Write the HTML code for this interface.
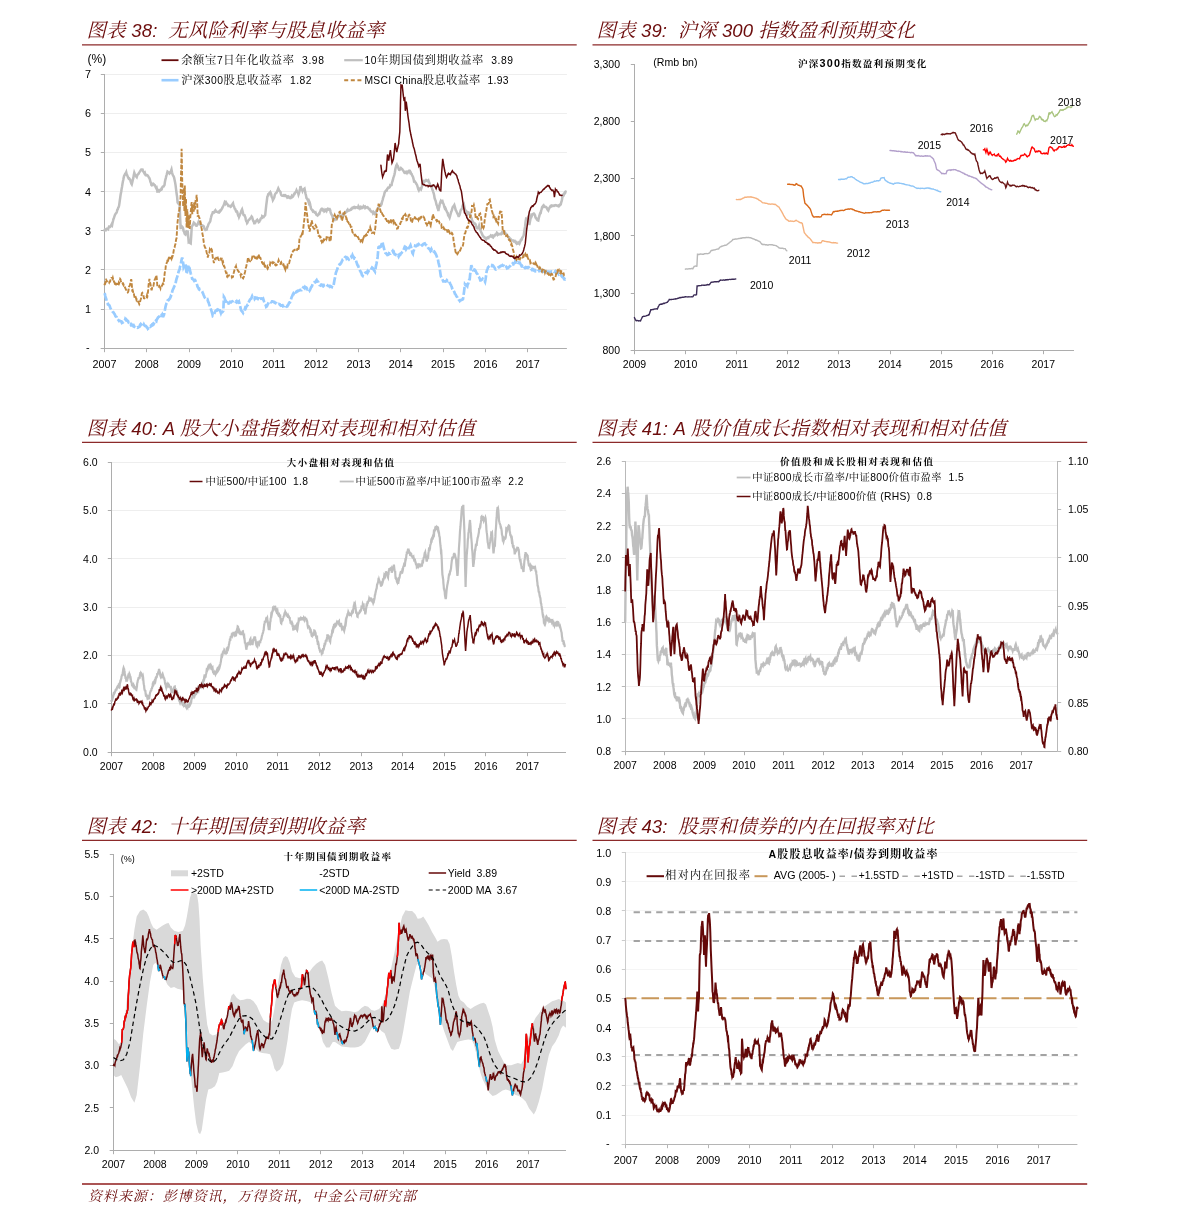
<!DOCTYPE html>
<html lang="zh"><head><meta charset="utf-8"><title>图表 38-43</title>
<style>html,body{margin:0;padding:0;background:#fff}svg{display:block}</style></head>
<body>
<svg width="1191" height="1225" viewBox="0 0 1191 1225">
<rect width="1191" height="1225" fill="#fff"/>
<text x="86.4" y="37.0" fill="#6c0c0c" text-anchor="start" font-style="italic" textLength="297.8" lengthAdjust="spacing" xml:space="preserve" style="white-space:pre"><tspan font-family='"Liberation Sans", "Noto Serif CJK SC", serif' font-size="19.5">图表 </tspan><tspan font-family='"Liberation Sans", sans-serif' font-size="18.5">38:  </tspan><tspan font-family='"Liberation Sans", "Noto Serif CJK SC", serif' font-size="19.5">无风险利率与股息收益率</tspan></text>
<line x1="82.0" y1="44.8" x2="576.7" y2="44.8" stroke="#8c2a2a" stroke-width="1.3"/>
<text x="596.5" y="37.0" fill="#6c0c0c" text-anchor="start" font-style="italic" textLength="318.2" lengthAdjust="spacing" xml:space="preserve" style="white-space:pre"><tspan font-family='"Liberation Sans", "Noto Serif CJK SC", serif' font-size="19.5">图表 </tspan><tspan font-family='"Liberation Sans", sans-serif' font-size="18.5">39:  </tspan><tspan font-family='"Liberation Sans", "Noto Serif CJK SC", serif' font-size="19.5">沪深 </tspan><tspan font-family='"Liberation Sans", sans-serif' font-size="18.5">300 </tspan><tspan font-family='"Liberation Sans", "Noto Serif CJK SC", serif' font-size="19.5">指数盈利预期变化</tspan></text>
<line x1="592.5" y1="44.8" x2="1087.2" y2="44.8" stroke="#8c2a2a" stroke-width="1.3"/>
<text x="86.4" y="435.0" fill="#6c0c0c" text-anchor="start" font-style="italic" textLength="388.5" lengthAdjust="spacing" xml:space="preserve" style="white-space:pre"><tspan font-family='"Liberation Sans", "Noto Serif CJK SC", serif' font-size="19.5">图表 </tspan><tspan font-family='"Liberation Sans", sans-serif' font-size="18.5">40: A </tspan><tspan font-family='"Liberation Sans", "Noto Serif CJK SC", serif' font-size="19.5">股大小盘指数相对表现和相对估值</tspan></text>
<line x1="82.0" y1="442.3" x2="576.7" y2="442.3" stroke="#8c2a2a" stroke-width="1.3"/>
<text x="596.5" y="435.0" fill="#6c0c0c" text-anchor="start" font-style="italic" textLength="410.0" lengthAdjust="spacing" xml:space="preserve" style="white-space:pre"><tspan font-family='"Liberation Sans", "Noto Serif CJK SC", serif' font-size="19.5">图表 </tspan><tspan font-family='"Liberation Sans", sans-serif' font-size="18.5">41: A </tspan><tspan font-family='"Liberation Sans", "Noto Serif CJK SC", serif' font-size="19.5">股价值成长指数相对表现和相对估值</tspan></text>
<line x1="592.5" y1="442.3" x2="1087.2" y2="442.3" stroke="#8c2a2a" stroke-width="1.3"/>
<text x="86.4" y="832.8" fill="#6c0c0c" text-anchor="start" font-style="italic" textLength="278.3" lengthAdjust="spacing" xml:space="preserve" style="white-space:pre"><tspan font-family='"Liberation Sans", "Noto Serif CJK SC", serif' font-size="19.5">图表 </tspan><tspan font-family='"Liberation Sans", sans-serif' font-size="18.5">42:  </tspan><tspan font-family='"Liberation Sans", "Noto Serif CJK SC", serif' font-size="19.5">十年期国债到期收益率</tspan></text>
<line x1="82.0" y1="840.4" x2="576.7" y2="840.4" stroke="#8c2a2a" stroke-width="1.3"/>
<text x="596.5" y="832.8" fill="#6c0c0c" text-anchor="start" font-style="italic" textLength="337.2" lengthAdjust="spacing" xml:space="preserve" style="white-space:pre"><tspan font-family='"Liberation Sans", "Noto Serif CJK SC", serif' font-size="19.5">图表 </tspan><tspan font-family='"Liberation Sans", sans-serif' font-size="18.5">43:  </tspan><tspan font-family='"Liberation Sans", "Noto Serif CJK SC", serif' font-size="19.5">股票和债券的内在回报率对比</tspan></text>
<line x1="592.5" y1="840.4" x2="1087.2" y2="840.4" stroke="#8c2a2a" stroke-width="1.3"/>
<line x1="82.0" y1="1184.0" x2="1087.2" y2="1184.0" stroke="#ab5555" stroke-width="2"/>
<text x="88.0" y="1201.0" fill="#6c0c0c" text-anchor="start" font-style="italic" textLength="328.0" lengthAdjust="spacing" xml:space="preserve" style="white-space:pre"><tspan font-family='"Liberation Sans", "Noto Serif CJK SC", serif' font-size="14">资料来源：彭博资讯，万得资讯，中金公司研究部</tspan></text>
<line x1="104.5" y1="309.5" x2="566.9" y2="309.5" stroke="#eeeeee" stroke-width="1"/>
<line x1="104.5" y1="269.5" x2="566.9" y2="269.5" stroke="#eeeeee" stroke-width="1"/>
<line x1="104.5" y1="230.5" x2="566.9" y2="230.5" stroke="#eeeeee" stroke-width="1"/>
<line x1="104.5" y1="191.5" x2="566.9" y2="191.5" stroke="#eeeeee" stroke-width="1"/>
<line x1="104.5" y1="152.5" x2="566.9" y2="152.5" stroke="#eeeeee" stroke-width="1"/>
<line x1="104.5" y1="113.5" x2="566.9" y2="113.5" stroke="#eeeeee" stroke-width="1"/>
<line x1="104.5" y1="74.5" x2="566.9" y2="74.5" stroke="#eeeeee" stroke-width="1"/>
<line x1="104.5" y1="74.0" x2="104.5" y2="348.5" stroke="#adadad" stroke-width="1"/>
<line x1="100.8" y1="348.5" x2="566.9" y2="348.5" stroke="#adadad" stroke-width="1"/>
<line x1="100.8" y1="348.5" x2="104.5" y2="348.5" stroke="#adadad" stroke-width="1"/>
<line x1="100.8" y1="309.5" x2="104.5" y2="309.5" stroke="#adadad" stroke-width="1"/>
<line x1="100.8" y1="269.5" x2="104.5" y2="269.5" stroke="#adadad" stroke-width="1"/>
<line x1="100.8" y1="230.5" x2="104.5" y2="230.5" stroke="#adadad" stroke-width="1"/>
<line x1="100.8" y1="191.5" x2="104.5" y2="191.5" stroke="#adadad" stroke-width="1"/>
<line x1="100.8" y1="152.5" x2="104.5" y2="152.5" stroke="#adadad" stroke-width="1"/>
<line x1="100.8" y1="113.5" x2="104.5" y2="113.5" stroke="#adadad" stroke-width="1"/>
<line x1="100.8" y1="74.5" x2="104.5" y2="74.5" stroke="#adadad" stroke-width="1"/>
<line x1="104.5" y1="348.5" x2="104.5" y2="352.2" stroke="#adadad" stroke-width="1"/>
<line x1="146.5" y1="348.5" x2="146.5" y2="352.2" stroke="#adadad" stroke-width="1"/>
<line x1="189.5" y1="348.5" x2="189.5" y2="352.2" stroke="#adadad" stroke-width="1"/>
<line x1="231.5" y1="348.5" x2="231.5" y2="352.2" stroke="#adadad" stroke-width="1"/>
<line x1="273.5" y1="348.5" x2="273.5" y2="352.2" stroke="#adadad" stroke-width="1"/>
<line x1="316.5" y1="348.5" x2="316.5" y2="352.2" stroke="#adadad" stroke-width="1"/>
<line x1="358.5" y1="348.5" x2="358.5" y2="352.2" stroke="#adadad" stroke-width="1"/>
<line x1="400.5" y1="348.5" x2="400.5" y2="352.2" stroke="#adadad" stroke-width="1"/>
<line x1="443.5" y1="348.5" x2="443.5" y2="352.2" stroke="#adadad" stroke-width="1"/>
<line x1="485.5" y1="348.5" x2="485.5" y2="352.2" stroke="#adadad" stroke-width="1"/>
<line x1="527.5" y1="348.5" x2="527.5" y2="352.2" stroke="#adadad" stroke-width="1"/>
<text x="91.0" y="313.0" font-size="10.8" font-family='"Liberation Sans", "Noto Sans CJK SC", sans-serif' fill="#000" text-anchor="end" xml:space="preserve" style="white-space:pre">1</text>
<text x="91.0" y="273.8" font-size="10.8" font-family='"Liberation Sans", "Noto Sans CJK SC", sans-serif' fill="#000" text-anchor="end" xml:space="preserve" style="white-space:pre">2</text>
<text x="91.0" y="234.7" font-size="10.8" font-family='"Liberation Sans", "Noto Sans CJK SC", sans-serif' fill="#000" text-anchor="end" xml:space="preserve" style="white-space:pre">3</text>
<text x="91.0" y="195.6" font-size="10.8" font-family='"Liberation Sans", "Noto Sans CJK SC", sans-serif' fill="#000" text-anchor="end" xml:space="preserve" style="white-space:pre">4</text>
<text x="91.0" y="156.4" font-size="10.8" font-family='"Liberation Sans", "Noto Sans CJK SC", sans-serif' fill="#000" text-anchor="end" xml:space="preserve" style="white-space:pre">5</text>
<text x="91.0" y="117.3" font-size="10.8" font-family='"Liberation Sans", "Noto Sans CJK SC", sans-serif' fill="#000" text-anchor="end" xml:space="preserve" style="white-space:pre">6</text>
<text x="91.0" y="78.2" font-size="10.8" font-family='"Liberation Sans", "Noto Sans CJK SC", sans-serif' fill="#000" text-anchor="end" xml:space="preserve" style="white-space:pre">7</text>
<text x="89.5" y="350.9" font-size="10.8" font-family='"Liberation Sans", "Noto Sans CJK SC", sans-serif' fill="#000" text-anchor="end" xml:space="preserve" style="white-space:pre">-</text>
<text x="104.5" y="367.7" font-size="10.8" font-family='"Liberation Sans", "Noto Sans CJK SC", sans-serif' fill="#000" text-anchor="middle" xml:space="preserve" style="white-space:pre">2007</text>
<text x="146.8" y="367.7" font-size="10.8" font-family='"Liberation Sans", "Noto Sans CJK SC", sans-serif' fill="#000" text-anchor="middle" xml:space="preserve" style="white-space:pre">2008</text>
<text x="189.1" y="367.7" font-size="10.8" font-family='"Liberation Sans", "Noto Sans CJK SC", sans-serif' fill="#000" text-anchor="middle" xml:space="preserve" style="white-space:pre">2009</text>
<text x="231.5" y="367.7" font-size="10.8" font-family='"Liberation Sans", "Noto Sans CJK SC", sans-serif' fill="#000" text-anchor="middle" xml:space="preserve" style="white-space:pre">2010</text>
<text x="273.8" y="367.7" font-size="10.8" font-family='"Liberation Sans", "Noto Sans CJK SC", sans-serif' fill="#000" text-anchor="middle" xml:space="preserve" style="white-space:pre">2011</text>
<text x="316.1" y="367.7" font-size="10.8" font-family='"Liberation Sans", "Noto Sans CJK SC", sans-serif' fill="#000" text-anchor="middle" xml:space="preserve" style="white-space:pre">2012</text>
<text x="358.4" y="367.7" font-size="10.8" font-family='"Liberation Sans", "Noto Sans CJK SC", sans-serif' fill="#000" text-anchor="middle" xml:space="preserve" style="white-space:pre">2013</text>
<text x="400.7" y="367.7" font-size="10.8" font-family='"Liberation Sans", "Noto Sans CJK SC", sans-serif' fill="#000" text-anchor="middle" xml:space="preserve" style="white-space:pre">2014</text>
<text x="443.1" y="367.7" font-size="10.8" font-family='"Liberation Sans", "Noto Sans CJK SC", sans-serif' fill="#000" text-anchor="middle" xml:space="preserve" style="white-space:pre">2015</text>
<text x="485.4" y="367.7" font-size="10.8" font-family='"Liberation Sans", "Noto Sans CJK SC", sans-serif' fill="#000" text-anchor="middle" xml:space="preserve" style="white-space:pre">2016</text>
<text x="527.7" y="367.7" font-size="10.8" font-family='"Liberation Sans", "Noto Sans CJK SC", sans-serif' fill="#000" text-anchor="middle" xml:space="preserve" style="white-space:pre">2017</text>
<text x="87.6" y="63.3" font-size="12" font-family='"Liberation Sans", "Noto Sans CJK SC", sans-serif' fill="#000" text-anchor="start" xml:space="preserve" style="white-space:pre">(%)</text>
<path d="M104.4 230.4l0.5-0.9l0.4 0.3l0.5 0.4l0.4-0.7l0.5-0.8l0.5 0l0.4 0.3l0.5 0.3l0.4-1.4l0.5-1.1l0.4 0.2l0.5-0.3l0.4 0.1l0.4-0.4l0.5-1.1l0.4-0.9l0.5 0.7l0.4-2.1l0.5-2l0.4-1.8l0.4-1l0.4-1.1l0.5-1.4l0.4-1.2l0.5-0.7l0.4-0.6l0.5-0.5l0.4-1.1l0.5-2.1l0.4-0.2l0.4-1.6l0.5-0.7l0.4-1.4l0.5-3.6l0.6-4.2l0.5-3.6l0.5-2.4l0.4-2.8l0.4-2l0.5-3.2l0.4-2.2l0.4-1.8l0.4-2.2l0.5-2l0.5-0.7l0.5-1.3l0.5-0.2l0.5-1.1l0.5 2.3l0.5 0.6l0.5 1.4l0.5 1l0.5 0.9l0.5-0.1l0.5 1l0.5 0.2l0.4 1.8l0.4 1.2l0.4 1l0.4 0.7l0.5-2l0.5-2.3l0.5-1.8l0.5-3.1l0.5-2.3l0.4 1l0.5 1l0.5 0.9l0.5 0.9l0.5 0.6l0.4-1.4l0.4-1l0.5-0.5l0.4-0.2l0.5-0.9l0.4-0.9l0.5-0.6l0.5-0.7l0.4-0.9l0.5-0.5l0.5 0l0.4-0.1l0.5 0.1l0.4 1.7l0.5 0.3l0.4 0.9l0.4 0.7l0.5-0.5l0.4 1.7l0.4 0.6l0.5-0.1l0.4 0.4l0.4 0.1l0.5-0.2l0.5 0.5l0.5 0.8l0.5 1l0.5 0.6l0.5 1.4l0.5 2.3l0.5 1l0.5 2.1l0.4 0.3l0.4-0.5l0.5-1l0.4-0.1l0.4 0.5l0.5 0.4l0.4 0.7l0.4 0l0.5 0.9l0.4 1.2l0.4 0.7l0.5-0.4l0.4 1.8l0.4 2.1l0.5-0.1l0.4-1.1l0.4-0.4l0.5 0l0.4 1.1l0.4-0.4l0.5-0.5l0.4-0.1l0.4-1.1l0.5 0.1l0.4-1.5l0.5-0.9l0.4-0.2l0.5 0l0.4-0.6l0.5-0.8l0.4-3l0.4-2l0.5-1.9l0.4-1.8l0.4-1.3l0.5-2l0.4-1.4l0.5 0.4l0.5 0.3l0.5 0.5l0.5 0.8l0.5-0.5l0.5-1.2l0.5-0.9l0.5-1.4l0.5 2.6l0.5 2.1l0.5 1l0.6 1l0.5 1.4l0.5 2.4l0.5 2.3l0.5 3.1l0.5 4.2l0.5 3.8l0.5 3.3l0.5 5.8l0.5 0.6l0.5-0.4l0.5 0.9l0.5-0.1l0.5 13.2l0.5 11.1l0.5 0l0.5-0.2l0.5-1l0.5 0.5l0.5 1.2l0.5 2.6l0.5 0.8l0.5 1.9l0.5 0.5l0.4 0.3l0.4-1.6l0.5-1.3l0.4 0.3l0.4-0.2l0.5-1.2l0.5 5.8l0.5 5.9l0.5-0.3l0.5 0.1l0.5 1l0.5 0.3l0.5-7.2l0.5-8.7l0.4-1l0.5-1.2l0.4-0.4l0.4-1.2l0.4-1.1l0.5 0.4l0.4 0.3l0.5 1l0.5 1.1l0.5 0.4l0.5 0l0.5-0.7l0.5-0.9l0.5-1.3l0.5-1.3l0.5 0.6l0.5 1.3l0.6 1.2l0.5 0.7l0.5 0.6l0.5-0.3l0.5-0.2l0.5 0.2l0.5 0.4l0.5 0.3l0.5 2l0.5 1l0.5 0.6l0.5-0.3l0.5 0.1l0.5-0.2l0.4-2.4l0.5-0.4l0.4-1.3l0.4-1.2l0.5-1l0.4-0.4l0.4-0.6l0.5-1l0.4-2.5l0.4-1.4l0.5-2.2l0.4-0.7l0.4-0.6l0.4-1.6l0.5 0l0.4-0.1l0.4 0.2l0.5-1l0.4-0.6l0.4-0.5l0.5 0.9l0.4 0.6l0.4-0.1l0.5 0.2l0.4 0.2l0.4 0.3l0.5 0.1l0.4 0.1l0.4-1.2l0.5-0.5l0.4 0.5l0.4-0.5l0.5-0.7l0.4-0.9l0.4-0.5l0.4-0.8l0.5-1.2l0.4-0.7l0.4-0.8l0.5-1.2l0.4-1.2l0.4-1.1l0.5 0.3l0.4 1.3l0.4-0.7l0.5 0.9l0.4 0.5l0.4 0.4l0.5 0.8l0.4 0.9l0.4 0l0.5 0l0.4-0.2l0.4 0.2l0.5 0.7l0.4-0.2l0.5-1.1l0.5-0.9l0.5-0.6l0.5-0.7l0.4 2l0.5 1.1l0.4 0.7l0.4 1.6l0.5 0.2l0.4 1.2l0.4 1.1l0.5-0.2l0.4 0.3l0.4 0.9l0.4 1.7l0.5 1.6l0.4 0l0.4 1.5l0.5-1.2l0.4-1.1l0.4-1l0.5-0.9l0.4-1.6l0.4-0.8l0.5-1l0.5 1.8l0.5 2.2l0.5 1.6l0.5 0.2l0.4 0l0.4 1.2l0.5 0.9l0.4 2.5l0.4 1.2l0.5 0.5l0.4 1.6l0.4-0.5l0.5-1.6l0.4-0.6l0.4-0.4l0.5-0.4l0.4-0.4l0.4-0.7l0.5-0.4l0.5-0.7l0.5-0.9l0.5 0.6l0.5 1.7l0.5 1.8l0.6 0.8l0.5 1.9l0.4 0l0.4-1.3l0.5 0.2l0.4-0.9l0.4-0.3l0.4-0.7l0.5-0.5l0.5 1l0.5 0l0.5 1.3l0.5-0.3l0.4-1.2l0.5-0.2l0.4-1.3l0.4-0.7l0.5-0.1l0.4-0.2l0.4-1.9l0.4 0.3l0.5 0.8l0.4 0l0.4-0.7l0.5-0.7l0.4-0.3l0.4-0.6l0.5-4.6l0.5-4.7l0.6-4.7l0.5-4.1l0.4-0.8l0.4-1.4l0.4 0.2l0.5-1.2l0.4-0.6l0.4-0.4l0.5-0.6l0.4 0.8l0.5 1.4l0.4 2.5l0.4 0.5l0.5 1.1l0.4 1.7l0.5-0.9l0.5-0.9l0.4-1l0.5-2.3l0.5-1.2l0.4-0.5l0.5-0.5l0.4-0.2l0.4-1l0.5-1.2l0.4-1l0.4-1l0.5 1l0.4 1.2l0.4 0.5l0.5 0.4l0.4 0.6l0.4 1.7l0.5 1.4l0.4 0.3l0.4 0.2l0.5 0.1l0.4-0.2l0.4 0.2l0.5-0.6l0.4 0.1l0.4-0.1l0.4 0.7l0.5-0.2l0.4 0.2l0.4 0.4l0.5 0.8l0.4-0.6l0.4-0.2l0.5 0.9l0.4-0.3l0.4 0.7l0.5 0l0.4 0.4l0.4-0.5l0.5 0.2l0.4-0.7l0.4-0.9l0.5 0.8l0.4-0.5l0.4 0l0.5-1l0.4-1.1l0.4-0.7l0.4 0.1l0.5-1l0.4-0.6l0.4-0.5l0.5-1.3l0.5 1.1l0.5 0.8l0.5 0.5l0.5 1.8l0.5-1.4l0.5-1.9l0.5-2.3l0.5-2.7l0.5 1.8l0.5 1.2l0.5 0.3l0.5 1.4l0.5-1.3l0.5-0.3l0.5-0.4l0.5-0.4l0.5 2.6l0.5 2.5l0.5 1.9l0.5 2.6l0.5 0.5l0.4 0.7l0.4 0.9l0.5 0.9l0.4 1.3l0.4-1.2l0.5 1.1l0.5 1.8l0.5 3l0.5 1.8l0.5 0.4l0.4 0.8l0.5 0.1l0.4 1.1l0.4-0.3l0.4 0.5l0.5 0.5l0.4 0.5l0.4 0.2l0.5-0.3l0.4 1.1l0.4 1.1l0.5 0.3l0.4-0.1l0.4 0.7l0.5-0.3l0.4-0.9l0.5-0.7l0.4 0.1l0.5-1.6l0.4-0.9l0.5-1.4l0.4-0.5l0.5-0.6l0.4 0l0.5 0.2l0.4 1.4l0.5-0.1l0.4 0l0.4 1.2l0.5-0.4l0.4-1.1l0.5 0.6l0.4-0.5l0.5 0.9l0.4-1l0.5-0.2l0.4-0.7l0.5 0.4l0.4-0.4l0.5 0.2l0.4-0.1l0.5 1.1l0.4 1.9l0.4 1.5l0.5 0.9l0.4 0.6l0.4 0.7l0.4 1.6l0.5 2l0.5 0l0.5 0.1l0.5 0.4l0.5-0.8l0.4-0.6l0.5-0.1l0.4 0.5l0.5-0.6l0.4-0.8l0.4-1.2l0.5 0.1l0.4 0l0.5-0.7l0.4-0.3l0.5 0.2l0.4 0.6l0.4 0.1l0.5-0.2l0.4-0.5l0.5-0.3l0.4-0.5l0.5 0.6l0.4-1.5l0.5-0.7l0.4 0.3l0.4-0.8l0.5 0.1l0.4-0.6l0.5-0.4l0.4-0.7l0.5-0.9l0.4-0.5l0.5 1.2l0.4-0.3l0.4-0.3l0.5 0.1l0.4-0.3l0.4 0l0.5-0.7l0.4-0.5l0.4 0.3l0.5-0.6l0.4-0.9l0.4 0l0.4-0.3l0.5 0.4l0.4-0.5l0.4-0.4l0.5 0.1l0.4 0.9l0.4-0.3l0.5-0.1l0.4-0.2l0.4 0l0.4 0.3l0.5 0.3l0.4-1.3l0.4 0.8l0.5-0.2l0.4-0.2l0.4 1.2l0.5-0.6l0.4 0.8l0.4-0.1l0.5-1l0.4 0.2l0.4 0.3l0.4-0.3l0.5-1.2l0.4 0.4l0.4 0.2l0.5-0.3l0.4 1.4l0.4-0.3l0.5-0.2l0.4-0.1l0.4-0.2l0.4-0.1l0.5 0.4l0.4 0.8l0.5 0.3l0.4 0.6l0.5-0.1l0.4 1.2l0.4 0.2l0.5 0.9l0.4 0.1l0.5 0.1l0.4 0.5l0.5-0.3l0.4 1.7l0.4-0.3l0.5-0.1l0.4-0.3l0.5 1.1l0.5-0.3l0.4-1.1l0.5-1.7l0.5-0.8l0.4-0.2l0.5-0.9l0.5-1.1l0.5-0.9l0.4-0.5l0.5-0.2l0.5-0.7l0.5-0.9l0.4 0.4l0.5-1l0.5-2.4l0.5-1.5l0.4-1.7l0.5-1.7l0.5-1.1l0.4-2l0.5-1.8l0.5-0.6l0.4-0.5l0.4 0.2l0.5-0.3l0.4-1.5l0.5-0.6l0.4-0.7l0.4 0.2l0.5-0.4l0.4 0l0.5-0.7l0.4-1.6l0.5 0.2l0.4-0.2l0.5-0.2l0.4-2.5l0.5-1.3l0.5-1.9l0.4-1.8l0.5-1.2l0.5-1.8l0.5-2.4l0.4-2.7l0.5-2.2l0.5-1.7l0.5-0.9l0.4 1.1l0.5 0.1l0.5 1.3l0.5 1.9l0.4 0.7l0.5 0.1l0.5-0.5l0.4-0.4l0.5-1l0.5 0.5l0.5 0.6l0.4 0.3l0.5 0.9l0.5 0.5l0.5 1l0.4 0.9l0.4 0.2l0.5 0l0.4-0.2l0.5-0.7l0.4 0.4l0.4 0.6l0.5-1l0.5 0.4l0.5-0.8l0.4-0.3l0.5-0.7l0.5 0.1l0.5 2l0.4-0.2l0.5 1.3l0.5 0.3l0.4 1.3l0.5 0.8l0.5 1.1l0.5 1.8l0.4 2.1l0.5-0.2l0.5 0.6l0.5 1.1l0.4 0.2l0.5 1.1l0.5 0.6l0.5 1.6l0.4 1.3l0.5 1.7l0.5 1l0.4-1.1l0.5 0.2l0.5-0.9l0.5 0.3l0.4 0.5l0.5-1.5l0.5-2l0.5-0.9l0.4-1.7l0.5-2.2l0.5-0.1l0.4 0.8l0.4-0.4l0.5 0l0.4-0.3l0.5-0.9l0.4 0.1l0.5 0.5l0.4 0.5l0.5 0.3l0.5-0.7l0.5 1.4l0.4 0.7l0.5 1.3l0.5 1.3l0.4 0.2l0.5 0.5l0.5 1.2l0.5 2.4l0.4 0.4l0.5 1.7l0.5 1.5l0.5 2.2l0.4 2.6l0.5 1.4l0.5 1.2l0.5 2.1l0.4 1.9l0.5 0.8l0.5 2.3l0.5 1.3l0.4 1.9l0.4-2.8l0.5-1.2l0.4-2.9l0.4-1.3l0.5-1.3l0.4 0.9l0.5-0.6l0.5-1l0.4 0l0.5 1.9l0.5 1l0.5 1.4l0.4 1.8l0.5 1.4l0.5-0.5l0.5 1.1l0.4 1.4l0.5 1l0.5 1.2l0.5 0.4l0.4 2.3l0.5 0.8l0.5 0.6l0.5 1.1l0.4-1.3l0.5-1.9l0.5-2l0.4-0.9l0.5-1.4l0.5-2.1l0.5-1.2l0.4-0.3l0.5-0.8l0.5-0.8l0.5 1.7l0.4 1.4l0.5 2l0.5 0.7l0.5 1.2l0.4 0.9l0.5 1l0.5 0.9l0.4 1.2l0.5 0l0.5-1l0.5-1.6l0.4-2.2l0.5-1.4l0.5-0.3l0.5-0.8l0.4-1.4l0.5-2l0.5-0.6l0.5-0.6l0.4 1.8l0.5 2.8l0.5 1.4l0.5 1.2l0.4 0.6l0.5-0.4l0.4 0.4l0.5 0.1l0.4 1.9l0.4-0.6l0.5-0.4l0.4 0.7l0.5 0l0.4 0.6l0.5 2.3l0.5 1.1l0.5 0.7l0.4 1.8l0.5 1.1l0.5 0.5l0.5 1.1l0.4 0.9l0.5 0.1l0.5-0.3l0.5 0.4l0.4 1.3l0.5 1.7l0.5 1.1l0.5 0.2l0.4 0.1l0.5-0.8l0.5-0.1l0.4-1.4l0.5 1.9l0.5 1.5l0.5 1.2l0.4 1.2l0.5 0.9l0.5 1.1l0.5 1.5l0.4 0.3l0.5 0.9l0.5 0.2l0.5 0.7l0.4 0l0.5 0.8l0.5 0.4l0.4 0.7l0.5-0.7l0.4-1l0.5-0.2l0.4 0.3l0.5 0.3l0.4-1.1l0.5-0.2l0.4-0.3l0.4 0l0.5-0.8l0.4 0.5l0.5-0.3l0.4 1l0.5 0.4l0.4 0.2l0.4-1.4l0.5 0.3l0.4 0l0.5-1.2l0.4 0.2l0.5-0.5l0.4-0.6l0.5-0.8l0.4-0.8l0.4 0.3l0.5 2l0.4-0.3l0.5-0.1l0.4-0.4l0.5-0.2l0.4 0l0.5-0.1l0.4 0.3l0.4-0.6l0.5 0.1l0.4-1.2l0.5 0.2l0.4-0.6l0.5-0.2l0.4-0.6l0.5 0.1l0.4 1.5l0.5 0.3l0.5 0.7l0.5 0.3l0.4 0.9l0.5 0.4l0.4 0.9l0.4 0.8l0.5 0.1l0.4 0l0.5 1.2l0.4 1.2l0.5 0.3l0.4-0.6l0.5 0.6l0.4 0.2l0.4 0.2l0.5 0.2l0.4-0.2l0.5 0.3l0.4 0.8l0.5 0l0.4-0.3l0.4 0.7l0.5 0.7l0.4-0.4l0.5 0.6l0.4 1.1l0.5-0.2l0.5-0.1l0.4-0.9l0.5 0.5l0.5 0.6l0.5-1.2l0.4-1.2l0.5-1.3l0.5 0.1l0.5-0.7l0.4-1.7l0.5-0.4l0.5-1l0.5-1.1l0.4-2.4l0.5-3.3l0.5-3.1l0.4-4.2l0.5-2.9l0.4 0.4l0.4-0.2l0.5-1.1l0.4-0.7l0.4 2.1l0.4 1.8l0.4 1.8l0.4 1.6l0.5-2.6l0.5-2.6l0.5-3l0.4-1.3l0.5 0.7l0.5-1.2l0.4-0.9l0.5-0.1l0.5-0.4l0.5 0.1l0.4 0.8l0.5 0.7l0.5 2.3l0.5 0.4l0.4 0.7l0.5 1l0.5 0.5l0.5 0.2l0.4 0.2l0.5-2.6l0.5-1.7l0.4-1.7l0.5-1.4l0.5 0l0.5-2.7l0.4-1l0.5-2.2l0.5-0.5l0.5-0.9l0.4-0.4l0.5 1.2l0.5-0.3l0.5 0.6l0.4-0.1l0.5 0.1l0.5 0.5l0.5 0.7l0.4 1.1l0.5 0.7l0.5 0.6l0.4-1.2l0.5-0.9l0.5-0.9l0.5-0.7l0.4-0.8l0.5-0.3l0.4 0.6l0.4-0.2l0.5-0.4l0.4-0.1l0.5 0.2l0.4-0.2l0.5 0.2l0.4-0.4l0.4-0.1l0.5-0.2l0.4 0.3l0.5-0.1l0.4 0.2l0.5 0.3l0.4-0.1l0.5-0.2l0.4-0.2l0.4 0.7l0.5-0.6l0.4-0.6l0.5 0.1l0.4-0.6l0.5-2.1l0.5-1.5l0.4-2.5l0.5-2.2l0.5-1.1l0.5 0.2l0.4-1.5l0.5-0.7l0.5 0.1l0.5-1.5" fill="none" stroke="#bfbfbf" stroke-width="2.5" stroke-linejoin="miter" stroke-linecap="round"/>
<path d="M104.4 293.2l0.5 0.9l0.4 1.9l0.4 1.5l0.5 1.4l0.4 2.1l0.5 1.4l0.4 0.6l0.4 1.5l0.4 0.1l0.5 0.2l0.4 0.3l0.4 0.8l0.5 1.3l0.4 1l0.4 0.9l0.5 1.1l0.4 0.6l0.4 0.3l0.5 0.8l0.4 0.3l0.4 0.1l0.5 1l0.4 0.5l0.4 0.5l0.5 1.6l0.4 0.6l0.4 0.2l0.5 0.4l0.4 1.5l0.4 0l0.4 0.7l0.5 0.6l0.4 0.5l0.4 0.6l0.5-0.2l0.4 0l0.5 0.2l0.4 0.1l0.5 0.7l0.4 0.8l0.5-0.5l0.4 0.4l0.5-0.3l0.4-0.6l0.4-0.3l0.5-0.2l0.4-0.6l0.4-1.4l0.5 0.7l0.4-0.5l0.4 0.4l0.5 1l0.4 0.2l0.5 0.1l0.4 1.1l0.5 0.8l0.4 0.2l0.5 1l0.4 0.7l0.5-0.5l0.4 1.1l0.4 0l0.5-0.6l0.4 0.5l0.4 0.2l0.4 0.5l0.5-0.6l0.4 0.8l0.5 0.5l0.4 0.3l0.5 0.2l0.4 0.5l0.5 0.2l0.4-0.1l0.5-0.4l0.4 0.3l0.5-0.1l0.4-0.4l0.5-0.4l0.4-0.1l0.5-1.6l0.4 0.2l0.5-1.1l0.4 0.4l0.4 0.7l0.5 0.8l0.4-0.5l0.4 0.1l0.5-0.1l0.4-1l0.4 0.8l0.5 0.3l0.4 0.3l0.5-0.1l0.4 0.4l0.5 0.5l0.4 0.8l0.5 0.2l0.4 1l0.5-0.4l0.4-0.7l0.5-0.5l0.4-0.7l0.5 0.4l0.4-0.3l0.4-1.2l0.5-0.2l0.4 0.1l0.5-1.2l0.4-0.2l0.5-0.4l0.4 0.6l0.4-0.7l0.5-0.9l0.4-0.7l0.4 0.4l0.4-1.1l0.5 0.3l0.4-1.7l0.4-0.6l0.5-0.7l0.4-0.8l0.4-0.5l0.5-0.3l0.5-1.1l0.5-1.2l0.6 0.1l0.4 0.8l0.4-0.3l0.4 0.4l0.5-0.9l0.4 1.2l0.4-0.3l0.5 0.4l0.5-1.1l0.5-3.1l0.5-2.2l0.5-2.6l0.5-2.1l0.5-1.5l0.5-0.9l0.5-1.9l0.5-0.4l0.5 0.1l0.5-0.5l0.5-1l0.5-0.2l0.4-1.3l0.4-0.6l0.4-1.9l0.5-0.5l0.4-2l0.4-1.8l0.5-0.9l0.4-1.1l0.4-0.8l0.5-1.3l0.4-0.7l0.4-0.6l0.5-1.7l0.5-2.7l0.5-1.9l0.5-1.5l0.5-1.7l0.5-1.8l0.5-2l0.5-1.3l0.5-1l0.4-2.5l0.5-1.4l0.4-2.1l0.4-2.1l0.5-2.4l0.4-1.4l0.5 3.2l0.5 2.5l0.4 4l0.5-1l0.5-0.3l0.5-0.8l0.5-1.2l0.5 5.2l0.5 4.8l0.6-2.5l0.5-2.1l0.5-1.8l0.5-2.3l0.5 1.9l0.5 1.8l0.5 2.3l0.5 2.1l0.5 1.8l0.5 1.5l0.5 2.2l0.5 0.3l0.4 0.3l0.5 0.5l0.4 0.6l0.4-0.6l0.5 0l0.4 0.6l0.4 0.9l0.4 1.5l0.5 0.3l0.4 1.3l0.4 1.7l0.5 1l0.4 0.6l0.4 1l0.5-0.1l0.4 1.2l0.4 0.1l0.5 0.2l0.4 0l0.4 0.4l0.5 0.1l0.4 0.7l0.4 1.2l0.5 0.9l0.4 1.2l0.4 0.9l0.5 1.4l0.4 0.6l0.4 0.4l0.4 0.4l0.5 0l0.4 1l0.4 0l0.5-0.2l0.4 1.3l0.4 1.4l0.5 0.7l0.4 1.6l0.5 1.4l0.4 1.2l0.4 0.4l0.5 2l0.5 1.4l0.5 1.7l0.5 1.8l0.4 1.7l0.5-0.4l0.4-1.1l0.4-0.4l0.5-0.8l0.4-1.2l0.4-0.7l0.5-0.5l0.4 0l0.4-0.6l0.5 0.3l0.4-0.4l0.4-0.1l0.5-1.3l0.4-0.7l0.5 1.7l0.5 0.8l0.5 1.2l0.5 1.4l0.5-1.3l0.5-0.1l0.5 0.4l0.4-0.4l0.5-0.7l0.6-14.1l0.5 0.8l0.4 1.2l0.4 1.3l0.5 0.6l0.4 1.1l0.4 0.9l0.5 1.2l0.4 0l0.4-0.9l0.5 0.4l0.4 0.1l0.5-0.9l0.4-0.1l0.5-0.7l0.4 0.1l0.5 0.3l0.4-0.5l0.5-0.2l0.4-0.2l0.5-0.1l0.4-0.1l0.5-0.3l0.4 0.5l0.5-0.1l0.4-0.3l0.5 0.7l0.4-0.2l0.5 0.6l0.4-0.6l0.5 0.9l0.4-0.3l0.4-0.3l0.5 0.5l0.4-0.5l0.5 1.9l0.6 2.4l0.5 2l0.5 2.3l0.5 0.6l0.5 0.6l0.5 0.5l0.5 0.8l0.4-0.9l0.4-0.4l0.5-0.5l0.4-1.9l0.4-1.3l0.5 0.4l0.4-1l0.4-0.7l0.5-0.9l0.4-0.7l0.4 0l0.5-1.6l0.4-1l0.4-0.9l0.5-1.1l0.4-0.7l0.4-0.4l0.4-0.4l0.5-0.3l0.4-1.4l0.4-0.9l0.5 1.3l0.4 0l0.4 0.6l0.5-0.2l0.4-0.2l0.4 1.2l0.5-0.7l0.4-0.3l0.5 0.6l0.4 0l0.5-0.6l0.4 0.4l0.5 0.5l0.4-0.6l0.4 0.1l0.5 0.6l0.4 0.9l0.5-1.3l0.4 0l0.5 0.3l0.4-0.2l0.5-0.1l0.4 0.1l0.5 0.6l0.4-0.4l0.5 1.6l0.4 1.3l0.4 1.2l0.5 1.4l0.4 0.4l0.4 0.8l0.4 1.4l0.5-0.3l0.4-0.6l0.4-1.1l0.5-0.9l0.4-1.1l0.4-0.5l0.5-0.7l0.4 0l0.5-0.1l0.4 0.5l0.5 0.2l0.4-0.3l0.5-0.7l0.4 0l0.5 0.2l0.4 0.2l0.4 0.2l0.5 0.5l0.4-0.2l0.4 0.5l0.5 0.5l0.4-0.1l0.4 0l0.5 0.8l0.4-0.5l0.4 0.5l0.4 0l0.5 0l0.4 0.1l0.4 0.1l0.5 0.2l0.4 0.9l0.5 0.4l0.4-0.3l0.5 0.1l0.4 0.2l0.5-0.3l0.4 0.8l0.5-0.3l0.4 0.2l0.5-0.5l0.4-0.3l0.5-0.1l0.4 0.1l0.5 0.9l0.4-0.1l0.5 0.6l0.4-0.2l0.4-1.2l0.5-0.4l0.4-0.9l0.4-1.3l0.5-0.3l0.4 0l0.4-0.9l0.5-1.7l0.4-1.3l0.4-1.4l0.5-0.8l0.4-1.3l0.4-0.9l0.5-0.9l0.4 0.4l0.4-0.9l0.5-1l0.4 0.9l0.5-0.1l0.4-0.5l0.5 0l0.4-0.7l0.5-0.3l0.4 0.2l0.5-0.4l0.4-0.1l0.5-0.1l0.4-0.2l0.5-0.4l0.4 0l0.5 0.2l0.4 0l0.5-1l0.4 0.1l0.5-1.2l0.4-0.6l0.5 0.4l0.4 0.1l0.4 0.4l0.5-1.3l0.4 0.4l0.5 0l0.4 0.2l0.5 0.7l0.4 0.9l0.5-0.4l0.4-0.3l0.5 0.4l0.4 0.6l0.5 1l0.4-0.7l0.5-1.1l0.4-1l0.5-0.9l0.4-0.2l0.5-1.6l0.4-0.9l0.5-0.8l0.4 0l0.4-0.5l0.5-0.7l0.4 0l0.4 0.3l0.5-0.4l0.4-1.4l0.4-0.5l0.5 1.2l0.4-0.2l0.4 0.4l0.5 0.9l0.4 1.2l0.4 0.5l0.4 0.9l0.5 0.1l0.4 0.4l0.5-0.4l0.4-0.6l0.5 0.1l0.4 0.7l0.5 0.8l0.4 0.2l0.5-0.6l0.4-0.7l0.4 0.2l0.5-0.2l0.4-0.6l0.4 0.2l0.5-0.1l0.4 0.2l0.4 0.5l0.5 0.3l0.4 0.1l0.4 0.4l0.4-0.1l0.5-0.1l0.4 0l0.4 0.8l0.5-0.4l0.4 0.2l0.4 0.4l0.4 0.2l0.5-1.5l0.4 0l0.4 0.4l0.5-0.4l0.4-2.7l0.5-2.8l0.5-2.4l0.4-2l0.5-3l0.5-1l0.5-1.5l0.4-1.1l0.5-1.7l0.5-1.1l0.4-0.4l0.5-0.8l0.4-0.7l0.5 0l0.4-0.4l0.4-1.1l0.5-0.3l0.4-1.2l0.5-0.6l0.4-1.3l0.5-0.3l0.4 0.1l0.5-0.7l0.4-0.2l0.4-0.9l0.5-0.4l0.4 0.3l0.5-0.1l0.4 1.4l0.5-0.4l0.4-0.2l0.5 0.6l0.4 0.6l0.4 0.4l0.5-0.6l0.4-0.3l0.5-0.1l0.4-0.4l0.5-1.3l0.4 0.4l0.4-0.7l0.5-1.4l0.5 1.1l0.4 0.4l0.5 0.6l0.5 1.3l0.5-0.1l0.4 0.8l0.5 0.8l0.5 1.5l0.5 1.5l0.4 1.3l0.5 1.1l0.5 0.2l0.4 1.7l0.5 1.8l0.5 0.8l0.4 0.6l0.5 0.6l0.4 1.2l0.5 0.3l0.4 2l0.4 0.6l0.5 0.5l0.4-1l0.5-0.1l0.5-0.2l0.5-0.9l0.4-0.5l0.5-0.5l0.5 0.2l0.4-0.1l0.4 0.1l0.5-1.1l0.4 1l0.5-0.8l0.4-0.8l0.5-0.4l0.4-0.1l0.4-0.1l0.5 0.4l0.4-0.6l0.5-1.3l0.4-0.8l0.4-0.7l0.5 0.4l0.5 0.7l0.5 0.5l0.4 1.2l0.5 0.6l0.5 0.8l0.5-2.7l0.4-2.9l0.5-2l0.5-2.5l0.4-1.5l0.4-3.7l0.4-4.9l0.4-4.3l0.5-0.3l0.5-0.1l0.5 0.3l0.4-0.4l0.5-0.1l0.4-1.4l0.4-1.3l0.4-0.6l0.5-1.4l0.4 2.8l0.5 1.6l0.5 2l0.4 2l0.5 1.1l0.5 1.5l0.5 0.2l0.4 0.6l0.5 0.6l0.5 0.7l0.4-0.1l0.4-0.2l0.5-0.2l0.4-1.1l0.5 0.4l0.4-0.1l0.5 0l0.4-0.6l0.5-0.5l0.5-0.5l0.5-0.7l0.4-0.5l0.5 1.1l0.5-0.3l0.5 1.5l0.4 1l0.5 0.1l0.4 0.6l0.5 0.2l0.4-0.1l0.5 0.9l0.4-0.1l0.5-0.1l0.4-0.4l0.5 1.2l0.4-0.8l0.4-0.6l0.5-0.9l0.4 0.2l0.5-1.1l0.4-0.1l0.5-0.5l0.4-0.7l0.4-0.5l0.5-0.4l0.4-0.9l0.5-1.5l0.4-1l0.5 0.6l0.4-1.2l0.5 0.5l0.4 1.6l0.5-0.8l0.5 0.8l0.4 0.6l0.5 0l0.5-1.7l0.5-0.6l0.4 0l0.5-1.2l0.5-1l0.5 1.6l0.4 1.7l0.5 1.7l0.5 2.6l0.5 0.8l0.4-2.3l0.5-0.8l0.5-1.6l0.5-1.5l0.4-1.9l0.5 0.1l0.4-0.1l0.5 0.3l0.4-0.3l0.4-0.7l0.5 0.4l0.4-0.1l0.5-0.9l0.4 0.5l0.5 0.9l0.5 0.2l0.5 0.1l0.4 0.5l0.5-0.7l0.4-0.7l0.5 0l0.4-0.6l0.5-0.6l0.4-0.2l0.5-0.3l0.4-0.1l0.5 0.9l0.4 0.5l0.5 0.5l0.5 0.2l0.5 0.9l0.4 0.3l0.4 0.9l0.5 0.7l0.4 0.5l0.5 0.2l0.4 0.4l0.5 1l0.4 0.8l0.5-0.6l0.4-1.2l0.4 0.8l0.5-0.4l0.4 0.6l0.5 0.5l0.4 0.8l0.5-0.2l0.4 0.7l0.5 0.6l0.4 1.1l0.4 0.4l0.5 1.3l0.4 1.1l0.5 1.4l0.4 0.4l0.4 2.2l0.4 2l0.5 2l0.4 1.6l0.4 3.1l0.5 3.3l0.5 3.5l0.5 1.3l0.4 0.5l0.5 1l0.5 1.2l0.5 1.2l0.4 0l0.5 0.1l0.5-0.1l0.5 0.2l0.4 0.1l0.5-0.5l0.5-0.1l0.4-0.7l0.5 0.5l0.5 0.3l0.5-0.5l0.4 0.9l0.5 0.7l0.5 0.6l0.5 1.3l0.4 0.4l0.5 1.2l0.5 1.1l0.5 1.9l0.4 0.1l0.5 1.4l0.4 0.3l0.5 0.9l0.4 0.7l0.5 1.6l0.4 0.4l0.5 0.7l0.4 1.1l0.5 0.7l0.4 0.4l0.4 1.4l0.5 0.1l0.4 0.2l0.5 1.2l0.4 0.3l0.5 0.8l0.4-0.5l0.5-0.4l0.5 0l0.4-0.3l0.5-0.2l0.5-0.1l0.4-0.4l0.5-3.4l0.5-3.6l0.5-4.2l0.4-3.5l0.5 0.7l0.5-0.4l0.5 0.5l0.4 0.4l0.5 0.6l0.5-2.4l0.5-0.3l0.4-2.5l0.5-1.3l0.5-0.3l0.4-4.6l0.4-2.6l0.4-3.9l0.4-3l0.5 1.5l0.5 1l0.5 0.8l0.4 1.4l0.5-0.3l0.5-0.1l0.4 0.8l0.5-0.2l0.5 0.8l0.5 1l0.4 1l0.5 0.6l0.5 0.6l0.5 1.7l0.4 0.3l0.5 0.7l0.5 0.9l0.5 1.1l0.4 1.5l0.5 0l0.5-0.4l0.4-0.4l0.5-0.3l0.5-0.6l0.5 0.5l0.4-0.1l0.5 1.2l0.5 0.6l0.5 1l0.4-2l0.4-3l0.4-2.9l0.4-3l0.5-1.3l0.4-1.1l0.4-1.2l0.5-0.6l0.4-0.4l0.5-0.2l0.4-0.5l0.4-0.2l0.5-0.3l0.4 0.4l0.5 0.3l0.4-0.6l0.5 0.5l0.4-0.3l0.4 0.4l0.5 0.9l0.5 0.5l0.5 0.8l0.4 1l0.5 0.4l0.5 0.1l0.5-0.2l0.4-0.4l0.5-1.1l0.5-0.4l0.4-0.3l0.5-0.2l0.4 0.1l0.5-0.7l0.4-0.2l0.4 0l0.5-0.5l0.4 0l0.5-0.1l0.4-0.5l0.5 0.4l0.4 0.3l0.5 0l0.4 1.1l0.4-0.3l0.5-0.6l0.4 0.3l0.5 0.2l0.4 0.5l0.5 1.2l0.4-0.3l0.4 0.2l0.5-0.5l0.4-0.2l0.5-0.6l0.4-0.3l0.5-0.5l0.4-0.3l0.5-0.6l0.4-0.8l0.4-0.4l0.5 0.2l0.4-0.8l0.5 0.3l0.4 0.4l0.5-1l0.4 0l0.5-0.1l0.4-1.6l0.4 0.4l0.5 0.5l0.4-0.3l0.5 0.9l0.4-0.8l0.5 0.8l0.4 0.1l0.4-0.4l0.5 0.4l0.4-0.2l0.5 1l0.4 0.7l0.5 0.9l0.4 0.8l0.5-0.3l0.4 0.6l0.4 0l0.5-0.9l0.4 1.1l0.5 0.7l0.4 0.1l0.5 0.7l0.4-0.2l0.4-0.8l0.5 0.1l0.4 0.2l0.5 0.4l0.4 0l0.4-0.7l0.4 0l0.5 0.6l0.4 0.8l0.4-0.2l0.5-0.3l0.4 0.2l0.4 0.7l0.5 0.7l0.4-0.5l0.4 0.5l0.4 0.6l0.5 0.2l0.4-0.6l0.4 0.5l0.5-0.1l0.4 0l0.4 1.1l0.5-0.2l0.4 0.1l0.4 0.4l0.5 0.4l0.4-0.3l0.4-0.6l0.4 0l0.5-0.3l0.4 0.1l0.4 0.1l0.5-0.5l0.4 0l0.4-0.2l0.5 0.5l0.4 0.6l0.4 0.3l0.4 0l0.5-0.5l0.4 0.2l0.4-0.5l0.5 0.6l0.4-0.5l0.4 0.1l0.5 1l0.4 0.1l0.4-0.5l0.5 0.1l0.4-0.3l0.4 0l0.4 0.1l0.5 0l0.4 0.4l0.4 0.7l0.5-0.5l0.4-0.4l0.4-0.2l0.5-0.1l0.4 0.2l0.4-0.2l0.4-0.3l0.5-0.1l0.4 0.5l0.4 0.3l0.5 0.1l0.4-0.3l0.4-0.4l0.5 0.9l0.4 0.8l0.4-0.5l0.5-0.2l0.4 0.7l0.4 0.3l0.4 0.1l0.5 0.9l0.4-0.4l0.4-0.3l0.5 0.3l0.4 0.6l0.5 0.5l0.4 0.9l0.5 0.6l0.4-0.2l0.4 0.7l0.5 0.3l0.5 1l0.4 0.7l0.5-0.2l0.5 0.6l0.5-0.2" fill="none" stroke="#99ccff" stroke-width="2.7" stroke-linejoin="miter" stroke-linecap="butt" stroke-dasharray="8 2.2"/>
<path d="M104.4 285.2l0.4-1.4l0.4 0l0.4-2.4l0.4-2.6l0.4 1.2l0.4 1.1l0.4 0.6l0.4 0.6l0.3 0l0.4-0.1l0.4-0.1l0.4 0.6l0.3-0.9l0.4 0.1l0.4-0.6l0.4-2.1l0.4-0.1l0.3-1l0.4-0.1l0.4-0.1l0.4 0.7l0.3-0.9l0.4 1.7l0.4-0.2l0.4 2.7l0.4 0.2l0.3 1l0.4 2.5l0.4-1.8l0.4 0.5l0.3-0.6l0.4 0.2l0.4-0.1l0.4 1.2l0.4-0.1l0.3 0.6l0.4-0.6l0.4-2.6l0.4 0.5l0.4-1.4l0.5-2.3l0.3 0.4l0.4 1.6l0.4 1.1l0.4-0.5l0.3 0.5l0.4 0.6l0.4 1.1l0.4-0.2l0.4 1.4l0.3-0.4l0.4 0.3l0.4 1.5l0.4 1.3l0.3 0.4l0.4 1.1l0.4 0.6l0.4 0.8l0.4 0.9l0.4 0.1l0.4 0.6l0.4-0.5l0.4-2l0.4-3.1l0.3-0.2l0.4-1l0.4-0.8l0.4-2.9l0.4-1.2l0.3-1.3l0.4 2.1l0.3 4.6l0.3 4.1l0.4-0.3l0.4 1.6l0.4 2.3l0.4-0.5l0.3 1.9l0.4 1.9l0.4 1.3l0.4-0.9l0.4-0.2l0.4 1.2l0.4 1.6l0.4-0.7l0.4 0.3l0.4 0.1l0.4 2.1l0.4 0.1l0.4 1.2l0.4 1l0.4-0.8l0.4-1.6l0.3-1.5l0.4-0.9l0.4-1.6l0.4-2.9l0.3-1.6l0.4-0.4l0.4 0.9l0.4 0.6l0.4 1.3l0.4 2.7l0.4 0.1l0.4-0.3l0.4-0.3l0.4-0.8l0.3 0.5l0.4-0.1l0.4-0.5l0.4-1.7l0.4 0.9l0.4-2.7l0.4-3.5l0.4-5.3l0.4-2.3l0.4-3.5l0.4 2.3l0.4 1.9l0.4 1.6l0.4 3.1l0.4 1.9l0.4 0l0.4-2l0.4-0.9l0.4 0.4l0.4-1l0.4-2.3l0.4-2l0.3-1.5l0.4-1l0.4-0.6l0.4-1.4l0.3-0.9l0.4-1.1l0.4 3.3l0.3 4.4l0.3 3.7l0.4-0.4l0.4 0l0.4 0.3l0.3-0.3l0.4-0.4l0.4 1l0.4 0.3l0.4 1.2l0.3-1.1l0.4-0.4l0.4-0.4l0.4-1l0.3-0.3l0.4-1.2l0.4-0.7l0.4 0.3l0.4-3l0.4-3.5l0.4-3.9l0.4-2.5l0.4-1.8l0.4-4l0.4-0.5l0.4-1.6l0.4-1l0.4-1.2l0.4-1.8l0.4 0.9l0.4-1.5l0.4-0.7l0.4 0.1l0.4 0.1l0.4 0.6l0.4-0.2l0.4-0.3l0.4 0.9l0.4-1.9l0.4 0.3l0.4-1.3l0.3-0.4l0.4-2.8l0.4-2.7l0.4-1.8l0.4-0.6l0.4-2.3l0.4-0.9l0.4-2.8l0.4-2.4l0.4-0.9l0.3-6l0.3-5.2l0.4-5.5l0.4-2.8l0.4-4.1l0.4-3.2l0.4-0.6l0.4-3.6l0.3-3.3l0.4-3.5l0.3-3.5l0.3-16l0.4-16.2l0.3-16l0.3 14.3l0.3 17.8l0.4 9.9l0.3 7l0.3 8.9l0.3-8.5l0.3-10.4l0.3 11.1l0.3 12.7l0.4-26.1l0.3 15.1l0.3 15.5l0.3-8.7l0.3-8.5l0.3 15.3l0.3 13.4l0.4-9.4l0.3-8.7l0.4 7.8l0.3 3.9l0.3 6.9l0.3-7.6l0.3-5.9l0.4 7.7l0.4 6.7l0.3-4.8l0.3-6.7l0.4-5l0.4-3.9l0.3-4.5l0.3-1.9l0.3 5.7l0.3 6.3l0.3-5.4l0.3-4l0.4 3.3l0.4 3.7l0.3-4.1l0.3-5.7l0.3 3.6l0.3 3.9l0.4-5.4l0.4-4.9l0.4-0.1l0.3-1.8l0.3-2.3l0.4 6.6l0.3 6.8l0.3 7.4l0.4-0.2l0.4 0.2l0.4 1.2l0.4 0.8l0.4 1.2l0.5 1.6l0.4 2.3l0.4 1.6l0.4 3l0.4 2l0.4 3l0.4 2.2l0.4 1.7l0.4 3.3l0.4 3.1l0.4 2.2l0.4 1.6l0.4 0.7l0.4 0.9l0.4 0.4l0.4 1.8l0.4 1.9l0.4 1.4l0.4 0.9l0.4 3l0.4-2.5l0.4-0.1l0.4-1.2l0.4-1.1l0.4-3.1l0.4 0.7l0.4-1l0.4 0.4l0.4-0.5l0.4 0.6l0.4 2.6l0.4 3.7l0.4 3.2l0.5 1.7l0.4 2.2l0.3-1.5l0.4-1.3l0.4-1.5l0.4 0l0.3 0.3l0.4-1.2l0.4-0.2l0.4-1.5l0.4 0.1l0.3 0.7l0.4 1.7l0.4 0.1l0.4 1.2l0.3 0.1l0.4-0.3l0.4-0.7l0.4 0.2l0.4-0.5l0.4 1l0.4 0l0.4-1.8l0.4 2.8l0.4 2l0.4-0.8l0.4 1.7l0.4 2.6l0.4 0.1l0.4 1.1l0.4 1.9l0.3 1.3l0.4 1.2l0.4 1.2l0.4-0.1l0.4 2.9l0.3-0.3l0.4 0.8l0.4-0.9l0.4 0.1l0.3 0l0.4-0.3l0.4 0.2l0.4 0.1l0.4 0.6l0.3 0l0.4-0.2l0.4 0.3l0.4 1l0.3-0.5l0.4 0.2l0.4-0.2l0.4-2.9l0.4-1.3l0.3-1.2l0.4-1.5l0.4-0.8l0.4-1.8l0.3 0l0.4-1.1l0.4 2.1l0.4 0.9l0.4-0.5l0.3 0.9l0.4 1.1l0.4 0.3l0.4 0.8l0.3 0.2l0.4 0.4l0.4 1.2l0.5 0.3l0.4 1.5l0.4-1.4l0.4 0.3l0.4 0.7l0.4 2l0.4 1l0.4 0.4l0.4-1l0.4-0.6l0.4-1.6l0.4-2.1l0.4-1.4l0.4-2.3l0.3-1.6l0.4-1.1l0.4-1.9l0.4-1.3l0.4-1.8l0.3-2.3l0.4-2.1l0.4 1.7l0.4 0.7l0.4 1.1l0.4 0.1l0.4 0.3l0.4-0.6l0.4-1.1l0.4 0.3l0.3-0.5l0.4-1l0.4-2l0.4-1l0.3-0.4l0.4 1.4l0.4 0.1l0.4 0.3l0.4 0.8l0.3 0.4l0.4 0.2l0.4-0.4l0.4 1.8l0.3-0.4l0.4-0.6l0.4-0.1l0.4-1l0.4-0.9l0.3-0.4l0.4 1.2l0.4-0.8l0.4 1.4l0.4 0l0.4-0.1l0.4 1l0.4 0.8l0.4 0.6l0.4 2.4l0.3 0.4l0.4-0.1l0.4 1.2l0.4 0l0.4 1.4l0.3-1.1l0.4 1.6l0.4-0.5l0.4 0.2l0.3 1l0.4-0.1l0.4-0.3l0.4 1l0.4 0.8l0.3-1.4l0.4 0.9l0.4-1.2l0.4-0.7l0.3-0.4l0.4-0.3l0.4 0.3l0.4-2.6l0.4 0.5l0.3 0.9l0.4-0.1l0.4-0.4l0.4-1l0.3 0.5l0.4-0.4l0.4 0.2l0.4-0.4l0.4 0.5l0.3 0.6l0.4-0.5l0.4 1.8l0.4 0.3l0.3-0.6l0.4 0.7l0.4-0.2l0.4-0.8l0.4-1.2l0.3-0.3l0.4-1.3l0.4-1.3l0.4 1.2l0.3 0.7l0.4 1.2l0.4 0.3l0.4 0.2l0.4-1.4l0.3-0.3l0.4 1.1l0.4-0.4l0.4 0l0.3 0.8l0.4 1.1l0.4-0.3l0.4 1.2l0.4 1.3l0.3-0.8l0.4 2.2l0.4 1.3l0.4-1.5l0.3 0.9l0.4-0.9l0.4-0.7l0.4 0.2l0.4-3.4l0.3-0.1l0.4 0.4l0.4 0l0.4-1.5l0.3-1.4l0.4-1.6l0.4-0.9l0.4-1.3l0.4-2l0.3-0.4l0.4-1.3l0.4-0.9l0.4-1l0.4-1l0.5-0.7l0.3 0l0.4-0.3l0.4-0.4l0.4 0.1l0.3-0.1l0.4 0l0.4 1.1l0.4-0.4l0.4-0.3l0.4-1.4l0.4-0.2l0.4 0l0.4 1.8l0.3-3l0.4-4.5l0.3-4.4l0.4 0l0.4-0.2l0.3-2l0.4-0.3l0.4-0.4l0.4-1.1l0.3 1.1l0.4-0.1l0.4-4l0.4-3.2l0.4-3.6l0.4-3.4l0.4-3.3l0.4-4.3l0.3-5.6l0.3-5.8l0.4 3.2l0.4 4.1l0.5 3.1l0.4 2.7l0.4 4.3l0.4 3.6l0.4 1.3l0.4 2.2l0.4 1.8l0.4 3l0.4-2l0.4-3.4l0.4-0.5l0.4-2.4l0.4-3l0.4 1.4l0.4 1.9l0.4 2.6l0.4 1.1l0.4 1l0.4 0.4l0.4 0l0.4-1.8l0.4-1l0.4-0.7l0.4 0.8l0.4 0.6l0.4 2.3l0.3 0.3l0.4 0.1l0.4 2.5l0.4 2.3l0.3 1.6l0.4-0.1l0.4 0.7l0.4 0.2l0.4 0.9l0.3-0.3l0.4 1.2l0.4 2.7l0.4 0l0.3 1.4l0.4-0.5l0.4-2l0.4 1l0.4-1l0.3 0.5l0.4-0.4l0.4-0.5l0.4-0.4l0.3-1.2l0.4-0.4l0.4-0.2l0.4 1.4l0.4-1.1l0.3-0.2l0.4-0.1l0.4 1.2l0.4-0.2l0.3 0.4l0.4-0.4l0.4 2.7l0.4-1.4l0.4 0.8l0.3 0.2l0.4-5.4l0.4-6.1l0.4-5.8l0.4-0.3l0.4-0.9l0.4-1.8l0.4-1.7l0.4-1.2l0.4-1.6l0.4-1l0.4 1l0.4 0.6l0.4-1l0.4 0.9l0.4 0l0.4 1.4l0.4-1.3l0.4-0.8l0.4-1.2l0.4-0.5l0.4-0.4l0.4-1.7l0.4-0.2l0.4 1.7l0.4 3l0.3 0.3l0.4 1.2l0.4 3.2l0.4-1l0.4-1.6l0.4-1.7l0.4-2.7l0.4 0.3l0.4-1l0.4-0.6l0.4 1.3l0.4 1.3l0.4 1.3l0.4 0.8l0.4 3.3l0.4-0.8l0.4 1.5l0.4 0.5l0.3 0l0.4 0.6l0.4 0.8l0.4-0.5l0.4 0.3l0.4 1.5l0.4 1.6l0.4 1l0.4-0.1l0.4 0.1l0.4 3l0.4 2.1l0.4 0.3l0.4 0.4l0.4-0.2l0.4 0.8l0.4 1.2l0.4 0.6l0.4-0.4l0.3 0.6l0.4 0l0.4 0.5l0.4-0.2l0.4-0.7l0.4 0.7l0.4 1.6l0.4 0.3l0.4 1.4l0.4 0.2l0.4 1l0.4-0.4l0.4 1.1l0.4-0.8l0.4-0.2l0.4 0.7l0.4 0.5l0.4-1.7l0.3 1l0.4-1.5l0.4-1.3l0.4-0.9l0.4 0.6l0.4-1.5l0.4 0.1l0.4-0.4l0.4-0.9l0.4-0.4l0.4 0.8l0.4-0.3l0.4-2.1l0.4-0.5l0.4-1l0.4-0.7l0.4-0.8l0.4 0.1l0.4-1.3l0.3-1.2l0.4 1.4l0.4 1.3l0.4 1.8l0.4 0.9l0.4-0.3l0.4 0.1l0.4 0.2l0.4-0.1l0.4 0.1l0.4 0.4l0.4-2.7l0.4-0.4l0.4-3l0.3-4.5l0.4-2.2l0.4-4.2l0.4-3.5l0.4-2.5l0.4-1.9l0.4-1.9l0.4-1.9l0.4 0l0.4 0.3l0.4 2.1l0.4 2.5l0.4 1.1l0.4 1.4l0.4 1.5l0.4 0.8l0.4-0.6l0.4 0.9l0.4 0.4l0.4 0.7l0.4 0.5l0.4 1l0.3 0.3l0.4 0.7l0.4 0.4l0.4 0.3l0.4 0.1l0.4 0.9l0.4 0.9l0.4 1.3l0.4 0.9l0.4-1.1l0.4-0.5l0.4 1.1l0.4-0.3l0.4 0.3l0.4-0.8l0.4 1.1l0.4-1.6l0.4 0.6l0.4-1.3l0.3-0.1l0.4 0.2l0.4-1.5l0.4 0.8l0.4 2.5l0.4-1l0.4 1l0.4-0.6l0.4 1.7l0.4 0.9l0.4 0.1l0.4 0.4l0.4 2.4l0.4 1.3l0.4-0.4l0.4 0.1l0.4-1.6l0.4-1.2l0.3-0.1l0.4-0.7l0.4-0.4l0.4-0.1l0.4-1.7l0.4-0.4l0.4-0.7l0.4-2.3l0.4 0.3l0.4-0.1l0.4-2.2l0.4-0.7l0.4 0.5l0.3 0l0.4-1.1l0.4-0.8l0.4-0.7l0.4 0.7l0.4 2l0.4 3.3l0.4-0.1l0.4-0.9l0.4-1.6l0.4 0.5l0.4-2.5l0.4 0.1l0.4-0.8l0.4 0.4l0.4 1.1l0.4 1.4l0.4 2.6l0.4 0.9l0.4 1.6l0.4-0.8l0.4-1.6l0.4-1.3l0.4-1.3l0.3 0.1l0.4-0.6l0.4 0.5l0.4-0.6l0.4 0.2l0.4 1.1l0.4 0.2l0.4-0.5l0.4-0.8l0.4 0.9l0.4 0.7l0.4 0.1l0.4 0.8l0.4-1.9l0.4-1.3l0.4 0.6l0.4 0.9l0.4-0.9l0.3 0.3l0.4 0.1l0.4-0.5l0.4-0.7l0.4 0l0.4 0.1l0.4 0.6l0.4-0.5l0.4 0.5l0.4 0.7l0.4 1.4l0.4 2l0.4 0.6l0.4 1.2l0.4 0.5l0.4 0l0.4 1.3l0.4-0.6l0.4-0.3l0.3 0.7l0.4-2l0.4-0.7l0.4 0.4l0.4 1.1l0.4 1.6l0.4 0.7l0.4-2.3l0.4-2.7l0.4-0.8l0.4-1.7l0.4-2.1l0.4-2.1l0.4 1.9l0.4 0.7l0.4 1.1l0.4 0.8l0.4 0.2l0.3 0.7l0.4 0.1l0.4 0.5l0.4-0.1l0.4 1l0.4-0.5l0.4 0.7l0.4 0.6l0.4 0.8l0.4-2l0.4 1.7l0.4 1l0.4 0.1l0.4 0.5l0.4 0.6l0.4-0.2l0.4 3.5l0.4-0.1l0.3 0.6l0.4-0.5l0.4 0.5l0.4-0.7l0.4 1l0.4 0l0.4 0.7l0.4 0.7l0.4 1.2l0.4-0.3l0.4-0.9l0.4-0.1l0.4 0.9l0.4 1.6l0.4-2.2l0.4-0.2l0.4 0.4l0.4 0.8l0.4 1.1l0.3 1.3l0.4 0.2l0.4 0.9l0.4-0.8l0.4-0.4l0.4-0.7l0.4 0.5l0.4 1.5l0.4 0.5l0.4 4.7l0.4 2.3l0.4 2.1l0.4 3l0.4 0.8l0.4 3.6l0.4 0.5l0.4-0.9l0.4 1l0.3 0.4l0.4 1.1l0.4-0.5l0.4-1.1l0.4-0.5l0.4-0.7l0.4-1.3l0.4 0.5l0.4 0.1l0.4-1.4l0.4-0.7l0.4-1l0.4-0.3l0.4-0.5l0.4 0.1l0.4-1.7l0.3-1.3l0.4-3.6l0.4-2.9l0.4-3l0.4-0.7l0.4-0.3l0.4-1.9l0.4-1l0.4-1.4l0.4-1.4l0.4-0.5l0.4 0.4l0.4-1l0.4-2l0.4-2.5l0.4-1.9l0.4-0.4l0.4-3.6l0.4 0.4l0.4-2l0.4-1.7l0.4-2.1l0.3-4.6l0.4 0.1l0.4-0.1l0.4-0.1l0.4 0.3l0.3-1l0.5 2.1l0.4 3.4l0.4 3l0.4 3.2l0.4-0.2l0.4 0.4l0.4-1.2l0.4 1.3l0.4 1.6l0.4 0.3l0.4-1.4l0.3-0.7l0.4-1.7l0.4-1.3l0.4 0.2l0.4-0.5l0.4 1.4l0.5 3.2l0.4 4l0.4 4.2l0.4-0.9l0.3 0.1l0.4 1.1l0.4 1.1l0.4-0.9l0.4-3.2l0.3-3.2l0.4-2l0.4-3l0.4-3.1l0.4-1.2l0.4-2.6l0.4-3l0.4-1.6l0.4 0.1l0.4-0.3l0.4-0.4l0.4-1.1l0.4-2.7l0.4-0.3l0.4 2.4l0.4 2.1l0.4 2.6l0.4 1.4l0.4 2.7l0.4 1l0.4 1.5l0.4 1.6l0.3 1.7l0.4-0.5l0.4 1.6l0.4 0.1l0.4-1.2l0.4 2.6l0.4 0.7l0.4 1.1l0.4-1l0.4 0.9l0.4-0.3l0.4 2.4l0.4 0.8l0.4-2.9l0.3-4.2l0.4-1.3l0.4-1.4l0.4-1.9l0.4 0.2l0.4-0.4l0.4 0.4l0.4 0l0.4 5.6l0.4 7.3l0.4 6.6l0.4 0l0.4-0.2l0.4-0.2l0.4 2.6l0.4 1.2l0.4 0.1l0.4-0.4l0.4 1.1l0.4-0.2l0.4 0l0.4-0.3l0.4 1.2l0.3 0.6l0.4 1.8l0.4 0.7l0.4-0.3l0.4 0.3l0.4 0.5l0.4 1.1l0.4 1.1l0.4 1.9l0.4-0.5l0.4 1.4l0.4 1.2l0.4 2.4l0.4 1.5l0.4 1l0.4 2.6l0.4 2.5l0.4 0.7l0.3 1.2l0.4 1.7l0.4-0.9l0.4 0.5l0.4-1.9l0.4 1.2l0.4-0.6l0.4 0.6l0.4-0.3l0.4 0.2l0.4 0.6l0.4 0.1l0.4 0.1l0.4-1.3l0.4-0.4l0.4-0.1l0.4-0.5l0.4-0.6l0.4 0.3l0.3 0.4l0.4-0.3l0.4-1.5l0.4 0.7l0.4-1.2l0.4 0.8l0.4-0.9l0.4-0.8l0.4 1.5l0.4 0.3l0.4-0.5l0.4 1.1l0.4-0.7l0.4 1.8l0.4 0.8l0.4 0.9l0.4 0.3l0.4 1.7l0.3-0.1l0.4-0.4l0.4 2.2l0.4-0.5l0.4 0.5l0.4-0.3l0.4-0.1l0.4 0.3l0.4 0l0.4 0.5l0.4 0.4l0.4 0l0.4-0.1l0.4 0.4l0.4-1l0.4 1.4l0.4-0.9l0.4 0.9l0.4 0.8l0.3 0.2l0.4 0.8l0.4 2l0.4 0l0.4-0.3l0.4 0.7l0.4-0.3l0.4-0.9l0.4 0.6l0.4 1.5l0.4 0.2l0.4 0.9l0.4 0.7l0.4-1.6l0.4-0.3l0.4 0.4l0.4 0l0.4 1.5l0.3-0.2l0.4-0.3l0.4 1.8l0.4-1l0.4-0.4l0.4 1.7l0.4 0.1l0.4 0l0.4 0.5l0.4-0.5l0.4 0.2l0.4 0.1l0.4 1.4l0.4-0.1l0.4-0.9l0.4-0.3l0.4 1.3l0.4-0.6l0.3-0.3l0.4 0.6l0.4-0.2l0.4 1.2l0.4 2.2l0.4 1.2l0.4-0.6l0.4 0.8l0.4-0.5l0.4-0.3l0.4-0.9l0.4-1.5l0.4-1.8l0.4-1.2l0.4-1.4l0.4-0.8l0.4 0.9l0.4-1.1l0.4 0l0.3-0.4l0.4 2l0.4 0.5l0.4-0.1l0.4-0.8l0.4 1.1l0.4-0.8l0.4-0.7l0.4 0.3l0.4 1.9l0.4 0.1l0.4-0.1l0.4-0.1l0.4 1.3l0.4-0.6" fill="none" stroke="#c0873f" stroke-width="1.9" stroke-linejoin="miter" stroke-linecap="butt" stroke-dasharray="4.5 1.6"/>
<path d="M380.9 165.2l0.4 3.5l0.4 3.3l0.4 2.4l0.5 2.6l0.4-1.2l0.5-1l0.5-1.6l0.4-1.9l0.5-0.2l0.5 0.3l0.5-0.8l0.4 0.2l0.4-5.4l0.4-5.5l0.4-5.4l0.4 1.6l0.4 1.9l0.4 2.6l0.4-2.8l0.4-2.6l0.5-2.8l0.4-2.3l0.4 3.4l0.4 3.3l0.4 3l0.4 3l0.5-1.2l0.5-1.3l0.4-1l0.5-4.1l0.4-3.6l0.4-4.1l0.4-4.5l0.4 2.1l0.4 2.6l0.4 2.4l0.5 2.1l0.4-2.3l0.5-2l0.5-2.2l0.5-2l0.3-4.4l0.4-3.7l0.4-3.7l0.4-15.4l0.3-15l0.5-16.6l0.4 0.2l0.4 0.2l0.4 0l0.4 3.6l0.4 3.6l0.4 3.6l0.5 3.3l0.4-0.6l0.5-0.5l0.5 12.5l0.5-4.4l0.4-4.9l0.5 4l0.5 3.6l0.4 4.1l0.5 3.9l0.5 3.3l0.5 3.1l0.4 3.4l0.5 3.9l0.4 1.3l0.4 2.4l0.5 2.1l0.4 2l0.4 1.4l0.4 2.5l0.4 1.7l0.4 2l0.5 1.5l0.5 1.4l0.5 2.2l0.4 1.9l0.5 1.8l0.5 2l0.4 2.3l0.5 1.7l0.4 1l0.4 1.3l0.5 1.6l0.4 1.4l0.4-0.9l0.4-0.5l0.4-1.1l0.4 3.3l0.3 4.3l0.4 3l0.4 3.3l0.4 3.1l0.4 3.1l0.5 0.2l0.5 0.4l0.4 0.2l0.5-0.1l0.5 0.2l0.4 0.7l0.5 0.2l0.4-0.1l0.5 0.1l0.4-0.1l0.5-0.1l0.4 0.3l0.4 0.9l0.5-0.3l0.4-0.7l0.5 0.2l0.4-0.1l0.5 0.4l0.4 0.3l0.5-0.3l0.4-0.1l0.5-0.6l0.4 0.3l0.5-0.6l0.5-0.2l0.5 0.6l0.4 0.2l0.5 0.9l0.5 0.8l0.5 1.1l0.4-1.2l0.4-0.8l0.4-1.3l0.4-1.2l0.4 0.9l0.4 1.7l0.5 1l0.4 2l0.4 0.3l0.5 0.7l0.5 0.1l0.5-9.4l0.4-9.5l0.5-6.4l0.5-6.6l0.5 2.7l0.4 2.9l0.4 2.3l0.4 2.2l0.4 2.2l0.4 1.3l0.4 2.4l0.5 1.2l0.4 1.2l0.4-0.7l0.5-1.1l0.5-1.3l0.5-0.8l0.4 0.7l0.5-0.3l0.5 0.6l0.5 0.3l0.4-0.8l0.4-1.3l0.4-0.4l0.4-0.8l0.5-0.7l0.5 1l0.4 0.9l0.5-0.2l0.5 0.6l0.5 0.4l0.4 0.6l0.5 0.2l0.5 0.8l0.5 0.6l0.4 1.5l0.5 1.6l0.5 1.1l0.4 2.1l0.5 1.3l0.5 1.6l0.5 1.3l0.4 2.4l0.5 1.2l0.5 1.7l0.4 2.7l0.4 2.8l0.4 3.1l0.4 2.8l0.5 3.8l0.5 2.7l0.5 3.5l0.4 0.3l0.5 0.6l0.5 1.4l0.5 0.5l0.4 1.8l0.5 1l0.5 0.5l0.5 1.2l0.4 0.2l0.5 0.4l0.5-0.1l0.4 0.5l0.5 0.8l0.5 0.1l0.5 1.2l0.4 0.9l0.5 0.9l0.4 0.3l0.5 0.8l0.4 0.6l0.5 1.5l0.4 1.3l0.4 0.7l0.5 0.8l0.4 0.7l0.5 0.8l0.4 0.1l0.5 0.4l0.4 1l0.5 0.7l0.4 0.7l0.4 0.5l0.5 0.8l0.4 0.6l0.5 0.2l0.4 1.1l0.5 0.7l0.4 0.3l0.5 0.4l0.4 0.3l0.4-0.1l0.5 0.2l0.4 0.1l0.5 0.5l0.4 0.7l0.5 0.4l0.4-0.1l0.4 0.5l0.5 0.2l0.4 0.1l0.5 1l0.4-0.1l0.5 0.7l0.4-0.3l0.5 0.6l0.4 0.2l0.4 0.9l0.5 0.5l0.4 0.1l0.5 0.7l0.4 0.8l0.5 0.7l0.4 0.6l0.4-0.1l0.5 1l0.4-0.2l0.5 0.3l0.4-0.1l0.5 0.6l0.4 0.1l0.5 0.7l0.4 0l0.4 1.1l0.5 0.2l0.4 0.4l0.5 0.1l0.4-0.2l0.5 0l0.4-0.1l0.5-0.7l0.4-0.3l0.4 0.1l0.5 0.4l0.4-0.6l0.5 0.1l0.4-0.2l0.5 0.2l0.4 0.1l0.4-0.2l0.5 0l0.4 1l0.5 0.6l0.4 0.1l0.5 0.4l0.4 0.1l0.5 0.4l0.4-0.1l0.4 0.4l0.5 0.7l0.4 0.4l0.5 0.2l0.4-0.1l0.5 0.3l0.4-0.3l0.4 0.2l0.5 0.3l0.4-0.1l0.5 0.5l0.4-0.2l0.5 1.1l0.4 0.5l0.5 0.2l0.4-0.5l0.4-0.3l0.5-0.2l0.4-0.6l0.5 0.1l0.4-0.3l0.5 0.4l0.4 0.4l0.4-0.2l0.5-1.2l0.4-0.9l0.5 0.3l0.4-0.3l0.5-0.3l0.4-0.4l0.5-0.6l0.4-0.4l0.5-1l0.5-1l0.5-1.5l0.4-1.8l0.4-1.3l0.4-1.8l0.4-1.7l0.4-4.3l0.4-3.8l0.4-4.3l0.4-3.2l0.4-2.8l0.4-2.7l0.4-2.8l0.4-2.6l0.4-2.5l0.4-2.4l0.5-1.6l0.5-1.2l0.5-1.6l0.4-0.4l0.5-0.3l0.5-1l0.4-0.1l0.5 0.4l0.5-0.8l0.5-0.8l0.4-0.3l0.5-0.3l0.5-0.8l0.5-0.9l0.4-1.3l0.5-2.8l0.5-1.9l0.5-1.9l0.4-2.2l0.5 0.8l0.5 0.5l0.4-0.8l0.5-0.2l0.5-0.1l0.5-0.3l0.4-0.7l0.5-0.4l0.5-0.6l0.5-0.7l0.4-0.5l0.5 0l0.4-0.6l0.4-0.4l0.5-0.6l0.4-0.3l0.5-0.1l0.4-0.8l0.5-0.4l0.5-0.4l0.4 0.4l0.5-0.5l0.5 0.1l0.5 1.6l0.4 0.5l0.5 1.2l0.5 0.4l0.4 0.5l0.5 0.6l0.5 0l0.5-0.3l0.4 0.9l0.5 0.4l0.4 2.7l0.3 3.1l0.5-3.6l0.5-4.3l0.4 0.8l0.5-0.2l0.5 0.2l0.5 1.6l0.4 0l0.5 0.2l0.5 1.1l0.5 0.9l0.4 1.1l0.5 0l0.5 0.1l0.5 0.4l0.4 0l0.5-0.2" fill="none" stroke="#640909" stroke-width="1.5" stroke-linejoin="miter" stroke-linecap="round"/>
<line x1="161.5" y1="60.2" x2="178.5" y2="60.2" stroke="#640909" stroke-width="1.8"/>
<text x="181.2" y="63.8" fill="#000" text-anchor="start" textLength="142.7" lengthAdjust="spacing" xml:space="preserve" style="white-space:pre"><tspan font-family='"Liberation Sans", "Noto Serif CJK SC", serif' font-size="11.3">余额宝</tspan><tspan font-family='"Liberation Sans", sans-serif' font-size="10.3">7</tspan><tspan font-family='"Liberation Sans", "Noto Serif CJK SC", serif' font-size="11.3">日年化收益率  </tspan><tspan font-family='"Liberation Sans", sans-serif' font-size="10.3">3.98</tspan></text>
<line x1="344.2" y1="60.2" x2="362.8" y2="60.2" stroke="#bfbfbf" stroke-width="2.2"/>
<text x="364.5" y="63.8" fill="#000" text-anchor="start" textLength="148.5" lengthAdjust="spacing" xml:space="preserve" style="white-space:pre"><tspan font-family='"Liberation Sans", sans-serif' font-size="10.3">10</tspan><tspan font-family='"Liberation Sans", "Noto Serif CJK SC", serif' font-size="11.3">年期国债到期收益率  </tspan><tspan font-family='"Liberation Sans", sans-serif' font-size="10.3">3.89</tspan></text>
<line x1="161.5" y1="80.2" x2="178.5" y2="80.2" stroke="#99ccff" stroke-width="2.6"/>
<text x="181.2" y="83.9" fill="#000" text-anchor="start" textLength="130.4" lengthAdjust="spacing" xml:space="preserve" style="white-space:pre"><tspan font-family='"Liberation Sans", "Noto Serif CJK SC", serif' font-size="11.3">沪深</tspan><tspan font-family='"Liberation Sans", sans-serif' font-size="10.3">300</tspan><tspan font-family='"Liberation Sans", "Noto Serif CJK SC", serif' font-size="11.3">股息收益率  </tspan><tspan font-family='"Liberation Sans", sans-serif' font-size="10.3">1.82</tspan></text>
<line x1="344.2" y1="80.2" x2="362.8" y2="80.2" stroke="#c0873f" stroke-width="1.9" stroke-dasharray="4 2.6"/>
<text x="364.5" y="83.9" fill="#000" text-anchor="start" textLength="143.9" lengthAdjust="spacing" xml:space="preserve" style="white-space:pre"><tspan font-family='"Liberation Sans", sans-serif' font-size="10.3">MSCI China</tspan><tspan font-family='"Liberation Sans", "Noto Serif CJK SC", serif' font-size="11.3">股息收益率  </tspan><tspan font-family='"Liberation Sans", sans-serif' font-size="10.3">1.93</tspan></text>
<line x1="634.5" y1="64.0" x2="634.5" y2="350.5" stroke="#adadad" stroke-width="1"/>
<line x1="630.8" y1="350.5" x2="1074.0" y2="350.5" stroke="#adadad" stroke-width="1"/>
<line x1="630.8" y1="350.5" x2="634.5" y2="350.5" stroke="#adadad" stroke-width="1"/>
<line x1="630.8" y1="293.5" x2="634.5" y2="293.5" stroke="#adadad" stroke-width="1"/>
<line x1="630.8" y1="235.5" x2="634.5" y2="235.5" stroke="#adadad" stroke-width="1"/>
<line x1="630.8" y1="178.5" x2="634.5" y2="178.5" stroke="#adadad" stroke-width="1"/>
<line x1="630.8" y1="121.5" x2="634.5" y2="121.5" stroke="#adadad" stroke-width="1"/>
<line x1="630.8" y1="64.5" x2="634.5" y2="64.5" stroke="#adadad" stroke-width="1"/>
<line x1="634.5" y1="350.5" x2="634.5" y2="354.2" stroke="#adadad" stroke-width="1"/>
<line x1="685.5" y1="350.5" x2="685.5" y2="354.2" stroke="#adadad" stroke-width="1"/>
<line x1="736.5" y1="350.5" x2="736.5" y2="354.2" stroke="#adadad" stroke-width="1"/>
<line x1="787.5" y1="350.5" x2="787.5" y2="354.2" stroke="#adadad" stroke-width="1"/>
<line x1="838.5" y1="350.5" x2="838.5" y2="354.2" stroke="#adadad" stroke-width="1"/>
<line x1="890.5" y1="350.5" x2="890.5" y2="354.2" stroke="#adadad" stroke-width="1"/>
<line x1="941.5" y1="350.5" x2="941.5" y2="354.2" stroke="#adadad" stroke-width="1"/>
<line x1="992.5" y1="350.5" x2="992.5" y2="354.2" stroke="#adadad" stroke-width="1"/>
<line x1="1043.5" y1="350.5" x2="1043.5" y2="354.2" stroke="#adadad" stroke-width="1"/>
<text x="620.0" y="354.2" font-size="10.5" font-family='"Liberation Sans", "Noto Sans CJK SC", sans-serif' fill="#000" text-anchor="end" xml:space="preserve" style="white-space:pre">800</text>
<text x="620.0" y="296.9" font-size="10.5" font-family='"Liberation Sans", "Noto Sans CJK SC", sans-serif' fill="#000" text-anchor="end" xml:space="preserve" style="white-space:pre">1,300</text>
<text x="620.0" y="239.7" font-size="10.5" font-family='"Liberation Sans", "Noto Sans CJK SC", sans-serif' fill="#000" text-anchor="end" xml:space="preserve" style="white-space:pre">1,800</text>
<text x="620.0" y="182.4" font-size="10.5" font-family='"Liberation Sans", "Noto Sans CJK SC", sans-serif' fill="#000" text-anchor="end" xml:space="preserve" style="white-space:pre">2,300</text>
<text x="620.0" y="125.1" font-size="10.5" font-family='"Liberation Sans", "Noto Sans CJK SC", sans-serif' fill="#000" text-anchor="end" xml:space="preserve" style="white-space:pre">2,800</text>
<text x="620.0" y="67.8" font-size="10.5" font-family='"Liberation Sans", "Noto Sans CJK SC", sans-serif' fill="#000" text-anchor="end" xml:space="preserve" style="white-space:pre">3,300</text>
<text x="634.5" y="368.4" font-size="10.5" font-family='"Liberation Sans", "Noto Sans CJK SC", sans-serif' fill="#000" text-anchor="middle" xml:space="preserve" style="white-space:pre">2009</text>
<text x="685.6" y="368.4" font-size="10.5" font-family='"Liberation Sans", "Noto Sans CJK SC", sans-serif' fill="#000" text-anchor="middle" xml:space="preserve" style="white-space:pre">2010</text>
<text x="736.7" y="368.4" font-size="10.5" font-family='"Liberation Sans", "Noto Sans CJK SC", sans-serif' fill="#000" text-anchor="middle" xml:space="preserve" style="white-space:pre">2011</text>
<text x="787.8" y="368.4" font-size="10.5" font-family='"Liberation Sans", "Noto Sans CJK SC", sans-serif' fill="#000" text-anchor="middle" xml:space="preserve" style="white-space:pre">2012</text>
<text x="838.9" y="368.4" font-size="10.5" font-family='"Liberation Sans", "Noto Sans CJK SC", sans-serif' fill="#000" text-anchor="middle" xml:space="preserve" style="white-space:pre">2013</text>
<text x="890.0" y="368.4" font-size="10.5" font-family='"Liberation Sans", "Noto Sans CJK SC", sans-serif' fill="#000" text-anchor="middle" xml:space="preserve" style="white-space:pre">2014</text>
<text x="941.1" y="368.4" font-size="10.5" font-family='"Liberation Sans", "Noto Sans CJK SC", sans-serif' fill="#000" text-anchor="middle" xml:space="preserve" style="white-space:pre">2015</text>
<text x="992.2" y="368.4" font-size="10.5" font-family='"Liberation Sans", "Noto Sans CJK SC", sans-serif' fill="#000" text-anchor="middle" xml:space="preserve" style="white-space:pre">2016</text>
<text x="1043.3" y="368.4" font-size="10.5" font-family='"Liberation Sans", "Noto Sans CJK SC", sans-serif' fill="#000" text-anchor="middle" xml:space="preserve" style="white-space:pre">2017</text>
<text x="653.3" y="66.3" font-size="10.6" font-family='"Liberation Sans", "Noto Sans CJK SC", sans-serif' fill="#000" text-anchor="start" xml:space="preserve" style="white-space:pre">(Rmb bn)</text>
<text x="798.0" y="66.5" fill="#000" text-anchor="start" font-weight="bold" textLength="128.3" lengthAdjust="spacing" xml:space="preserve" style="white-space:pre"><tspan font-family='"Liberation Sans", "Noto Serif CJK SC", serif' font-size="9.6">沪深</tspan><tspan font-family='"Liberation Sans", sans-serif' font-size="10.8">300</tspan><tspan font-family='"Liberation Sans", "Noto Serif CJK SC", serif' font-size="9.6">指数盈利预期变化</tspan></text>
<path d="M634.4 317.6l0.6 1.1l0.5 1.1l0.5 0.9l0.5 0.1l0.5-0.4l0.5 0.2l0.5 0l0.5 0.3l0.5-0.1l0.5 0.1l0.5-0.1l0.5 0.1l0.5-1.2l0.5-0.9l0.5-1.1l0.5-1.1l0.5 0l0.5-0.3l0.5 0.1l0.5-0.1l0.6-0.2l0.5 0l0.5-0.2l0.5-0.3l0.5-0.1l0.5-0.1l0.5-0.1l0.5-0.6l0.5 0l0.6-1.7l0.5-1.4l0.6-1.9l0.5 0l0.4 0l0.5-0.1l0.5-0.1l0.5 0l0.5-0.2l0.5-0.3l0.5 0.1l0.5-0.1l0.5-0.1l0.5 0l0.5-0.1l0.5 0.2l0.5-0.9l0.5-1.2l0.5-0.9l0.5-1l0.5-0.3l0.5-0.5l0.5 0.1l0.5-0.3l0.5 0.2l0.5-0.2l0.5-0.2l0.5-0.3l0.6-0.2l0.5 0.1l0.5-0.3l0.5-0.2l0.5 0l0.5-0.2l0.5-0.3l0.5 0l0.5-0.7l0.5-0.7l0.5-0.7l0.5-0.9l0.5 0.2l0.5 0l0.5-0.1l0.5-0.1l0.5 0.1l0.5-0.1l0.5 0l0.5 0l0.5-0.3l0.5 0l0.5-0.1l0.5-0.2l0.5 0.2l0.5-0.1l0.6-0.3l0.5-0.1l0.5-0.2l0.5 0l0.5-0.3l0.5-0.1l0.5-0.3l0.5 0.1l0.5-0.2l0.5 0l0.5-0.1l0.5-0.2l0.5-0.1l0.5 0.1l0.5-0.1l0.5-0.2l0.5 0.1l0.5-0.2l0.5 0l0.5 0.1l0.5 0l0.5 0l0.5 0.1l0.5-0.1l0.5-0.2l0.5 0.2l0.5 0l0.5 0l0.5 0l0.5-0.1l0.5 0.1l0.5 0l0.5-0.2l0.6-1l0.6-0.8l0.5 0l0.4 0l0.5 0.1l0.5-0.2l0.5-0.1l0.6-8.7l0.5 0l0.5-0.1l0.5-0.2l0.5 0.1l0.5-0.2l0.5 0l0.5 0l0.5 0l0.5-0.3l0.4 0l0.5-0.2l0.5 0l0.6 0.1l0.5 0l0.5-0.1l0.5 0.1l0.5-0.1l0.5-0.1l0.5 0l0.5-0.3l0.5-0.1l0.5 0.2l0.5-0.1l0.5 0l0.5-0.3l0.5-0.8l0.4-0.5l0.5-0.7l0.5-0.1l0.5-0.1l0.5-0.1l0.5-0.1l0.6 0l0.5-0.1l0.5-0.2l0.5 0l0.5 0.1l0.5 0l0.5 0l0.5 0l0.5-0.2l0.6-0.1l0.5 0.3l0.5-0.4l0.5-0.8l0.6-0.6l0.5 0.2l0.5-0.1l0.5 0l0.5 0.1l0.5-0.1l0.5-0.1l0.4 0l0.5 0.1l0.5 0.1l0.5-0.5l0.5 0.2l0.5-0.2l0.5 0.2l0.5-0.3l0.5 0.2l0.5 0l0.5-0.2l0.5-0.2l0.5 0l0.6 0l0.5 0.2l0.5-0.2l0.5-0.1l0.5-0.1l0.5 0l0.5 0l0.5-0.1l0.5 0.1l0.5-0.1l0.5 0l0.5-0.2" fill="none" stroke="#3a2a55" stroke-width="1.4" stroke-linejoin="miter" stroke-linecap="round"/>
<path d="M685.4 269.2l0.5-0.3l0.5 0l0.5 0.1l0.5 0.1l0.5-0.1l0.5-0.1l0.5-0.1l0.5 0l0.5 0l0.5 0l0.5-0.1l0.5-0.1l0.5-0.2l0.5 0.3l0.5 0l0.6-1.2l0.6-1l0.5 0l0.4-0.3l0.5-0.2l0.5 0.2l0.4 0.1l0.5-0.1l0.6-11.9l0.5 0l0.5 0.2l0.5 0l0.5-0.2l0.5 0l0.5-0.3l0.5 0l0.5 0.1l0.5 0.1l0.5 0l0.5 0l0.6 0l0.5-0.3l0.5-0.2l0.5 0l0.5-0.1l0.5-0.1l0.5 0.1l0.5 0.1l0.5-0.1l0.5-0.1l0.5-0.2l0.5-0.2l0.5-0.2l0.5-0.8l0.5-0.6l0.5-0.9l0.5-0.3l0.5-0.1l0.5 0.2l0.5-0.3l0.5-0.1l0.5 0l0.5-0.1l0.5-0.1l0.5-0.2l0.5-0.2l0.5-0.1l0.6-0.2l0.5-0.1l0.5 0.1l0.5-0.2l0.5-0.9l0.5-0.6l0.6-0.6l0.5-0.1l0.5-0.4l0.5 0.2l0.5-0.4l0.5-0.2l0.5 0l0.4-0.3l0.5 0l0.5-0.3l0.5 0l0.5-0.1l0.5-0.1l0.5-0.3l0.5-0.4l0.5-0.4l0.5-0.4l0.5-0.4l0.5-0.3l0.5-0.4l0.6-0.7l0.5-0.2l0.5-0.4l0.5-0.4l0.5-0.6l0.5-0.7l0.5 0l0.5-0.1l0.5-0.2l0.5 0.1l0.5-0.3l0.5 0l0.5 0l0.5 0.1l0.5-0.2l0.5 0l0.5-0.3l0.5-0.2l0.5 0.2l0.5-0.2l0.5-0.2l0.5 0.2l0.5-0.3l0.5 0.1l0.5-0.3l0.5-0.1l0.6 0l0.5-0.1l0.5 0l0.5 0l0.5 0.1l0.5-0.3l0.5 0l0.5-0.1l0.5 0.2l0.5-0.1l0.5 0l0.5 0l0.5 0.1l0.5 0.2l0.5-0.1l0.5 0l0.5 0.4l0.5 0.3l0.5 0l0.5 0.4l0.5 0.1l0.5 0.2l0.5 0.1l0.5 0.3l0.5 0.4l0.5-0.2l0.5 0.5l0.6 0.2l0.5 0.1l0.5 0.3l0.5 0.3l0.5 0.1l0.5 0.3l0.5 0.4l0.5 0.4l0.5 0.8l0.5 0.7l0.5 0.5l0.5 0l0.5 0.3l0.5-0.2l0.5 0.1l0.5 0l0.5 0.1l0.5 0.3l0.5-0.2l0.5 0l0.5 0.3l0.5 0l0.5 0.2l0.5-0.3l0.5-0.1l0.5-0.2l0.6 0l0.5 0.2l0.5-0.1l0.5 0.1l0.5 0.1l0.5-0.1l0.5 0.3l0.5 0.1l0.5 0.1l0.5 0.1l0.5 0l0.5 0.2l0.5 0l0.5 0.3l0.5 0.4l0.5 0.3l0.5 0.4l0.5 0.4l0.5 0.6l0.5 0l0.5 0.2l0.5 0.1l0.5 0l0.5 0l0.5 0l0.5-0.1l0.5 0.2l0.6 0.3l0.5-0.1l0.5 0l0.5 0.1l0.5 1l0.5 0.6l0.6 0.5" fill="none" stroke="#b9b9b9" stroke-width="1.4" stroke-linejoin="miter" stroke-linecap="round"/>
<path d="M736.4 199.5l0.5 0.1l0.5 0l0.5 0l0.5-0.1l0.4 0.1l0.5-0.2l0.5 0.1l0.5-0.2l0.5 0.1l0.5-0.2l0.5-0.2l0.5-0.5l0.5-0.2l0.6-0.1l0.5-0.4l0.5-0.3l0.5-0.2l0.5 0l0.5-0.1l0.5 0.1l0.5-0.2l0.5-0.1l0.5 0l0.5-0.1l0.5 0.1l0.5 0l0.5-0.1l0.5 0.1l0.5-0.2l0.5 0.2l0.5 0.3l0.5 0l0.5 0.1l0.5 0.1l0.5 0.1l0.5 0.2l0.5 0.1l0.5 0.2l0.5 0.1l0.5 0.2l0.6 0.5l0.5 0.1l0.5 0.2l0.5 0.5l0.5 0.5l0.5 0.2l0.5 0.3l0.5 0.2l0.5 0.4l0.5 0.5l0.5 0.4l0.5 0.4l0.5 0.3l0.5 0l0.5 0l0.5 0.1l0.5 0.2l0.5 0.1l0.5-0.1l0.5 0.2l0.5 0l0.5 0.2l0.5 0.3l0.5 0.1l0.5 0.1l0.5-0.2l0.6 0.2l0.5 0.1l0.5-0.1l0.5-0.1l0.5 0.1l0.5-0.1l0.5 0.1l0.5 0.2l0.5 0l0.5 0.2l0.5-0.3l0.5 0.3l0.5 0.5l0.5 0.4l0.5 0.6l0.5 0.2l0.5 0.4l0.5 0.3l0.5 0.3l0.5 1l0.5 1l0.5 0.6l0.5 0.8l0.4 0.7l0.6 1.1l0.5 0.9l0.5 0.9l0.5 1.2l0.6 1.1l0.5 0.7l0.5 0.8l0.5 0.7l0.5 0.7l0.5 0.2l0.5 0.4l0.5 0.2l0.5 0.4l0.5 0.5l0.5 0.2l0.5-0.2l0.5-0.2l0.5 0.1l0.5 0.2l0.5-0.1l0.5 0l0.5 0.1l0.5 0.3l0.5-0.1l0.5 0l0.5-0.3l0.5-0.3l0.5-0.3l0.5-0.2l0.6 0.5l0.5 0.3l0.5 0l0.5 0.4l0.5 0.3l0.5 0.5l0.5 0.1l0.5 0.4l0.5 0l0.5 0l0.5 0.3l0.5 0.4l0.5 2.3l0.5 2.2l0.5 2.4l0.5 2.2l0.5 0.6l0.5 0.7l0.5 0.5l0.5 0.9l0.5 0.3l0.5 0.6l0.5 0.7l0.5 0.3l0.5 0.4l0.5 0.4l0.5 0.4l0.6 0.7l0.5 0.6l0.5 0.8l0.5 0.6l0.5 0.7l0.6 0.8l0.5-0.2l0.5 0.1l0.5 0.1l0.4 0l0.5 0.1l0.5 0.1l0.5 0.1l0.5-0.1l0.5 0.1l0.5 0.3l0.5-0.3l0.6-0.2l0.5 0l0.5 0.2l0.5-0.1l0.5 0l0.5-0.7l0.5-0.9l0.4-0.6l0.5 0l0.6 0.2l0.5 0.3l0.5 0.1l0.5 0.2l0.5 0l0.5 0.1l0.5 0.1l0.5 0.2l0.5 0l0.5-0.1l0.5 0.2l0.5 0.1l0.5 0l0.5 0.1l0.5 0.2l0.5 0.2l0.5 0.1l0.5 0.2l0.5 0.1l0.5-0.1l0.5-0.2l0.5 0.1l0.5-0.1l0.5 0.1l0.5 0l0.5 0.2l0.5 0.1l0.6 0.1l0.5 0" fill="none" stroke="#f6b27f" stroke-width="1.4" stroke-linejoin="miter" stroke-linecap="round"/>
<path d="M787.6 184.2l0.5 0l0.5 0.1l0.5-0.2l0.6 0.3l0.5 0.1l0.5-0.1l0.5 0l0.5 0.2l0.5-0.1l0.6 0.2l0.5 0.2l0.5-0.2l0.5 0.4l0.5 0.1l0.5-0.3l0.5-0.6l0.4-0.6l0.6 0.2l0.5 0.6l0.5 0.3l0.5 0.4l0.5 0l0.5 0.2l0.5 0.3l0.5 0.3l0.5-0.1l0.5 0.2l0.5 1l0.6 1.1l0.5 1.1l0.4 3.3l0.4 3.7l0.6 3.4l0.6 3.5l0.5 0.4l0.5 0.4l0.5 0.7l0.4 0.2l0.5 0.5l0.5 0.7l0.5 0.5l0.5 0.7l0.5 0.5l0.5 0.6l0.6 0.9l0.5 1.6l0.5 1.5l0.5 1.5l0.5 1.5l0.4 0.4l0.5 0.9l0.5 0.3l0.5 0l0.5 0l0.5-0.1l0.6-0.1l0.5 0.1l0.5-0.2l0.5 0.2l0.5-0.1l0.5 0l0.6 0.2l0.5-0.1l0.5 0.1l0.5-0.1l0.5-0.1l0.5-0.8l0.5-1l0.4-0.4l0.5 0l0.6-0.1l0.5 0l0.5-0.2l0.5 0.1l0.5 0.1l0.5 0l0.5 0.1l0.5-0.1l0.5-0.2l0.5 0.2l0.5 0l0.5 0.1l0.5-0.1l0.5 0.1l0.5 0l0.5 0.1l0.5 0.2l0.5-0.8l0.6-1l0.5-1.2l0.5-0.3l0.5 0.3l0.5-0.5l0.5 0l0.5-0.1l0.5 0.1l0.5-0.1l0.5-0.2l0.5 0.1l0.5-0.2l0.5 0.1l0.5-0.3l0.5-0.2l0.5-0.1l0.5-0.1l0.5 0.1l0.5-0.1l0.5-0.2l0.5 0.2l0.5 0.1l0.5 0.1l0.5-0.2l0.5-0.2l0.6-0.6l0.5-0.1l0.5-0.1l0.5 0l0.5-0.1l0.5-0.1l0.5-0.3l0.5 0.1l0.5 0.2l0.5-0.1l0.5-0.3l0.5 0.1l0.5 0l0.5 0.1l0.5 0.4l0.5-0.1l0.5 0.2l0.5 0.4l0.5 0.1l0.5 0.5l0.5 0.1l0.5 0.1l0.5 0.3l0.5 0l0.5 0.2l0.5 0.2l0.5 0l0.5 0.4l0.5 0l0.5 0l0.5 0.2l0.5 0.4l0.5 0l0.5 0.1l0.5 0.2l0.5 0.1l0.5 0.1l0.6 0.2l0.5 0.2l0.5-0.2l0.5-0.3l0.5-0.2l0.5 0.2l0.5 0.1l0.5 0l0.5-0.1l0.5-0.1l0.5 0l0.5 0.1l0.5 0l0.5-0.2l0.5 0l0.4-0.1l0.5 0.3l0.5-0.3l0.5-0.4l0.5-0.1l0.5 0l0.5-0.2l0.4 0.1l0.6 0l0.5-0.1l0.5 0.1l0.5 0.1l0.6-0.2l0.5 0l0.5-0.1l0.5-0.1l0.6 0.2l0.5 0l0.5-0.5l0.5-0.2l0.6-0.5l0.5-0.3l0.5-0.1l0.5 0.1l0.6 0l0.5-0.1l0.5-0.2l0.5 0.1l0.6 0.1l0.5-0.1l0.5 0.1l0.4 0.1l0.5 0l0.5 0l0.5 0l0.5 0l0.4 0" fill="none" stroke="#d9691a" stroke-width="1.4" stroke-linejoin="miter" stroke-linecap="round"/>
<path d="M838.6 179.5l0.5-0.1l0.5 0.1l0.5 0.2l0.5-0.3l0.5-0.3l0.5 0.1l0.5 0.1l0.5-0.1l0.5 0.1l0.5 0l0.5 0l0.5-0.2l0.5-0.2l0.5-0.1l0.5 0.1l0.5-0.1l0.5-0.7l0.5-0.6l0.5-0.3l0.5 0.1l0.5-0.1l0.5-0.1l0.6 0l0.5-0.3l0.5 0l0.5-0.1l0.5 0.2l0.5 0.4l0.5 0.3l0.5 0l0.5 0.6l0.5 0.3l0.5 0.5l0.5 0.4l0.5 0.3l0.5 0.4l0.5 0.2l0.5 0.2l0.5 0.4l0.5 0.3l0.5 0.3l0.5 0.3l0.5 0.4l0.5 0.2l0.5 0.1l0.5 0.1l0.5 0.3l0.5 0.3l0.5 0.3l0.6 0.2l0.5 0.1l0.5 0.1l0.5-0.1l0.5-0.3l0.5 0l0.5-0.1l0.5 0.2l0.5-0.1l0.5-0.2l0.5 0l0.5-0.3l0.5 0l0.5-0.1l0.5-0.5l0.4 0l0.5-0.1l0.5 0l0.5-0.2l0.5-0.2l0.5-0.2l0.5-0.5l0.4-0.1l0.6 0.2l0.5-0.2l0.5-0.1l0.5-0.2l0.6-0.1l0.5 0.1l0.5 0.1l0.5-0.3l0.6-0.1l0.5-0.1l0.5-1.3l0.5-1l0.6 0l0.5-0.3l0.5 0l0.5 0l0.6-0.1l0.5-0.1l0.5 1.3l0.5 1.2l0.6 0.5l0.5 0.3l0.5 0.3l0.5 0.4l0.6 0.5l0.5 0.1l0.5 0.3l0.5 0.3l0.6 0.2l0.5 0.3l0.5 0.1l0.5 0.1l0.6 0l0.5 0.3l0.5 0.2l0.5 0.2l0.6-0.5l0.5-0.4l0.5 0l0.5-0.1l0.6-0.1l0.5-0.1l0.5 0l0.5 0l0.5 0l0.6-0.1l0.5 0.4l0.5-0.1l0.5 0.2l0.6 0l0.5 0.1l0.4 0.1l0.5 0.2l0.5-0.1l0.5 0l0.5 0.3l0.5 0.2l0.4 0l0.5 0.4l0.5 0l0.5 0.1l0.5 0.2l0.5 0l0.5 0l0.5 0.2l0.5 0l0.6 0l0.5 0.4l0.5 0.1l0.5 0.3l0.6 0.1l0.5 0.1l0.5-0.1l0.5 0.1l0.6 0.2l0.5 0.3l0.5 0.4l0.5 0.3l0.6 0.3l0.5 0.2l0.5 0.3l0.5 0.3l0.6-0.1l0.5 0l0.5 0l0.5 0.1l0.6 0.1l0.5-0.2l0.5 0.2l0.5-0.1l0.6-0.1l0.4 0l0.5 0.1l0.5 0l0.5 0.1l0.5 0l0.5 0l0.5-0.2l0.4 0l0.5 0l0.5-0.3l0.5 0l0.5 0l0.5-0.1l0.5 0.3l0.5-0.1l0.5 0.4l0.6-0.2l0.5 0.4l0.5 0l0.5 0.3l0.6-0.1l0.5 0.2l0.5-0.1l0.5 0.3l0.6 0.3l0.5 0l0.5 0.3l0.5 0.3l0.6 0.3l0.5-0.3l0.5 0.5l0.5 0.3l0.6 0.2l0.5 0.1l0.5 0.3l0.5 0.1l0.6 0.2" fill="none" stroke="#8fc6f7" stroke-width="1.4" stroke-linejoin="miter" stroke-linecap="round"/>
<path d="M890 150.5l0.5 0l0.5-0.1l0.5 0.2l0.5 0.1l0.5 0l0.5 0l0.5 0l0.6 0l0.5 0.3l0.5 0l0.4-0.1l0.5 0l0.5 0.4l0.5 0l0.5 0.1l0.5 0.1l0.5-0.2l0.4 0l0.5 0.1l0.5 0l0.5 0.1l0.5 0.2l0.5-0.1l0.4 0.2l0.5 0.1l0.5-0.1l0.5 0.2l0.5 0.1l0.5-0.2l0.4-0.1l0.5 0.2l0.5 0.3l0.5-0.1l0.5 0l0.5-0.1l0.5 0.3l0.4 0l0.5 0l0.5 0l0.5 0l0.5 0.2l0.5 0.1l0.4-0.2l0.5 0l0.5 0l0.5 0.1l0.5 0.1l0.5 0.1l0.5 0.7l0.5 0.6l0.5 0.7l0.6 0.9l0.5-0.2l0.5 0.2l0.5 0.2l0.6-0.2l0.5-0.1l0.5 0.2l0.5 0.2l0.6 0l0.4 0.1l0.5 0.1l0.5-0.2l0.5 0l0.5 0.1l0.5 0.2l0.5 0l0.4-0.1l0.5-0.1l0.5-0.1l0.5-0.2l0.5 0l0.5 0.2l0.5 0l0.5-0.2l0.5 0.2l0.6 0l0.5 0.1l0.5 0l0.5-0.2l0.6 0.2l0.5 0.5l0.5 0.6l0.5 0.2l0.6 0.6l0.5 0.5l0.5 0.5l0.5 1.3l0.6 1.4l0.5 1.1l0.5 1.2l0.5 2.6l0.6 2.6l0.5 0.4l0.5 0.4l0.5 0.1l0.6 0.4l0.5 0.4l0.5 0.3l0.5 0.7l0.6 0.6l0.5 0.4l0.5 0.7l0.5-0.1l0.6 0l0.5 0l0.5 0.3l0.5-0.1l0.6-0.1l0.5 0l0.5 0.1l0.5-1.4l0.6-1.6l0.5-0.1l0.5-0.4l0.5-0.1l0.6-0.1l0.5 0.1l0.5-0.2l0.5 0.4l0.6-0.3l0.5-0.2l0.5 0.1l0.5-0.1l0.6-0.2l0.5 0.2l0.5-0.2l0.5 0l0.5 0.1l0.6 0.3l0.5 0.1l0.5 0.4l0.5 0.3l0.6 0l0.5 0.2l0.5 0.1l0.5 0.1l0.6 0.3l0.5 0.3l0.5 0.4l0.5 0.1l0.6 0.4l0.5 0.3l0.5 0.1l0.5 0.1l0.6 0.7l0.5 0.3l0.5 0l0.5 0.4l0.6 0.2l0.5 0.1l0.5 0.3l0.5 0.4l0.6 0.3l0.5-0.1l0.5 0.4l0.5 0.2l0.6 0l0.5 0.3l0.5 0.3l0.5 0l0.6 0.2l0.5 0.4l0.5 0.1l0.5 0.2l0.6 0l0.5 0.4l0.5 0.2l0.5 0.2l0.6 0.5l0.5 0.6l0.5 0.4l0.5 0.6l0.6 0.5l0.5 0.5l0.5 0.4l0.5 0.3l0.6 0.7l0.5 0.2l0.5 0.4l0.5 0.2l0.6 0.7l0.5 0.2l0.5 0.5l0.5 0.5l0.6 0.4l0.5 0.7l0.5 0.1l0.5 0.2l0.6 0.4l0.5 0.3l0.5 0.4l0.5 0.4l0.6 0.1l0.5 0.3l0.6 0.3l0.5 0.1l0.6 0.2" fill="none" stroke="#b3a0cb" stroke-width="1.4" stroke-linejoin="miter" stroke-linecap="round"/>
<path d="M941.2 134.6l0.5-0.1l0.4-0.4l0.5 0.6l0.5-0.6l0.5 0l0.5 0.5l0.5-0.1l0.4-0.3l0.5-0.2l0.5 0.1l0.5-0.5l0.6 0.1l0.5-0.1l0.5 0.2l0.5-0.1l0.6 0.2l0.5-0.1l0.5 0.1l0.5-0.3l0.6-0.3l0.4-0.2l0.5-0.1l0.5-0.4l0.4-0.2l0.5 0.4l0.5 0l0.5 0l0.4 0l0.5 0.6l0.5 1.2l0.5 1l0.5 1.3l0.5 1.3l0.5 1.2l0.5 0.7l0.6 0.3l0.5 0.5l0.6 0.1l0.5 0.4l0.5 0.3l0.5 0.5l0.6 1.1l0.5 0.6l0.5 1.1l0.5 0l0.6 1.2l0.5 0.8l0.5 0.9l0.5 1.1l0.6 0.4l0.5-0.2l0.5 0.4l0.5 0.6l0.6-0.1l0.5 0.7l0.5 0.2l0.5 0.7l0.6 0.9l0.5 0.2l0.5 0.3l0.5 0.8l0.5 0.1l0.5-0.2l0.6 0.4l0.5 0.5l0.5-0.5l0.4 1.5l0.4 2.4l0.4 1.4l0.5 1.6l0.5 0.5l0.5 0.7l0.5 2.7l0.5 2.1l0.5 2.4l0.4 1.3l0.4 1.1l0.4 1.1l0.5 0.5l0.5-0.4l0.5 0.2l0.5 0.2l0.5-0.2l0.6-0.7l0.5-0.4l0.5 0l0.5-1.2l0.6 2l0.5 2l0.5 2l0.5 1.4l0.6-1l0.5-0.3l0.5-0.4l0.5-0.7l0.6-0.2l0.5 0.1l0.5 1.3l0.5 0.9l0.6 0.5l0.5 0.8l0.5 0.1l0.5-0.3l0.6-0.6l0.5-0.3l0.5-0.4l0.5 0.3l0.5-0.2l0.5 0l0.5-0.6l0.5-0.2l0.6 0.2l0.5 1.4l0.5 0.9l0.5 1.2l0.5 0.6l0.6 0.5l0.5 0.4l0.6 0.2l0.5-0.5l0.6 0.5l0.5 0.5l0.5 0.4l0.6 0.4l0.5 0.2l0.5 1.7l0.5 1.9l0.6-1.3l0.5-2l0.6-2.2l0.5 1.6l0.6 0.7l0.5 0.3l0.5 0.4l0.5 0.7l0.5-0.4l0.5 0.5l0.6-0.1l0.5-0.8l0.5 0.2l0.5-0.1l0.5-0.1l0.5 0l0.5 0.5l0.6 0.2l0.5 0.7l0.5 0.3l0.5-0.5l0.6-0.1l0.5 0.5l0.5 0.1l0.5-0.2l0.6-0.3l0.5 0.1l0.5-0.1l0.5-0.1l0.6-0.5l0.5 0.2l0.5-0.4l0.5 0.5l0.6-0.4l0.5 0.1l0.5 0.7l0.5-0.1l0.6 0l0.5 0l0.5 0.1l0.5 0.5l0.6 0.4l0.5 0.3l0.5-0.4l0.5 0.1l0.6-0.2l0.5 0.3l0.5 0.4l0.5-0.1l0.6-0.2l0.5 0.1l0.5 0.6l0.5 0.3l0.6-0.4l0.5 0.8l0.5 0.9l0.5-0.2l0.6 0.7l0.5 0.2l0.5 0.1l0.5 0.2l0.5-0.1l0.5-0.4" fill="none" stroke="#6a1414" stroke-width="1.4" stroke-linejoin="miter" stroke-linecap="round"/>
<path d="M983.4 149.9l0.5-0.2l0.4-0.1l0.5-0.7l0.6 2.2l0.5 1.5l0.5-2l0.5-1.4l0.6 2.1l0.6 2.2l0.5 1.8l0.5-2.2l0.5 0.1l0.5-1.2l0.5 0.7l0.5 1.1l0.6 0.9l0.5 0.7l0.5-0.6l0.5-0.2l0.6 0l0.5-0.5l0.5 1l0.5 0.8l0.6 0l0.5-0.3l0.5 0.3l0.5-1.2l0.6-0.5l0.5-0.3l0.5 1.6l0.5 0.8l0.6-0.4l0.5 0.9l0.5 0.1l0.5 1.1l0.6 0.3l0.5 0.2l0.5 1l0.5 0.2l0.6 0.2l0.5 0.1l0.5 1.1l0.5 1.1l0.6-0.7l0.5-1.2l0.6-1.9l0.5 1l0.5 0.5l0.5 0.5l0.5 0.6l0.5 0.1l0.5-0.8l0.6 0.2l0.5 0.8l0.5-0.1l0.5-0.2l0.6 0l0.5-0.5l0.5 0.1l0.5-0.5l0.6 0.2l0.5 0l0.5-1l0.5-0.2l0.6-0.1l0.5-0.5l0.5 0.1l0.5 0l0.6 0.2l0.5-1.4l0.5-0.9l0.4-1l0.6 0.2l0.5-0.5l0.6 0.1l0.5 0.2l0.6-0.5l0.5-0.5l0.5-0.6l0.5 0.8l0.6 0.2l0.5 0.8l0.5 0.9l0.5 0.3l0.6-0.7l0.5-0.4l0.5 0l0.6-0.8l0.5-1.8l0.6-2.2l0.5-1.5l0.5-1.8l0.5-0.8l0.5 0.7l0.5 0.4l0.5 0.1l0.6 0.8l0.5 1.4l0.5 1.3l0.5 0.5l0.6-0.4l0.5-0.6l0.5 0.3l0.5 0.3l0.6-0.8l0.5 0.2l0.5-0.1l0.5 0.5l0.6 0l0.5 1.8l0.5 0.2l0.5-0.1l0.6 0.4l0.5-0.1l0.5-0.5l0.5-0.1l0.6 0.7l0.5 0l0.5-0.4l0.5-0.4l0.6 0.6l0.5 0.5l0.5 0l0.5-2.5l0.6-3.6l0.5-0.8l0.5-0.2l0.5-0.2l0.6 0.4l0.5 0.6l0.5 0.1l0.5 0.4l0.6 1.5l0.5 0.6l0.5 0.6l0.5-0.9l0.6-0.2l0.5 0l0.5 0.1l0.5-0.2l0.6-1.2l0.5 0.1l0.5-1l0.5-0.8l0.6-0.3l0.5 0l0.5 0.3l0.5 0l0.6 0.5l0.5-0.2l0.5 0.1l0.5-0.2l0.6-0.4l0.5-0.5l0.5 0.9l0.5-0.1l0.6-0.6l0.5 0.1l0.5-1l0.5-0.1l0.5-0.1l0.6-0.5l0.5-0.2l0.5 0.6l0.5-0.1l0.6 0.3l0.5 0.2l0.5 0l0.5-0.9l0.5 0.8l0.5 0.6l0.5 0.1" fill="none" stroke="#ff0000" stroke-width="1.4" stroke-linejoin="miter" stroke-linecap="round"/>
<path d="M1016.7 134.2l0.5-1.1l0.4-0.8l0.4-1.3l0.5 0.2l0.5 1l0.5 0.7l0.5-1.2l0.5-1.1l0.4-0.9l0.6-1.2l0.6-1.1l0.5-0.5l0.6-1.4l0.5-1.3l0.6-0.4l0.5 0.8l0.5 0.7l0.5 0.9l0.5-0.7l0.5-0.3l0.5 0.4l0.6-0.4l0.5-1.2l0.5-0.5l0.5-1l0.6-0.8l0.5-1.1l0.5-0.9l0.5-2.2l0.6-1.6l0.5-0.3l0.4 0.1l0.5-0.2l0.6 1.7l0.6 1.5l0.5 1.5l0.5-0.6l0.6-0.7l0.5 0l0.5 0.2l0.5 0.1l0.6-0.9l0.5-0.6l0.5-1.3l0.5 0.5l0.6 0.1l0.5 1l0.5 1.4l0.5-0.3l0.6 0.9l0.5-0.1l0.5 0.8l0.5 0.5l0.6 0l0.5 0.3l0.5-0.6l0.5-0.5l0.6 0.3l0.5-1.4l0.5-0.6l0.5-2.2l0.6-3.5l0.5-0.1l0.5 0.9l0.5-0.6l0.6-0.5l0.5-0.2l0.5-0.7l0.5 1l0.6 1l0.5 1.5l0.5 0.8l0.5 0.5l0.6-0.2l0.5-0.4l0.5-1.3l0.5 0.2l0.6 0.1l0.5-1.2l0.5-0.4l0.5-0.9l0.6-0.8l0.5-1.4l0.5-0.3l0.5-0.2l0.6 0.5l0.5-0.2l0.5-0.2l0.5 0.4l0.6-0.5l0.5-0.4l0.5-0.1l0.5-0.2l0.6-0.2l0.5-0.6l0.5-0.6l0.5-0.5l0.5 0.4l0.6-0.7l0.5 0l0.5 0l0.5 0.2l0.6 0l0.5 0.5l0.5-0.4l0.5-0.5" fill="none" stroke="#a9c47f" stroke-width="1.4" stroke-linejoin="miter" stroke-linecap="round"/>
<text x="749.9" y="289.0" font-size="10.5" font-family='"Liberation Sans", "Noto Sans CJK SC", sans-serif' fill="#000" text-anchor="start" xml:space="preserve" style="white-space:pre">2010</text>
<text x="788.8" y="264.4" font-size="10.5" font-family='"Liberation Sans", "Noto Sans CJK SC", sans-serif' fill="#000" text-anchor="start" xml:space="preserve" style="white-space:pre">2011</text>
<text x="846.7" y="256.9" font-size="10.5" font-family='"Liberation Sans", "Noto Sans CJK SC", sans-serif' fill="#000" text-anchor="start" xml:space="preserve" style="white-space:pre">2012</text>
<text x="885.8" y="228.0" font-size="10.5" font-family='"Liberation Sans", "Noto Sans CJK SC", sans-serif' fill="#000" text-anchor="start" xml:space="preserve" style="white-space:pre">2013</text>
<text x="946.2" y="206.0" font-size="10.5" font-family='"Liberation Sans", "Noto Sans CJK SC", sans-serif' fill="#000" text-anchor="start" xml:space="preserve" style="white-space:pre">2014</text>
<text x="917.7" y="148.6" font-size="10.5" font-family='"Liberation Sans", "Noto Sans CJK SC", sans-serif' fill="#000" text-anchor="start" xml:space="preserve" style="white-space:pre">2015</text>
<text x="969.7" y="132.3" font-size="10.5" font-family='"Liberation Sans", "Noto Sans CJK SC", sans-serif' fill="#000" text-anchor="start" xml:space="preserve" style="white-space:pre">2016</text>
<text x="1050.1" y="143.6" font-size="10.5" font-family='"Liberation Sans", "Noto Sans CJK SC", sans-serif' fill="#000" text-anchor="start" xml:space="preserve" style="white-space:pre">2017</text>
<text x="1057.7" y="106.2" font-size="10.5" font-family='"Liberation Sans", "Noto Sans CJK SC", sans-serif' fill="#000" text-anchor="start" xml:space="preserve" style="white-space:pre">2018</text>
<line x1="111.5" y1="703.5" x2="566.0" y2="703.5" stroke="#eeeeee" stroke-width="1"/>
<line x1="111.5" y1="655.5" x2="566.0" y2="655.5" stroke="#eeeeee" stroke-width="1"/>
<line x1="111.5" y1="607.5" x2="566.0" y2="607.5" stroke="#eeeeee" stroke-width="1"/>
<line x1="111.5" y1="558.5" x2="566.0" y2="558.5" stroke="#eeeeee" stroke-width="1"/>
<line x1="111.5" y1="510.5" x2="566.0" y2="510.5" stroke="#eeeeee" stroke-width="1"/>
<line x1="111.5" y1="462.5" x2="566.0" y2="462.5" stroke="#eeeeee" stroke-width="1"/>
<line x1="111.5" y1="462.0" x2="111.5" y2="752.5" stroke="#adadad" stroke-width="1"/>
<line x1="107.8" y1="752.5" x2="566.0" y2="752.5" stroke="#adadad" stroke-width="1"/>
<line x1="107.8" y1="752.5" x2="111.5" y2="752.5" stroke="#adadad" stroke-width="1"/>
<line x1="107.8" y1="703.5" x2="111.5" y2="703.5" stroke="#adadad" stroke-width="1"/>
<line x1="107.8" y1="655.5" x2="111.5" y2="655.5" stroke="#adadad" stroke-width="1"/>
<line x1="107.8" y1="607.5" x2="111.5" y2="607.5" stroke="#adadad" stroke-width="1"/>
<line x1="107.8" y1="558.5" x2="111.5" y2="558.5" stroke="#adadad" stroke-width="1"/>
<line x1="107.8" y1="510.5" x2="111.5" y2="510.5" stroke="#adadad" stroke-width="1"/>
<line x1="107.8" y1="462.5" x2="111.5" y2="462.5" stroke="#adadad" stroke-width="1"/>
<line x1="111.5" y1="752.5" x2="111.5" y2="756.2" stroke="#adadad" stroke-width="1"/>
<line x1="153.5" y1="752.5" x2="153.5" y2="756.2" stroke="#adadad" stroke-width="1"/>
<line x1="194.5" y1="752.5" x2="194.5" y2="756.2" stroke="#adadad" stroke-width="1"/>
<line x1="236.5" y1="752.5" x2="236.5" y2="756.2" stroke="#adadad" stroke-width="1"/>
<line x1="277.5" y1="752.5" x2="277.5" y2="756.2" stroke="#adadad" stroke-width="1"/>
<line x1="319.5" y1="752.5" x2="319.5" y2="756.2" stroke="#adadad" stroke-width="1"/>
<line x1="361.5" y1="752.5" x2="361.5" y2="756.2" stroke="#adadad" stroke-width="1"/>
<line x1="402.5" y1="752.5" x2="402.5" y2="756.2" stroke="#adadad" stroke-width="1"/>
<line x1="444.5" y1="752.5" x2="444.5" y2="756.2" stroke="#adadad" stroke-width="1"/>
<line x1="485.5" y1="752.5" x2="485.5" y2="756.2" stroke="#adadad" stroke-width="1"/>
<line x1="527.5" y1="752.5" x2="527.5" y2="756.2" stroke="#adadad" stroke-width="1"/>
<text x="97.7" y="756.1" font-size="10.5" font-family='"Liberation Sans", "Noto Sans CJK SC", sans-serif' fill="#000" text-anchor="end" xml:space="preserve" style="white-space:pre">0.0</text>
<text x="97.7" y="707.7" font-size="10.5" font-family='"Liberation Sans", "Noto Sans CJK SC", sans-serif' fill="#000" text-anchor="end" xml:space="preserve" style="white-space:pre">1.0</text>
<text x="97.7" y="659.4" font-size="10.5" font-family='"Liberation Sans", "Noto Sans CJK SC", sans-serif' fill="#000" text-anchor="end" xml:space="preserve" style="white-space:pre">2.0</text>
<text x="97.7" y="611.0" font-size="10.5" font-family='"Liberation Sans", "Noto Sans CJK SC", sans-serif' fill="#000" text-anchor="end" xml:space="preserve" style="white-space:pre">3.0</text>
<text x="97.7" y="562.7" font-size="10.5" font-family='"Liberation Sans", "Noto Sans CJK SC", sans-serif' fill="#000" text-anchor="end" xml:space="preserve" style="white-space:pre">4.0</text>
<text x="97.7" y="514.3" font-size="10.5" font-family='"Liberation Sans", "Noto Sans CJK SC", sans-serif' fill="#000" text-anchor="end" xml:space="preserve" style="white-space:pre">5.0</text>
<text x="97.7" y="465.9" font-size="10.5" font-family='"Liberation Sans", "Noto Sans CJK SC", sans-serif' fill="#000" text-anchor="end" xml:space="preserve" style="white-space:pre">6.0</text>
<text x="111.5" y="770.0" font-size="10.5" font-family='"Liberation Sans", "Noto Sans CJK SC", sans-serif' fill="#000" text-anchor="middle" xml:space="preserve" style="white-space:pre">2007</text>
<text x="153.1" y="770.0" font-size="10.5" font-family='"Liberation Sans", "Noto Sans CJK SC", sans-serif' fill="#000" text-anchor="middle" xml:space="preserve" style="white-space:pre">2008</text>
<text x="194.7" y="770.0" font-size="10.5" font-family='"Liberation Sans", "Noto Sans CJK SC", sans-serif' fill="#000" text-anchor="middle" xml:space="preserve" style="white-space:pre">2009</text>
<text x="236.3" y="770.0" font-size="10.5" font-family='"Liberation Sans", "Noto Sans CJK SC", sans-serif' fill="#000" text-anchor="middle" xml:space="preserve" style="white-space:pre">2010</text>
<text x="277.9" y="770.0" font-size="10.5" font-family='"Liberation Sans", "Noto Sans CJK SC", sans-serif' fill="#000" text-anchor="middle" xml:space="preserve" style="white-space:pre">2011</text>
<text x="319.5" y="770.0" font-size="10.5" font-family='"Liberation Sans", "Noto Sans CJK SC", sans-serif' fill="#000" text-anchor="middle" xml:space="preserve" style="white-space:pre">2012</text>
<text x="361.1" y="770.0" font-size="10.5" font-family='"Liberation Sans", "Noto Sans CJK SC", sans-serif' fill="#000" text-anchor="middle" xml:space="preserve" style="white-space:pre">2013</text>
<text x="402.7" y="770.0" font-size="10.5" font-family='"Liberation Sans", "Noto Sans CJK SC", sans-serif' fill="#000" text-anchor="middle" xml:space="preserve" style="white-space:pre">2014</text>
<text x="444.3" y="770.0" font-size="10.5" font-family='"Liberation Sans", "Noto Sans CJK SC", sans-serif' fill="#000" text-anchor="middle" xml:space="preserve" style="white-space:pre">2015</text>
<text x="485.9" y="770.0" font-size="10.5" font-family='"Liberation Sans", "Noto Sans CJK SC", sans-serif' fill="#000" text-anchor="middle" xml:space="preserve" style="white-space:pre">2016</text>
<text x="527.5" y="770.0" font-size="10.5" font-family='"Liberation Sans", "Noto Sans CJK SC", sans-serif' fill="#000" text-anchor="middle" xml:space="preserve" style="white-space:pre">2017</text>
<path d="M111.4 700.9l0.3-0.2l0.3-0.1l0.3-2.5l0.2-2l0.3-0.3l0.3 0.8l0.2-0.7l0.3-2.2l0.2-0.9l0.3 0l0.2 0.8l0.3-0.6l0.2-0.9l0.3-0.5l0.2-0.3l0.3-1.4l0.2-0.3l0.3-0.2l0.2 1l0.3-1.4l0.2-0.1l0.3-2.3l0.2 0.8l0.3-0.4l0.2-1l0.3-0.1l0.2 0.8l0.2-0.9l0.3 0.7l0.2 0.8l0.3 0.4l0.2-0.2l0.3-3.4l0.2-0.8l0.3-1.9l0.2 0.1l0.3-1.2l0.2-1l0.3-0.8l0.2-1.9l0.3-0.7l0.2-1.5l0.3 1.5l0.3-2l0.2-1.1l0.3-2.7l0.3-1.5l0.2-0.7l0.3 0.9l0.2 0.1l0.3 1.8l0.2 0.8l0.2 3.7l0.3 0l0.2 1l0.3 2.6l0.2-0.7l0.3 0.9l0.2 1.4l0.3-0.2l0.2 0.5l0.3 0l0.2-0.6l0.3-2.1l0.2-1.1l0.3 0.1l0.3-2.1l0.2-0.7l0.3-0.1l0.3 0.5l0.2-0.8l0.3 0.7l0.2 1.6l0.3 1.5l0.2-0.6l0.3 3.3l0.2-0.5l0.3 2l0.2 0.1l0.3 1l0.3 2.2l0.2 0.5l0.3 0.1l0.2-0.7l0.3 0.3l0.2-0.3l0.3 3l0.2-1.8l0.3-1.7l0.2 3.1l0.3 1.4l0.2-0.8l0.3 0.9l0.2-1.1l0.3-0.3l0.2 1l0.3 0.5l0.2-0.5l0.3 0.4l0.2-1.2l0.3-1.8l0.2-2.9l0.3-0.8l0.2-1.5l0.3-1.1l0.2-0.4l0.3-1.4l0.3-0.2l0.2 0.2l0.3-0.6l0.3 1.3l0.2-3.5l0.3-0.5l0.2-1.7l0.3 0l0.3 2.2l0.2-2.1l0.3 0.4l0.2 1.4l0.3 0.4l0.2 1.2l0.3-1.6l0.2 1.9l0.3-0.7l0.2 1.1l0.3 3.3l0.2 2.6l0.2 1.2l0.3 1.4l0.2 2.4l0.2 1.3l0.3 1.1l0.3 0.2l0.2-0.6l0.3 3.6l0.2 1.3l0.3-0.3l0.2 0l0.2 0.6l0.3 0.7l0.2-1.1l0.3 2.9l0.2 0.8l0.2-0.2l0.3-0.2l0.2-0.4l0.3 0.3l0.3-1l0.2 0.3l0.3 0.2l0.3-2l0.2-1.5l0.3-1.5l0.2-0.4l0.3-1.2l0.2-0.2l0.3-0.2l0.2-0.2l0.3-2.2l0.3 0.8l0.2-1.4l0.3-0.9l0.2-1.2l0.3-2.5l0.2 0.6l0.3-2.1l0.2 1.4l0.3-0.7l0.2 0.9l0.3-0.8l0.2-0.5l0.3 0.2l0.3-1.5l0.2 0.5l0.3-1.7l0.2-0.7l0.3-1.5l0.3 0.1l0.2 0l0.3-1.5l0.2-1.7l0.3 0l0.2 0.2l0.3-0.6l0.2-1.4l0.3-0.8l0.3-0.2l0.2-2.3l0.3 1.2l0.2 2.9l0.3-0.9l0.2 0.8l0.3 2.6l0.2 0.6l0.3 0.8l0.2-0.4l0.3-2l0.2 2.9l0.2-1.1l0.3-0.8l0.2 0.8l0.2-0.5l0.3 0l0.2-0.8l0.3 1l0.2 0.9l0.3 0.4l0.2 0.4l0.3 0.5l0.2 1.5l0.3 0.6l0.2 1.7l0.3 1.9l0.3 0.7l0.2 0.4l0.3 2.1l0.2 0.6l0.3-1.4l0.2-0.8l0.3 0.4l0.2-0.9l0.3 1l0.2-2.1l0.3-1.4l0.2 2l0.3 0.6l0.2-1.1l0.3 1.3l0.2 2.3l0.3-0.9l0.2-0.3l0.3 0.1l0.2 0.6l0.3 0l0.2 1l0.3-0.3l0.2 1.4l0.3 3.1l0.3-1.4l0.2 1.2l0.3 1.1l0.2-2.8l0.3 0.1l0.2-0.3l0.3-0.8l0.2 0.4l0.3-1.3l0.2-0.2l0.3-1.1l0.2-0.7l0.3-0.1l0.2 3.2l0.3-0.4l0.2-1l0.3 2.7l0.2 1.4l0.3-0.8l0.2-0.7l0.3 0l0.2 2.4l0.3 0l0.2 0l0.3 1.9l0.2 0.3l0.3 0.7l0.3 2.7l0.2 0.5l0.3 0.9l0.2-0.1l0.3 1l0.2-0.7l0.3 1l0.2 0.9l0.3-0.8l0.2-1.4l0.3 1.1l0.2 0l0.3 0.8l0.2-0.8l0.3 0.8l0.2 1l0.3 1.7l0.2 0.2l0.3-0.6l0.2 0.9l0.3-1.5l0.2 1.1l0.3-0.4l0.2 1.2l0.3-0.3l0.2-0.5l0.3-0.6l0.3 1.7l0.2 0l0.3 0.7l0.2 0.4l0.3-2.2l0.2 1.6l0.3-0.3l0.2 0.7l0.3 0.5l0.2-2l0.3 0.4l0.2 0.5l0.3 0.7l0.2 1l0.3-1.8l0.2-0.8l0.2 0.1l0.3-2.7l0.2 1.9l0.2-2.1l0.3 0.9l0.3-0.9l0.2 0.9l0.3-0.6l0.2-1.7l0.3-2.8l0.3 0l0.2-0.1l0.3-0.1l0.3-2.2l0.2-0.7l0.3-0.5l0.2 0.6l0.3-0.9l0.2 0l0.3 1l0.2-1l0.3 1.1l0.2-0.7l0.3-1l0.2 0.6l0.3-0.4l0.2-1.1l0.3-1.1l0.2-0.2l0.3 0.1l0.2 0.7l0.3-0.6l0.2-1.4l0.3-1.6l0.2 0.5l0.3 0.3l0.3 0.7l0.2-1.4l0.3-1.7l0.2 0.9l0.3-0.6l0.2-1.6l0.3 1.8l0.2 0l0.3-1l0.2-0.5l0.3-1.5l0.2 0.7l0.3-1.2l0.2-0.9l0.3-0.4l0.2-1.3l0.3 1.3l0.2 1.2l0.3-0.5l0.2-3.2l0.3-0.2l0.2-0.6l0.3 0.2l0.2-2.8l0.3-1.3l0.2 0.1l0.3 1.1l0.3-0.9l0.2 1.5l0.3-2.5l0.2-0.8l0.3-1l0.2-1.6l0.3 0.7l0.2-2.3l0.3-1.4l0.2-0.4l0.3-0.7l0.2 1.2l0.3-1.2l0.2 0.2l0.3-1.1l0.2 0.9l0.3-0.9l0.2-0.5l0.3-2.4l0.2 1.7l0.3-0.4l0.2 1.6l0.3 0.5l0.2 0.6l0.3 1l0.2-0.1l0.3-1.1l0.3 0.9l0.2 0.7l0.3-0.6l0.2 1.7l0.3 2.1l0.2 0.2l0.3 0.3l0.2 0.7l0.3 0.9l0.2-1.1l0.3 0.9l0.2-1.1l0.3 0.7l0.2 0.4l0.3-1.5l0.2 1.2l0.3-0.4l0.2-2.3l0.3-0.3l0.2-0.5l0.3-0.8l0.2 0.6l0.3-1.1l0.2 0.1l0.3-1.3l0.3 0l0.2 1.9l0.3-0.5l0.2-2.5l0.3-0.8l0.2 0.1l0.3-1.6l0.2 0.7l0.3-1.2l0.2-1.3l0.3-1.1l0.2-1.9l0.3-2.1l0.2-2.5l0.3-1.3l0.2 0.9l0.3 0.6l0.2-0.8l0.3-2.4l0.2-0.1l0.3 0.1l0.2-1.6l0.3 1.5l0.2-1l0.3 0.8l0.2-0.5l0.3 1.9l0.3-0.9l0.2 0l0.3 2.1l0.2-0.9l0.3-0.7l0.2 0.4l0.3-0.2l0.2-2.5l0.3 0.6l0.2-0.8l0.3 0.8l0.2-2.8l0.3 0.2l0.2-0.8l0.3-1.7l0.2-1.5l0.3-0.5l0.2-1.9l0.3-1.2l0.2-1.6l0.3-0.1l0.2 0.1l0.3-2.5l0.2-0.1l0.3-0.1l0.2 0.8l0.3-2.2l0.3 0.5l0.2-1.3l0.3 0.1l0.2-0.3l0.3-0.2l0.2-0.9l0.3-1.2l0.2 1.7l0.3 0.8l0.2-0.7l0.3-0.2l0.2 0l0.3-0.9l0.2-0.2l0.3 1.7l0.2 1.5l0.3-0.1l0.2-2l0.3-1.7l0.2-0.9l0.3 0.4l0.2-0.9l0.3-2.5l0.2-1.5l0.3 0.2l0.2 1.4l0.3 2.5l0.3 1.5l0.2-0.1l0.3-0.6l0.2 0.9l0.3-0.5l0.2 0.5l0.3 1.3l0.2 0.3l0.2 0.3l0.3 0.8l0.2-1.7l0.3 0.2l0.2-0.7l0.2-0.2l0.3-0.3l0.2 0.1l0.3-0.9l0.2-0.1l0.3 1.8l0.2 1.8l0.3 0.4l0.2 1l0.3-0.4l0.2 2.6l0.3 1.7l0.2 2.5l0.3 0.1l0.3 0.9l0.2 1.2l0.3 2.5l0.2 1.2l0.3 1l0.2-2.9l0.3-1.1l0.2-1.6l0.3 0.1l0.2 0.7l0.3-0.7l0.2-1.7l0.3 1.6l0.2-2.2l0.3 1.1l0.2 0.3l0.3-1l0.2 0.4l0.3-2.4l0.2-0.9l0.3-0.5l0.2 1.3l0.3 0.4l0.2 2.4l0.3-0.4l0.3 0.1l0.2-0.6l0.3 1.7l0.2 1.5l0.3-2.2l0.2-2.2l0.3-1.9l0.2 1l0.3-0.3l0.2-1.2l0.3-0.7l0.2-1.2l0.3 1.1l0.2-1l0.3 2.1l0.3 1.8l0.2 1.9l0.3 1.4l0.3-0.3l0.2 1.2l0.3-0.5l0.2 3.1l0.3-2.2l0.2 0.6l0.3-1.4l0.2-1l0.3-0.9l0.3-0.1l0.2 0.4l0.3 0.7l0.2-1.2l0.3 0.2l0.2 0l0.3 0.8l0.2-2.3l0.3-0.6l0.2-0.2l0.3-0.9l0.2-0.4l0.3-1.7l0.2-1l0.3-1l0.2-0.9l0.3-1l0.2-0.1l0.3-1.4l0.2-1.3l0.3-0.3l0.2-3l0.3-1.7l0.2-1.1l0.3-1.9l0.2-1.6l0.3 1.2l0.3-0.2l0.2-1.1l0.3-0.9l0.2-1.5l0.3-0.5l0.2-0.8l0.3 1.6l0.2-0.4l0.3 2.8l0.2 1.2l0.3-0.7l0.2 4.2l0.3 1.5l0.2 1.8l0.3 0.2l0.2 0.7l0.3-1.7l0.2 0.2l0.3-3.7l0.2-2.7l0.3-0.7l0.2-3.6l0.3 0.7l0.2-3.1l0.3 0.6l0.3-1.5l0.2-1.4l0.3-2l0.2 1l0.3-1.7l0.2-2.4l0.3 0.2l0.2-0.2l0.3 0.5l0.2-0.8l0.3 0.4l0.2 0.2l0.3-0.4l0.2-1.9l0.3 1l0.2 2.1l0.3 0.5l0.2 1.1l0.3 0.7l0.2-0.4l0.3 1.4l0.2-0.2l0.3-0.6l0.2-0.5l0.3 2.1l0.2 1l0.3 0.7l0.3-0.7l0.2-1.4l0.3 2l0.2 0.3l0.3 0.5l0.2 0.8l0.3 0.8l0.2-0.3l0.3 2.7l0.2 2.1l0.3 1.7l0.2 0.2l0.3-2.2l0.2-1.7l0.3-0.3l0.2 1.4l0.3-0.3l0.2-1.6l0.3-0.7l0.2-0.5l0.3-0.9l0.2-0.5l0.3-0.5l0.2-1.2l0.3-1.4l0.2-0.4l0.3 1.4l0.3-2.2l0.2 0.4l0.3 0.4l0.2 0.7l0.3 0.1l0.2 1.4l0.3-0.3l0.2 0.3l0.3 1l0.2-1.3l0.3 1.9l0.2 1.2l0.3-1.5l0.2 0.5l0.3-0.1l0.2 0.4l0.3 1.6l0.2-1.4l0.3 2.2l0.2 1.1l0.3 0.5l0.2 2.7l0.3-0.9l0.2-1.2l0.3 1.5l0.2 1l0.3 0.1l0.3-1.1l0.2 0.5l0.3 3.6l0.2-0.8l0.3 2.8l0.2 1.3l0.3-3.2l0.2 0.4l0.3 0.4l0.2 0.5l0.3 0.2l0.2-0.1l0.3-1.6l0.2-1.3l0.3 0l0.2 0.8l0.3-0.8l0.2-0.4l0.3 3.3l0.2 0.7l0.3 0.6l0.2-0.8l0.3-2.5l0.2-1.5l0.3-1.8l0.3-1.3l0.2-2.3l0.3 0.4l0.2-0.7l0.3-0.4l0.2-0.5l0.3-1l0.2 2.1l0.3 0l0.2-0.4l0.3 0l0.2-1.2l0.3 0.3l0.2-1.2l0.3 1.2l0.2 0.6l0.3 0.2l0.2-0.2l0.3-0.4l0.2-0.1l0.3 0.5l0.2-0.8l0.3 0.7l0.2 0.5l0.3-1.7l0.2-0.9l0.3 1.7l0.3 0.5l0.2 0.1l0.3-0.2l0.2 0.3l0.3-0.1l0.2 1.3l0.3-0.2l0.2 0.4l0.3 1.6l0.2 2.7l0.3 1.5l0.2-0.4l0.3 0.6l0.2-0.1l0.3 0.4l0.2-0.1l0.3 1l0.2-0.2l0.3 0.4l0.2 1.2l0.3 0.9l0.2 3l0.3-0.9l0.2-0.4l0.3 1.9l0.2 1.3l0.3 1.1l0.3 0.2l0.2-0.9l0.3 1l0.2-1.7l0.3-0.1l0.2 1.3l0.3-1.7l0.2-0.9l0.3 0l0.2-2.7l0.3 0.1l0.2 0.5l0.3 0.4l0.2 1l0.3 0.4l0.2 2.5l0.3 1l0.2 0.5l0.3 1.7l0.2-0.6l0.3-0.4l0.2 3.5l0.3 0.6l0.2 2l0.3 0l0.3-0.5l0.2 0.9l0.3 2.7l0.2 1.2l0.3 0.1l0.2 1.7l0.3 0.3l0.2 0.9l0.3-0.3l0.2-1l0.3 1l0.2 1.1l0.3-1.1l0.2 1.7l0.3-0.4l0.2 1.1l0.3-0.6l0.2 0.1l0.3-2l0.2-2.6l0.3 1.8l0.2-0.2l0.3-1.1l0.2-2.5l0.3 0l0.2-2.2l0.3 0l0.3 0.1l0.2-0.8l0.3-2.2l0.2 0l0.3-0.7l0.2-0.4l0.3 0.2l0.2-2l0.3-1.4l0.2-2.3l0.3 2.1l0.2-1.4l0.3 1.1l0.2-0.5l0.3 0.3l0.2 1l0.3 1.5l0.3 0.8l0.2 1.8l0.3 0.2l0.2 0.4l0.3-3l0.2-0.9l0.3-0.8l0.2-0.4l0.3-0.8l0.2-1.8l0.3-0.4l0.2-3.1l0.2-0.4l0.3 0.1l0.2-1l0.3 0.7l0.2-1.1l0.3-0.3l0.2-2.2l0.3 0.4l0.2-0.3l0.3-2.2l0.2 1.6l0.3-1.8l0.2-1.1l0.3 1.2l0.2 1.5l0.3-0.4l0.2-1.1l0.3-1.3l0.3-0.8l0.2 0.3l0.3 0.3l0.2-1.3l0.3 1.1l0.2-1.9l0.3 1.4l0.2-0.2l0.3-0.4l0.2 3.3l0.3 0.4l0.2-0.5l0.3-1l0.3 2.1l0.2-0.1l0.3-0.8l0.2-1.9l0.3 2.6l0.2 1.5l0.2 0.8l0.3-0.9l0.2-1.1l0.3 2.7l0.2 0.2l0.2 1.4l0.3-2.3l0.2 1.2l0.3 1.9l0.2-1l0.3 0.9l0.2-0.9l0.2-0.8l0.3-1.2l0.2-2l0.3-2.1l0.2-1.6l0.3 0.7l0.2-1.6l0.3-3.3l0.2 0l0.2-0.6l0.3-1.4l0.2-0.4l0.3-2l0.2 1.9l0.3-2.5l0.2-1l0.3 0.7l0.3 0.6l0.2 1.1l0.3 0.1l0.2 0.6l0.3-0.1l0.3-0.2l0.2-0.8l0.3 0l0.2 0.8l0.3-1.6l0.2 0.8l0.3-1l0.2 0.6l0.3-0.4l0.2-1.6l0.3 1.8l0.2-0.8l0.2-2.7l0.3-0.9l0.3-1.9l0.2-1.8l0.3-0.4l0.2-1.2l0.3 0.3l0.2-0.4l0.3 1.9l0.3 2.7l0.2 0.9l0.3 2.8l0.2 1.7l0.3-1.3l0.3 0.6l0.2 0.7l0.3 3l0.3 0.2l0.2-2.6l0.2-0.2l0.3 0l0.2-0.1l0.3-0.3l0.2-0.2l0.3-1.1l0.2-0.1l0.3-0.7l0.2-0.6l0.3-0.4l0.2 0.7l0.3-0.5l0.2-0.1l0.3-1.6l0.2-2.1l0.3 0.1l0.2 0.9l0.3-0.6l0.3-1.1l0.2-1.9l0.3 0.7l0.2 0.3l0.3-0.2l0.2 2.2l0.2 1.3l0.3 2.3l0.2-0.8l0.3-0.2l0.2 1.8l0.3 2.8l0.2-1.6l0.3-0.9l0.2-3.1l0.2-0.6l0.3-2.6l0.2-2.3l0.3 0.7l0.2 0.2l0.3-2.2l0.2-0.1l0.3 0.2l0.2-0.8l0.3-0.3l0.2 0l0.3-1.4l0.2-1.1l0.3 0.7l0.3 2.1l0.2-1.6l0.3-1.2l0.2 1.6l0.3-1.8l0.2-0.6l0.3 2.5l0.2 0.4l0.3 0.3l0.2-2.4l0.2 2.2l0.3-0.2l0.2 1.4l0.3 0.4l0.2 0.7l0.3-0.8l0.2 0l0.3-2.5l0.2 0.1l0.2-0.8l0.3-1.8l0.2-2.1l0.3-0.3l0.2-1.7l0.3-1l0.2-1.2l0.3-1.4l0.2-0.5l0.3-0.8l0.2-2.1l0.2-1.6l0.3-0.3l0.2-0.9l0.3-0.6l0.3-1.1l0.2-1.7l0.3 0.3l0.2-0.8l0.3 1.1l0.3 0.5l0.2 0.4l0.3 1.6l0.2-0.7l0.3 1.7l0.3 0.3l0.2 2.3l0.3-1.8l0.2-0.7l0.3 0.8l0.2-0.1l0.3-1.6l0.2-0.2l0.3-1.1l0.2-2.6l0.3 0l0.2 0.1l0.3-0.8l0.2-1.3l0.2-1.4l0.3 0.7l0.2 0.9l0.3-2.5l0.2 0.5l0.3-2.3l0.2 0.6l0.3-2.4l0.2 0.6l0.3 2l0.2-0.8l0.3-0.1l0.2 1.7l0.3 0.8l0.2 1.2l0.3 0.6l0.2-2.6l0.3-0.4l0.2-2.8l0.3-1.6l0.2-0.6l0.3-1.1l0.2 0.9l0.3 0.4l0.2 0.8l0.3-1.4l0.2 0.2l0.3-0.6l0.2 1.5l0.3 0.1l0.2 2.4l0.3-0.7l0.2-2.5l0.2 0.8l0.3-1.3l0.2-0.5l0.3-1.7l0.2-0.1l0.3-0.7l0.2-1.3l0.3 2.8l0.2 1.7l0.3 1.6l0.2 0.8l0.3 0.1l0.2 4.4l0.3 2.8l0.2-1.1l0.3 1.5l0.2 0.3l0.2 0.2l0.3 2l0.2 0.4l0.3-2l0.2 0.4l0.2 1.4l0.3 1l0.2 0l0.3-1.9l0.2-0.6l0.3-3.1l0.2 1.2l0.3-1.1l0.2-1.5l0.2-1.4l0.3-0.3l0.2-1.5l0.3-0.9l0.2-0.6l0.3 2.2l0.2-0.8l0.3 0l0.2-0.3l0.2-1.3l0.3 0.5l0.2-0.8l0.3-1.8l0.2-1.5l0.3-0.7l0.2-0.8l0.3 1l0.2-3.7l0.2 1.2l0.3 0.6l0.2 0.1l0.3-3l0.2-2.3l0.3 0.2l0.2-0.9l0.3-1.5l0.2-2.6l0.3-1.3l0.2-2.2l0.2 1.1l0.3 0.1l0.3-1.7l0.3 0.4l0.2-1l0.3-1.7l0.2 2l0.3 0.1l0.2 1.5l0.3 0.3l0.2 0l0.3 1l0.2 2.3l0.2-0.7l0.3-0.7l0.2-1l0.3 0.3l0.2 1.7l0.3 0.7l0.2 0.1l0.3 0l0.2 0.9l0.3 0.5l0.2 0.7l0.2-1.5l0.3-0.3l0.2 1.5l0.3 1.1l0.2-0.4l0.3 0.3l0.2 1.7l0.3 0.1l0.2-0.2l0.2 1.3l0.3 0.2l0.2 1.5l0.3 0.9l0.2 0.2l0.3-0.1l0.2 2.2l0.3-0.4l0.2 0.2l0.3-0.5l0.2 0l0.2-0.5l0.3 0.9l0.2-0.4l0.3-1.5l0.2-1.2l0.3 1.3l0.2-0.1l0.3 1.6l0.2 0.1l0.2 0.9l0.3-2.1l0.2-0.1l0.3 1.6l0.2-1.5l0.3 1.2l0.2-1.1l0.3 0.1l0.2-1.6l0.2-1.8l0.3 0.3l0.2 1.1l0.3-3.2l0.2-0.6l0.3-1.9l0.2-0.1l0.3-0.6l0.2-1.9l0.3-2.1l0.3-0.1l0.2-0.5l0.3 2.2l0.2 0.8l0.3 2l0.2 0.8l0.3 2.2l0.2 1.2l0.3-1.2l0.2-1.4l0.3-0.6l0.2-1.6l0.3-0.8l0.2 0.3l0.2-2.9l0.3-2l0.2-1.8l0.3 0.4l0.2 1.1l0.3-3l0.2 1.2l0.3-3.6l0.2-0.9l0.3-0.9l0.2-0.7l0.2-1.9l0.3-1.9l0.2-0.4l0.3 0.6l0.2-1.3l0.3-0.5l0.2-0.6l0.3 0.3l0.2-2.8l0.2 0.8l0.3 0.2l0.2-2.8l0.3 0.5l0.2-2.9l0.3-0.8l0.2-0.2l0.3 0l0.2-2.1l0.3-0.2l0.2-1.2l0.2 2.3l0.3-0.6l0.2 0.9l0.3-0.2l0.2 1l0.3-2.5l0.2 1.2l0.3-0.7l0.2 0.2l0.3 2.3l0.2 2.1l0.3-0.1l0.2 0.7l0.3 3.4l0.2 0.3l0.3 1.5l0.2 3.3l0.3 2.9l0.2 2l0.3 2.4l0.2 3.7l0.3-0.3l0.3 5.2l0.3 6.3l0.2 5.8l0.3 5.4l0.3 1.7l0.2 1.8l0.3 1.5l0.2 3.6l0.3 2.8l0.2 2.9l0.3 0.3l0.2 1.7l0.3 0.8l0.2 3l0.3 1.9l0.3 1.5l0.2 1.1l0.3-1.5l0.2-2.7l0.3-3.6l0.2-2l0.3-2.2l0.3-1.9l0.2-0.9l0.3-1.5l0.2-1.3l0.3-1.5l0.2-1.6l0.3-2.3l0.2-1.5l0.3-0.8l0.2 1.4l0.3-1.7l0.2-2l0.3 0l0.2-0.6l0.3-1.5l0.2-0.9l0.3-3.3l0.3-2.7l0.2-1.8l0.3-1.6l0.2-1.6l0.3-0.1l0.2 0.6l0.3-0.7l0.2-0.3l0.3-1l0.2-1.6l0.2-0.1l0.3-1.2l0.2 0.8l0.3 0.8l0.2 0.2l0.3 1.6l0.3 1.6l0.2 0.7l0.3 0.3l0.2 3.9l0.3 3.5l0.3 3.5l0.2 1.9l0.3 4l0.3-2l0.2-3.9l0.3-5l0.2-6.4l0.3-4.6l0.2-5.3l0.3-4.2l0.3-4.1l0.2-3.8l0.3-5.6l0.2-1.9l0.3-2.9l0.2-3.2l0.3-3.1l0.3-4.3l0.2-3l0.3-3.6l0.3-1.6l0.2 0.1l0.3 1.5l0.2-0.1l0.3-2.1l0.2-2l0.3 9.3l0.3 5.5l0.3 6.6l0.3 8l0.2 15.7l0.3 14.4l0.3 10.6l0.3 12.1l0.2-8.5l0.3-6l0.3-9.1l0.3-8.5l0.2-1.5l0.3-4.3l0.2-1.3l0.3-5.6l0.2-3.2l0.3-1.2l0.2-4.5l0.3-1.9l0.2-1.7l0.3-2.1l0.2-2.7l0.3-2.6l0.3-2.3l0.2 3.2l0.3 2.8l0.2 5.6l0.3 1.7l0.2 3.8l0.3 2.9l0.3 3.8l0.2 5.2l0.3 1.7l0.2 2.8l0.3 5.3l0.2 4.2l0.3 4l0.2-2.3l0.3-1.6l0.2-2.8l0.3-1l0.2-2.8l0.3-3.8l0.2-2.8l0.3 0l0.2-1.9l0.3-2.3l0.2 0.2l0.3-0.8l0.2-0.2l0.2 0l0.3-3.5l0.2-0.6l0.3-2.1l0.2-1.1l0.3-0.6l0.2-1l0.3-1.6l0.2-1.1l0.2-1l0.3-4.2l0.2 0.9l0.3-0.3l0.2-1.2l0.3-1.8l0.2 0.2l0.3-2.5l0.2-1l0.3-2.5l0.2-3.2l0.2-0.2l0.3 1.2l0.2-1.5l0.3 2.6l0.2 0.8l0.3 0.3l0.2-0.9l0.3-0.6l0.2 0.8l0.2 1.1l0.3-0.8l0.3-0.3l0.2 0l0.3-0.4l0.2-0.2l0.3-0.9l0.2 0.8l0.3 3.9l0.3 3.3l0.2 3.8l0.3 2.7l0.2 1.1l0.3 2.7l0.2 3l0.3 3.2l0.2 0.7l0.3 1.6l0.2 1.4l0.3 2.8l0.2-1.5l0.3 0.3l0.3-2.2l0.2-2.4l0.3-0.3l0.2-1.2l0.3-2.8l0.2-0.9l0.3-1.5l0.2-2.3l0.3 0.5l0.2-1.4l0.3-0.4l0.3 4.3l0.2 2.6l0.3 4.4l0.2 2.8l0.3 3.9l0.2 2.9l0.3-2.7l0.3-3.2l0.2-1.2l0.3-1.5l0.3 1.7l0.2-5.4l0.3-4.3l0.2-5.3l0.3-3.1l0.3-4.2l0.2-4.7l0.3-2.4l0.2-4.8l0.3-2.2l0.2-1.6l0.3 0.2l0.3-0.6l0.2 1.2l0.3 3.2l0.2 2.9l0.3 5l0.3 1.2l0.2 0.9l0.3 1.2l0.2 0.4l0.3 0.4l0.2 1.5l0.2 1.2l0.3-0.1l0.2 0.7l0.3 1.7l0.2 1.6l0.3 3.6l0.3 0.5l0.2 1.2l0.3 3.6l0.2 1.6l0.3-0.9l0.2 0.7l0.3-1.2l0.2-2.4l0.2 0.2l0.3 0.8l0.2-0.4l0.3 1.1l0.2-1l0.3-1.3l0.2 0l0.3-2.7l0.2-4.4l0.3 0.6l0.2 0.3l0.2-1l0.3-2.3l0.2-0.1l0.3 1.1l0.2-0.6l0.3-1.7l0.3-0.4l0.2 0.5l0.3-1.8l0.2 3.2l0.3-0.2l0.2 4l0.3 0.2l0.2 2.3l0.3 1.4l0.2-1.1l0.3 2.3l0.2 0.3l0.3 0.9l0.2 1.7l0.3-0.7l0.2 1.5l0.3 2l0.2 2l0.2 1.8l0.3 1.1l0.2-2.3l0.3 2.7l0.2 0.6l0.3 0.1l0.3 2.9l0.2 2.8l0.2-0.8l0.3-0.9l0.2-1.6l0.3-0.4l0.2 0.8l0.3-0.4l0.2-0.4l0.3-1.1l0.2-0.9l0.3-0.6l0.2-1.2l0.3 2.2l0.2-1.8l0.3 1.8l0.3 0.2l0.2 0.5l0.3 3.1l0.2 2.4l0.3 2.4l0.2 1.3l0.3 1.3l0.2 0.7l0.3 1l0.2-0.3l0.3 2.8l0.3 0l0.2 2.7l0.3 1.7l0.2-2.1l0.3 0.2l0.2 0.7l0.3 1.6l0.2 0.1l0.3 2l0.2 0.6l0.3-4.1l0.2-1.6l0.3-4l0.2-2.1l0.3-1.2l0.3-4.1l0.2-0.8l0.3-1.8l0.2 1.5l0.2-0.1l0.3 0.3l0.2 1.5l0.3-1.4l0.2 0.9l0.3 1.6l0.2 1.5l0.3-0.4l0.2 2.6l0.2 0.4l0.3 2.7l0.2 0.8l0.3 2l0.2-1.4l0.3 1.9l0.2-2l0.3 1.7l0.2-0.5l0.3 1.5l0.2 0.5l0.2 2.3l0.3-0.2l0.2 0l0.3-2.7l0.2 0.4l0.3-1.1l0.2 0.1l0.3 0.1l0.2 0.5l0.2 0.5l0.3 0.2l0.2-0.6l0.3-1.3l0.2 0.7l0.3 1l0.2 1l0.3-1.3l0.2 1.9l0.2-0.5l0.3 2l0.2 0.5l0.3-0.8l0.2 3.4l0.3 1.2l0.3 3.3l0.2 2.4l0.3 1.8l0.2 3l0.3 0.2l0.2 1.2l0.3 1.8l0.2 2.5l0.3 1.2l0.2-1l0.3 2.6l0.2 1.5l0.3 1.3l0.2 0.2l0.3 1l0.2 2.2l0.3 2.8l0.3 0.5l0.2 1.8l0.3 1.2l0.2 2.6l0.3 0.2l0.2 2.5l0.3 2.8l0.2 1.1l0.3-0.2l0.2 0.7l0.3 3.1l0.2 2.9l0.3-0.1l0.2 0.2l0.3 2.1l0.2 0.3l0.2-0.5l0.3-1.8l0.2-0.8l0.3-2.3l0.2 0.5l0.3-2.6l0.2-0.5l0.3 0.6l0.2 0.4l0.2 1.8l0.3 0.4l0.2-0.5l0.3 0.8l0.2-2l0.3-1l0.2 1.6l0.3-0.9l0.2 2.7l0.3-0.4l0.2 0.5l0.2 1.6l0.3-0.8l0.2-0.2l0.3-1.6l0.2 1.3l0.3-1.2l0.2-0.8l0.3 1.6l0.2 1.2l0.2-0.4l0.3 0.4l0.2-0.4l0.3 1.3l0.2-0.3l0.3 1l0.2 2.9l0.3-1l0.2-0.9l0.3 1l0.2-0.7l0.2 0.1l0.3-1l0.2-1.6l0.3 0.9l0.2-0.6l0.3-0.2l0.2 0.4l0.3 1.4l0.2-0.4l0.2 0.3l0.3-2.2l0.2 0l0.3 0.3l0.2 0l0.3 0.3l0.2 1l0.3 1.5l0.2 0.5l0.2 0.4l0.3 0.5l0.2-0.1l0.3 1.7l0.2-0.7l0.3 1.2l0.2 0.8l0.3 1.3l0.2 1.1l0.3 0.7l0.2 2.2l0.2 2.2l0.3 1.3l0.2 2.9l0.3 0.3l0.2-1l0.3 1l0.2 1.9l0.3 1.1l0.2 0.1l0.2-0.6l0.3 1.2l0.2 1.2" fill="none" stroke="#bfbfbf" stroke-width="2.2" stroke-linejoin="miter" stroke-linecap="round"/>
<path d="M111.4 710l0.3-0.3l0.3-1l0.3 1.3l0.2-1.2l0.3-1.2l0.3-0.8l0.2-1.1l0.3-1l0.2 0.2l0.3-0.7l0.2 0.3l0.3-0.7l0.2-1.8l0.3-0.9l0.2-0.3l0.3-1l0.2 0.4l0.3-0.2l0.2 0.7l0.3-1.3l0.2-0.5l0.3 0.2l0.2 0l0.3-1.6l0.2 0.8l0.3-1.4l0.3 0.4l0.2-1.1l0.3-1l0.2-1.4l0.3 0l0.2 1.8l0.3-1.5l0.2 0.6l0.3 0.1l0.2-1.5l0.3 0.2l0.2 0.1l0.3-1.3l0.2-1l0.3 0.7l0.2-0.4l0.3 1l0.2-0.8l0.3-1.8l0.2-0.3l0.3-1l0.2 0.9l0.3 0.4l0.2-0.7l0.3-0.8l0.2 0.9l0.3-0.6l0.3 0.9l0.2-1.6l0.2-0.5l0.3-0.6l0.2-1l0.3 2.3l0.2 0.2l0.2-1.9l0.3 0l0.2-2.3l0.3 1l0.2 2.1l0.3 0.8l0.3 1l0.2 1.8l0.3 1.8l0.3 1l0.2-0.5l0.3 0.2l0.2 0.1l0.3 1l0.2 0.1l0.3 0.2l0.2-1.3l0.3 0.3l0.2 0.7l0.3 0.4l0.3 0.8l0.2 0.5l0.3-0.4l0.2 1.9l0.3 1.3l0.2-0.2l0.3 0.6l0.2-0.8l0.3-0.7l0.2 0.6l0.3 1.7l0.2-0.3l0.3-1.2l0.2 0.8l0.3-0.1l0.2 0l0.3 1l0.2-1.1l0.3-0.3l0.2 0.2l0.3 2.1l0.2 0.5l0.3-0.5l0.2-0.4l0.3 0.8l0.2 0.9l0.3-1.2l0.3 0.2l0.2 1.7l0.3-0.5l0.2-1.1l0.3-0.1l0.2-0.2l0.3 0.2l0.2 0.2l0.3-0.4l0.2 0.1l0.3 0.6l0.2-0.4l0.3 0.5l0.2-0.4l0.3 1.6l0.2 1.5l0.3-0.8l0.2 1.1l0.3 0.3l0.2 0.3l0.3 0.1l0.2 0.8l0.3 1.2l0.3-0.8l0.2 1.6l0.3 0.1l0.3-0.3l0.2 1l0.3 1.3l0.2-0.5l0.3-0.2l0.2-0.7l0.3-0.8l0.2 0.7l0.3-1.4l0.2 0.7l0.2-0.4l0.3-0.8l0.2-0.6l0.3-0.4l0.2-0.1l0.3-0.2l0.2-0.3l0.3-1.7l0.2-0.8l0.3 1l0.2-0.4l0.3-0.5l0.2-0.2l0.3-1l0.2 1.2l0.3-0.7l0.3-0.8l0.2-1.3l0.3 0.5l0.2 0.3l0.3 0.6l0.2-0.3l0.3-1.6l0.2-1.3l0.3 1.2l0.2-1.1l0.3-0.2l0.2-0.4l0.3 0.1l0.2-0.1l0.3-1.4l0.2-0.7l0.3-1.4l0.2 0.9l0.3-0.3l0.2-1.3l0.3 1.2l0.2-0.2l0.3-1l0.2-0.2l0.3-0.4l0.2 0.2l0.3 0.1l0.3-1.2l0.2-0.2l0.3-2.8l0.2-0.1l0.3 0.3l0.2 0.1l0.3-0.4l0.2-2l0.3-0.7l0.2 0.9l0.3 2.8l0.2 0.2l0.3-0.5l0.2-0.7l0.3 1.2l0.2 0.4l0.3 1.5l0.2 0.9l0.3-1.1l0.2 1.4l0.3 1.8l0.2 0.3l0.3 0.1l0.2 0.3l0.3-0.4l0.2 2.4l0.3 0.7l0.3-1.3l0.2 0.8l0.3-1.5l0.2-0.5l0.3-0.5l0.2 0l0.3 0.5l0.2 1.3l0.3-0.5l0.2-1l0.3-0.4l0.2-0.7l0.3 0l0.2-0.7l0.3 0.5l0.2 0.5l0.3 0.7l0.2-0.9l0.3 0.5l0.2 0.3l0.3-0.7l0.2-0.9l0.3 0.7l0.2 1.7l0.3 0.2l0.3 2.2l0.2 0.1l0.3-0.7l0.2 0.2l0.3-0.4l0.2-0.6l0.3-1.2l0.2-0.4l0.3 0.8l0.2-1l0.3-1.4l0.2-1.6l0.3-1.7l0.2 0.5l0.2-0.2l0.3 0.1l0.2-0.5l0.2 0.8l0.3 1.2l0.3-0.5l0.2-0.5l0.3 1.2l0.2 1.7l0.3 0.4l0.3 0.5l0.2-0.9l0.3 0.4l0.3 1.3l0.2 0.5l0.3 0.2l0.2 0.7l0.3 0.7l0.2-0.1l0.3-0.5l0.2-0.6l0.3 1l0.2 0l0.3 0l0.2 1l0.3-0.9l0.2-0.2l0.3 0.6l0.2-0.9l0.3-1.5l0.2 0.7l0.3 1.6l0.2-0.2l0.3 0.4l0.2-1l0.3 1.9l0.2-1l0.3 0.3l0.2 0.5l0.3 2l0.3-0.3l0.2-0.8l0.3-1l0.2 0.4l0.3-0.4l0.2 0.3l0.3 0.7l0.2 1.3l0.3-1.1l0.2 1.4l0.3-2.3l0.2 1.4l0.3-1.4l0.2-0.7l0.3-0.8l0.2-0.1l0.3-0.5l0.2-0.7l0.3-0.9l0.2-0.6l0.3-0.1l0.2-0.7l0.3-0.8l0.2-1.2l0.3 0.3l0.2 0.2l0.3-1l0.3 0.9l0.2-0.4l0.3-0.3l0.2-1.6l0.3 0.8l0.2 0.8l0.3 0.8l0.2-1.6l0.3-0.5l0.2 0.2l0.3-0.2l0.2-1l0.3-0.1l0.2 0.5l0.3-0.1l0.2-0.5l0.3 0.4l0.2-1.8l0.3 0.5l0.2-0.7l0.3-0.2l0.2 0.6l0.3 1.1l0.2-0.7l0.3-0.8l0.3 0.6l0.2-0.5l0.3-2.7l0.2-0.4l0.3-0.4l0.2-0.4l0.3-1l0.2 1l0.3 0l0.2 1l0.3-0.7l0.2 0l0.3-0.7l0.2 1.1l0.3 0.7l0.2 0.8l0.3 0l0.2-1.2l0.3 0.8l0.2-1.2l0.3-0.4l0.2 0.2l0.3 1.6l0.2-1.2l0.3-0.9l0.2 0.4l0.3 0.9l0.3-0.1l0.2 0l0.3-1.1l0.2-0.3l0.3 1l0.2-0.3l0.3-0.8l0.2-0.3l0.3 1.1l0.2 0.9l0.3-0.6l0.2-1.3l0.3 1.2l0.2-1.2l0.3-0.1l0.2 0.2l0.3-0.3l0.2-0.3l0.3 1.1l0.2-0.1l0.3-1.2l0.2 0.1l0.3 1.6l0.2-0.2l0.3-0.6l0.2 1.3l0.3 0.4l0.3 0.2l0.2 0.6l0.3-0.2l0.2 0.4l0.3 0.7l0.2-0.3l0.3 1.3l0.2-0.8l0.3 2l0.2-0.2l0.3 0.2l0.2-0.9l0.3 1l0.2-0.7l0.3 0.7l0.2 0.1l0.3-0.5l0.2 1.7l0.3-0.2l0.2-0.6l0.3 0l0.2 0.6l0.3 0.3l0.2 0.8l0.3-0.4l0.3 0.4l0.2-0.2l0.3-0.1l0.2 0.5l0.3-1.1l0.2-1.3l0.3 0.7l0.2-0.6l0.3 0.3l0.2 0l0.3-0.2l0.2-0.5l0.3 0.7l0.2-1.6l0.3 0.6l0.2-0.7l0.3-0.2l0.2-0.8l0.3 0.4l0.2-0.2l0.3-1.1l0.2-0.3l0.3-0.1l0.2-0.6l0.3 1.4l0.2-0.8l0.3-1.3l0.3 0.7l0.2 0l0.3-0.5l0.2 0l0.3-0.8l0.2 1.4l0.3 1.4l0.2-0.2l0.3-1.1l0.2-1.4l0.3-0.5l0.2 0.5l0.3-0.3l0.2 0.1l0.3-0.6l0.2 0.1l0.3-0.4l0.2-0.1l0.3-0.4l0.2-0.3l0.3-1.2l0.2-0.5l0.3-1.2l0.2-0.3l0.3 0l0.2 0.2l0.3-1.3l0.3-0.7l0.2-0.2l0.3-0.8l0.2 0.1l0.3 0l0.2 0l0.3 1.9l0.2-0.4l0.3 0.4l0.2-1.2l0.3 1.4l0.2 0.5l0.3 0.4l0.2-2.3l0.3 0.1l0.2-0.6l0.3 0.2l0.2-0.4l0.3-0.8l0.2-0.7l0.3 0.7l0.2 0.1l0.3-2.3l0.2-0.5l0.3 0.2l0.2-0.8l0.3-0.2l0.3-0.8l0.2 0.8l0.3 0.2l0.2-0.5l0.3 0.9l0.2 0l0.3 0.9l0.2-1.1l0.3-1.3l0.2 1l0.3-0.6l0.2-1.8l0.3-1.5l0.2 0.6l0.3 0l0.2-0.8l0.3-0.5l0.2 0l0.3-0.9l0.2 1.4l0.3-1.2l0.2 0.3l0.3 0.1l0.2-0.3l0.3-0.5l0.3 1l0.2-1.4l0.3 0.4l0.2 1.4l0.3-1l0.2-1.8l0.2-0.6l0.3-1.8l0.2-0.3l0.3-0.8l0.2-0.5l0.3-0.6l0.2 0.4l0.2-0.5l0.3-1.4l0.2 2l0.3-0.3l0.2 1.9l0.3-0.1l0.2-0.1l0.3 0.6l0.2 2l0.3 0.4l0.2-0.5l0.3-1.6l0.2 0.2l0.3-0.2l0.3-0.2l0.2-0.6l0.3-1l0.2 1.4l0.3-1.2l0.2 0.2l0.3-0.1l0.2-0.6l0.3-0.5l0.2-0.2l0.3-1l0.2-0.6l0.3 1.1l0.2 0.9l0.3 0.6l0.3-1.1l0.2 1.8l0.3 0.5l0.3 2.5l0.2 1.9l0.3 0.6l0.2 0.8l0.3-2.2l0.2 0.1l0.3-0.6l0.2 1.4l0.3-1.7l0.3 1.5l0.2-1.1l0.3-2.2l0.2 1.5l0.3-0.8l0.2-0.2l0.3 0.2l0.2-2l0.3-0.5l0.2 0.1l0.3 0.7l0.2-1l0.3-0.2l0.2-2.1l0.3 0.3l0.2-1.1l0.3-0.4l0.2-0.1l0.3 0.3l0.2-1.5l0.3-0.4l0.2-1l0.3-0.3l0.2-1.2l0.3 0.3l0.2-2l0.3-1.4l0.3 1.5l0.2-0.6l0.3 0.7l0.2 0.5l0.3-1.4l0.2 0.3l0.3 0.1l0.2 0.3l0.3 0.9l0.2 2.5l0.3 2.2l0.2 1l0.3 2.2l0.2 2.2l0.3 0.5l0.2 2.3l0.3-0.2l0.2-0.8l0.3-2.4l0.2-1.6l0.3-0.9l0.2-0.8l0.3-0.7l0.2-1.4l0.3-0.5l0.3-1.8l0.2 0.5l0.3-1.6l0.2-1.9l0.3-1.1l0.2-1.9l0.3-0.7l0.2 0.4l0.3 0.7l0.2 0.9l0.3-1l0.2-0.5l0.3 0.8l0.2 0.6l0.3 0.2l0.2 0.1l0.3-0.7l0.2 0.2l0.3-0.5l0.2 0.6l0.3 2l0.2 1.5l0.3-0.4l0.2 0.7l0.3 1l0.2-1l0.3-0.7l0.3 0.4l0.2-0.7l0.3 1.9l0.2 0.6l0.3 0.5l0.2 0.9l0.3 1.1l0.2 0.5l0.3-0.4l0.2 1.5l0.3 0.3l0.2 1l0.3-1l0.2-0.3l0.3-1.6l0.2 0.2l0.3-0.4l0.2 0.5l0.3-1.3l0.2-1l0.3 0.4l0.2-2l0.3 0.6l0.2-0.4l0.3-0.8l0.2-0.2l0.3-0.6l0.3-1.1l0.2 1.2l0.3-0.4l0.2 0.6l0.3 0.2l0.2-0.2l0.3 0.1l0.2 0.9l0.3 0.1l0.2 1.5l0.3 0.7l0.2-0.4l0.3 1l0.2-1.8l0.3 2.2l0.2-0.8l0.3-0.3l0.2 1.3l0.3-1.4l0.2-0.2l0.3 0.7l0.2-1.5l0.3 0.6l0.2 1l0.3-0.7l0.2 1.1l0.3-1.2l0.3 1l0.2-0.3l0.3-0.4l0.2-0.6l0.3-1l0.2 0.9l0.3-0.3l0.2 1.1l0.3 1.5l0.2 1l0.3 1.1l0.2 0l0.3-0.1l0.2 1.4l0.3-0.4l0.2 0.6l0.3-2.1l0.2 0.1l0.3 0.2l0.2-0.7l0.3-1.4l0.2 0.2l0.3 0.8l0.2-1.1l0.3-0.9l0.3-0.7l0.2-0.6l0.3-0.9l0.2 2.8l0.3-1.1l0.2 0.5l0.3 0.3l0.2-1.3l0.3 0.1l0.2 1l0.3 0.1l0.2-0.3l0.3-1.4l0.2-0.7l0.3 0.1l0.2 1.2l0.3-1l0.2 0.5l0.3 0.6l0.2 0.1l0.3-0.6l0.2-0.8l0.3 0.6l0.2-0.5l0.3 0.3l0.2-0.2l0.3-0.1l0.3 0.2l0.2-0.3l0.3 1.5l0.2-0.8l0.3 1l0.2 0l0.3 0.9l0.2-0.9l0.3 0.9l0.2 0.8l0.3 1.5l0.2 0.8l0.3 0.1l0.2-0.1l0.3 0l0.2 0.9l0.3 0.8l0.2 0.1l0.3 0.6l0.2-1.6l0.3 1l0.2 1.5l0.3-0.5l0.2-0.7l0.3 1.2l0.2-1.7l0.3 1.4l0.3-0.9l0.2 0.9l0.3-0.7l0.2 0.9l0.3-0.8l0.2-1.2l0.3-0.5l0.2 0.5l0.3 0.2l0.2-1.2l0.3-1.2l0.2 1.6l0.3 0.1l0.2-0.2l0.3 2l0.2-1.2l0.3 1.1l0.2 1.8l0.3 0.4l0.2 0.4l0.3 1l0.2-0.6l0.3 0.7l0.2 0.7l0.3 1.4l0.3 0.6l0.2 0.4l0.3 1.2l0.2 1l0.3-1.1l0.2 2.4l0.3-0.1l0.2-0.4l0.3 1.6l0.2-2l0.3-0.3l0.2 1l0.3-0.1l0.2-0.4l0.3 0.5l0.2 1.7l0.3-0.1l0.2 0.6l0.3-0.4l0.2-0.9l0.3-0.7l0.2-1.2l0.3-0.2l0.2 0.1l0.3-0.9l0.2-0.6l0.3-0.2l0.3-0.6l0.2-0.4l0.3-2l0.2 0.3l0.3-1.6l0.2 0.6l0.3-0.5l0.2 0.1l0.3-0.5l0.2 1.5l0.3-0.1l0.2 0.1l0.3-1l0.2 2.2l0.3-0.3l0.2-0.3l0.3 1.4l0.3 0.4l0.2-1.9l0.3 0.8l0.3 1.4l0.2-0.5l0.3-0.7l0.2 0.7l0.3 0.3l0.2-1.1l0.3-0.5l0.2-0.2l0.3-0.1l0.2-0.7l0.3 0.1l0.3 0.9l0.2-1.1l0.3 1.2l0.2 0.3l0.3 0.3l0.2 0.1l0.3-1.1l0.2-1.3l0.3 1.3l0.2-0.2l0.3 0.2l0.2 0.5l0.3-1.5l0.3 0.1l0.2 0l0.3-0.4l0.2-0.1l0.3 0.6l0.2 0.7l0.3 1.1l0.2 0.5l0.3 0.7l0.2-1l0.3 0.1l0.3-0.1l0.2-0.1l0.3-0.2l0.2 1.3l0.3 1l0.2-0.5l0.3-2.2l0.2 0l0.3 0.3l0.2 2.1l0.3 0.8l0.3-0.5l0.2 0.6l0.3 0l0.2-0.1l0.3-0.1l0.2-0.5l0.3-0.8l0.2 0l0.2-0.8l0.3 0.4l0.2-0.3l0.3-0.8l0.2 0.3l0.2-0.8l0.3-0.3l0.2-0.8l0.3 0.6l0.2 0.1l0.3-0.3l0.3-0.2l0.2 0.3l0.3-0.6l0.2-1.3l0.3 1.7l0.3-0.2l0.2 0.3l0.3-1.1l0.2-1.2l0.3 0l0.2 1.3l0.3 0.1l0.3 0.4l0.2 0l0.3-0.6l0.2 2l0.3-0.6l0.2-0.3l0.3-0.2l0.2 1.1l0.3 1.3l0.2 0.1l0.3 0.3l0.2-0.3l0.3 1.1l0.3-0.1l0.2 0.1l0.3-0.9l0.2 1.2l0.3 0.4l0.2-0.6l0.3-0.4l0.2 0.7l0.3-0.8l0.2 0.6l0.3 0.1l0.2 0.1l0.3 1.8l0.2-0.3l0.3-0.5l0.2 2.3l0.3 0l0.2 1.4l0.3 0.3l0.2-0.8l0.3-0.8l0.2 0.5l0.3 0.8l0.2-0.3l0.3 0.1l0.2-0.2l0.3 0.4l0.2 0.5l0.3 0l0.2-1.3l0.3 0.3l0.3 0.4l0.2 0.2l0.3-0.8l0.2 0.5l0.3-0.4l0.2-0.1l0.3 1.3l0.2-0.2l0.3 1.4l0.2 0.8l0.3-1.7l0.3 0.7l0.2-0.9l0.3 1l0.2 0.5l0.3 0.2l0.2-0.2l0.2-2.2l0.3-0.3l0.2-1.6l0.3 0.3l0.2 0.2l0.3-0.8l0.2 0.4l0.3-1.1l0.2-0.5l0.3-0.8l0.2-1l0.3 0.8l0.2 0.3l0.3-0.7l0.3-0.3l0.2-0.7l0.3 1.1l0.2 0.5l0.3-0.7l0.2-0.1l0.3-0.1l0.2-0.4l0.3 0.7l0.2 0.8l0.3-1.8l0.3 1.2l0.2-0.6l0.3 0l0.2-0.8l0.3 0.3l0.2 0.4l0.3 0.1l0.2 1.9l0.3-1.2l0.2-0.7l0.3-0.6l0.3 0.2l0.2 0.1l0.3 0l0.2-0.7l0.3-0.3l0.2-2.1l0.3 0.5l0.2-0.7l0.3 0.5l0.2-0.6l0.3 0.3l0.2-0.6l0.3 0.2l0.2-2l0.3 0.9l0.2-1.4l0.2 1.3l0.3-1.7l0.2 0.1l0.3-0.9l0.3 0.3l0.2 0.7l0.3-1.1l0.2 0.1l0.3 0.4l0.2-1.3l0.3 0.5l0.2-0.8l0.3 0.2l0.2-1.2l0.3 2.3l0.2-1.4l0.3-2.4l0.2 0.2l0.3-0.6l0.2-1.5l0.3-0.1l0.2-1l0.3 0.3l0.2-0.9l0.2-0.4l0.3 0.6l0.2 0.4l0.3-0.1l0.2 0.1l0.3-0.2l0.2 0.1l0.3 0.6l0.2 0.1l0.2 0.2l0.3 1.1l0.2-1.7l0.3 1.2l0.2-1.3l0.3 0.3l0.2 0.2l0.3 1.4l0.2 1.5l0.3-1.3l0.2-1.9l0.2 0.8l0.3-0.5l0.2-1.5l0.3 1.6l0.2-0.6l0.3-0.8l0.2-0.6l0.3-0.6l0.2 0.3l0.3-0.3l0.2 0.5l0.3-1.7l0.2 0l0.3 0.8l0.2-1.3l0.3 0.6l0.3-0.9l0.2 0.8l0.3 0.6l0.2-0.3l0.3 0.3l0.2-0.1l0.3 0.5l0.2 1.2l0.3 0.8l0.2 0.2l0.3 1.2l0.2-0.9l0.3 1.2l0.2 0.2l0.2-0.5l0.3 0.4l0.2-0.9l0.3 0.7l0.2-0.7l0.2-1.5l0.3-1.4l0.2 1.9l0.3-1.6l0.2 0.1l0.3 0.7l0.2-0.6l0.3-0.9l0.2-0.1l0.2 0.2l0.3-0.1l0.2 0.1l0.3-1.2l0.2 0.8l0.3-0.3l0.2 0.1l0.3 0.1l0.3-0.4l0.2-1.6l0.3-0.6l0.2-0.5l0.3-0.6l0.2-0.1l0.3-1l0.2 0.6l0.3-0.3l0.2 0.3l0.3-1.3l0.2 0.6l0.3-1.4l0.2-1.2l0.3-0.7l0.2 0.3l0.2-0.5l0.3-1.2l0.2-1.1l0.3-1.3l0.2-1.7l0.3-0.5l0.2-0.6l0.3 0.7l0.2-1.4l0.2 0.1l0.3-0.5l0.3-0.6l0.2 0.3l0.3-1.9l0.2-0.9l0.3 2.2l0.3 0l0.2 0.1l0.3-0.5l0.3 0l0.2-0.3l0.3 0.4l0.2 0.7l0.2 0.6l0.3 0.8l0.2-0.5l0.3 0.4l0.2 1.9l0.3-0.1l0.2 0.6l0.3 0.3l0.2 0l0.2 1.8l0.3 0.3l0.2-1.5l0.3 1.5l0.2-0.7l0.2-0.6l0.3 0.6l0.2 1.7l0.3-0.8l0.2 1.4l0.2-0.4l0.3 1.3l0.2 0.4l0.3-0.8l0.2-1.6l0.3 0.9l0.2-0.9l0.3 1.6l0.2-0.3l0.3 0.9l0.2-0.9l0.3-1l0.2 0.5l0.3-1l0.2 0.2l0.3-0.2l0.3-0.7l0.2-0.9l0.3 0.8l0.2 1.1l0.3-0.9l0.2-0.9l0.3-0.2l0.2-0.8l0.2-1l0.3 1.6l0.2 0.1l0.3-0.3l0.2 1.3l0.3-0.7l0.2-1l0.3-0.2l0.2-1.6l0.3-0.5l0.3-0.5l0.2-0.4l0.3 0.5l0.2 1.4l0.3 0.6l0.2 0.5l0.3 0.7l0.2-0.4l0.3-0.1l0.2-0.9l0.3 0.2l0.2-2.1l0.3-0.3l0.2-1.3l0.2-1l0.3-1.1l0.2-1.8l0.3 1.1l0.2-0.7l0.3-0.3l0.2-0.4l0.3-2.4l0.3 1.5l0.2 0.8l0.3-1l0.2-0.5l0.3-0.1l0.2-0.3l0.3-0.2l0.2-0.4l0.3-1.1l0.2-0.2l0.3-1.6l0.2-0.3l0.3 0.5l0.2 0.3l0.3-0.7l0.2-0.4l0.2-1.3l0.3 0l0.2-0.5l0.3-0.8l0.2 1.1l0.3-0.3l0.2 0l0.3-1.1l0.2 0.2l0.3 0.3l0.2 0.4l0.2 0.6l0.3 0.6l0.2 0.8l0.3 0.9l0.2 0.7l0.3-0.9l0.2 0.5l0.3 1.3l0.2 0.7l0.3 1.1l0.2 1.6l0.3 1.6l0.2 2l0.3 0.3l0.2 1.1l0.3 2.4l0.2 1.5l0.3 2l0.3 2l0.2 2.7l0.3 2.2l0.2 3.1l0.3 1.5l0.2 1.4l0.3 1.6l0.2 1.6l0.3 1.1l0.2 1.2l0.3 3.3l0.2-1.2l0.3-1l0.2-1.1l0.3-0.4l0.3-1l0.2-0.4l0.3-1.3l0.2-0.9l0.2 1.6l0.3-1l0.2-0.7l0.3-0.1l0.2-1.1l0.3-1l0.2-1.5l0.3 0.3l0.2-1.3l0.3-0.5l0.2-0.6l0.2 0.7l0.3-0.6l0.2-0.5l0.3 0.6l0.2 0.2l0.3-1.2l0.2-1.1l0.3-1.4l0.2-0.9l0.2-0.1l0.3-0.7l0.2-0.1l0.3-1l0.2-2l0.3-0.9l0.2-1.8l0.3 0.7l0.2-0.8l0.3 0.3l0.2-0.7l0.2-0.1l0.3-0.8l0.2-0.5l0.3 1.8l0.2 0.9l0.3 1.2l0.3 1.1l0.2 1.2l0.3 1.2l0.2-1.3l0.3-0.4l0.2 0l0.3-0.8l0.2-1.2l0.3-1.4l0.2 1.1l0.3-1.2l0.2-3.1l0.3-2.6l0.2-2.4l0.3-0.3l0.2-2.8l0.3-1.1l0.2-2.2l0.2-1.2l0.3-2.2l0.2-1.4l0.3-1.4l0.2-0.9l0.3-1l0.3-1.9l0.2-2l0.3 0.3l0.2-2.4l0.3 0.9l0.2-1.3l0.3-1l0.2 0.4l0.3 4.3l0.3 4.8l0.3 5.5l0.3 5.6l0.2 3.5l0.3 5.5l0.3 5.1l0.3 4.6l0.2-3.3l0.3-3.5l0.3-4.9l0.3-4.6l0.2-2.8l0.3-1.9l0.2-1.8l0.3-1.1l0.2-1.5l0.3-2.1l0.2-1.6l0.3-1.7l0.2-0.8l0.3-0.7l0.2-0.7l0.3-1l0.2-0.8l0.3-1.1l0.2 2.6l0.3 4l0.3 2.7l0.2 2.9l0.3 4.1l0.3 1.6l0.2 1.9l0.3 2.7l0.2 0.6l0.3 0.8l0.2 3.5l0.3 0.8l0.2-1.7l0.3 0.6l0.2-1.4l0.3-1.7l0.2-2.8l0.3-0.6l0.2-1.3l0.3 0.4l0.2-1.8l0.3 0.3l0.2 0.9l0.3-0.7l0.2-1.2l0.2-2.2l0.3 0l0.2-0.3l0.3-0.6l0.2-0.9l0.3 1.2l0.2 0.5l0.3-1.7l0.2-0.9l0.2-0.8l0.3-0.9l0.2 0.4l0.3 0.1l0.2 0.2l0.3-0.8l0.2-0.5l0.3 0.3l0.2-0.7l0.3-0.7l0.2-2.2l0.2-0.2l0.3 0.4l0.2 0.7l0.3 1.3l0.2-0.3l0.3 1.4l0.2-0.7l0.3 1.5l0.2-0.9l0.2 0.4l0.3-1.6l0.3-0.4l0.2-0.5l0.3 1.2l0.2-0.1l0.3-1.6l0.2 2.6l0.3 1.4l0.3 1l0.2 1.9l0.3 2.1l0.2 1.5l0.3 1.2l0.2 1.4l0.3 1.5l0.2-0.5l0.3 1.6l0.2-0.2l0.3 0.7l0.2-1.3l0.3-0.3l0.3 0.9l0.2-0.4l0.3 0.5l0.2-1.7l0.3 0.3l0.2-2.4l0.3 0.8l0.2 0.6l0.3 0l0.2-1l0.3-0.7l0.3 1.8l0.2 3.3l0.3 1.8l0.2 0.9l0.3 0l0.2 2.8l0.3-1.6l0.2 0l0.3-2.3l0.3-1.4l0.2-0.1l0.3-0.5l0.2-0.2l0.3-0.4l0.2-0.7l0.2 0.2l0.3-0.7l0.2-0.9l0.3 0l0.2 0.9l0.3-0.4l0.2-0.2l0.3 0.7l0.2 0.3l0.2-0.8l0.3 0.2l0.2 0.9l0.3 1.6l0.2-0.1l0.3-0.7l0.2 0.5l0.3 0.4l0.2-0.6l0.3 1l0.2 2.4l0.2-1l0.3 0.6l0.2 0.8l0.3-0.2l0.2-1.2l0.3 0.4l0.2-0.6l0.3-0.6l0.2 0.3l0.2-0.3l0.3 0.4l0.2 0.3l0.3-1.6l0.2 0.2l0.3-0.7l0.2-0.4l0.3 0.6l0.2-1.1l0.2-1l0.3-1.3l0.2 1.4l0.3-0.3l0.2-0.4l0.3-1.1l0.2 0.9l0.2-2.3l0.3 0.8l0.2 1l0.3 0.1l0.2-0.8l0.3-0.6l0.2-0.9l0.2-0.7l0.3-0.4l0.2 0.1l0.3 0.4l0.2-0.1l0.3 0.6l0.2 1l0.2 1.2l0.3-0.1l0.2 0.5l0.3-0.2l0.2 0.6l0.3-0.9l0.3-0.9l0.2-0.7l0.3 0.1l0.2 0.4l0.3 1.5l0.3 0l0.2-0.2l0.3-1.3l0.2-0.1l0.3-0.1l0.3 2.5l0.2 0.2l0.3 0l0.2-2l0.3-0.3l0.3-0.2l0.2 0.2l0.3-1.1l0.2 0.8l0.3 0l0.2-1.3l0.3 0.5l0.2 1.4l0.3 0.5l0.2 0.3l0.3-1.5l0.2 1l0.2 0.1l0.3 0l0.2-1l0.3-0.5l0.2 1.7l0.2 0.6l0.3 0.7l0.2 0.8l0.3-1.1l0.2-0.5l0.2-0.9l0.3 1.6l0.2 0.1l0.3-0.1l0.2-0.3l0.2 0.9l0.3 2.4l0.2-0.6l0.3-0.9l0.2 1.7l0.3 0.5l0.2 2l0.3 0.3l0.2 0.7l0.3-2.1l0.2-0.3l0.3-0.4l0.2 0l0.3 0.3l0.2-0.4l0.3-0.6l0.2 1.6l0.3 0.6l0.2 1.4l0.2-0.8l0.3-0.4l0.2-0.7l0.3 0.4l0.2 1.1l0.3 1.9l0.2-1.2l0.2-1l0.3 0.4l0.2 0.1l0.3 0.5l0.2-0.4l0.3-0.2l0.2-0.1l0.2 0.4l0.3-1.5l0.2 1l0.3-1.2l0.2 1.2l0.3-0.8l0.3 0.4l0.2-0.7l0.3 0.3l0.2 0.2l0.3-1.5l0.3 0.9l0.2-0.2l0.3-1l0.2 0.4l0.3-1.6l0.2-0.3l0.3 1.5l0.2-0.1l0.2 0.8l0.3-0.1l0.2 0.4l0.3 0.2l0.2-0.1l0.3-0.3l0.2-0.7l0.3 0.5l0.2 1.4l0.3-1l0.2 0.2l0.2-0.2l0.3 0l0.2 1.2l0.3-0.7l0.2 2.2l0.3-0.3l0.2-0.9l0.3-0.2l0.2 1.4l0.2 2.3l0.3 0.5l0.2 0.1l0.3 2.6l0.2-1l0.3 0.8l0.2 1.2l0.3 0.9l0.2 0.7l0.3-0.3l0.2 2l0.2 0.3l0.3 0.9l0.2-0.4l0.3-0.5l0.2 2.5l0.3 0.4l0.2 0.1l0.3 0.1l0.2 0.6l0.2-0.2l0.3-0.4l0.2-0.3l0.3-0.5l0.2-1.4l0.3 0.2l0.2 0.1l0.3-1.2l0.2-0.6l0.2 0.9l0.3-0.3l0.2 1.2l0.3 0.5l0.2 1.4l0.3 2.3l0.2-0.4l0.3-0.5l0.2 1l0.3-0.5l0.2-0.9l0.2-0.6l0.3-0.4l0.2 0.1l0.3-0.8l0.2-0.3l0.3 0l0.2 0.2l0.3-0.3l0.2 0.2l0.2 0.5l0.3-1.3l0.2 0.5l0.3-0.1l0.2-1.6l0.3-0.6l0.2 0.6l0.3-2l0.2-0.3l0.3 1.7l0.2 0.1l0.2 0.7l0.3 0.4l0.2-1.8l0.3-1l0.2 1.6l0.3-1.8l0.2-0.4l0.3 0.8l0.2-0.6l0.2 0.2l0.3 0.6l0.2 0.3l0.3-0.4l0.2 0.5l0.3 0.6l0.2 0.5l0.3 0.5l0.2-0.2l0.2-0.3l0.3 1.1l0.2-0.2l0.3 1.6l0.2-1l0.3 0.9l0.2 1.8l0.3 0l0.2 0.2l0.3 2.2l0.2 0.4l0.2 0.6l0.3 0.1l0.2 1.3l0.3 1.2l0.2-0.6l0.3-0.2l0.3-0.8l0.2 1.7l0.3 1.6l0.2 1.2l0.3-0.9l0.3 0.1l0.2-0.9l0.3-1" fill="none" stroke="#640909" stroke-width="1.5" stroke-linejoin="miter" stroke-linecap="round"/>
<text x="286.7" y="465.6" fill="#000" text-anchor="start" font-weight="bold" textLength="107.4" lengthAdjust="spacing" xml:space="preserve" style="white-space:pre"><tspan font-family='"Liberation Sans", "Noto Serif CJK SC", serif' font-size="9.6">大小盘相对表现和估值</tspan></text>
<line x1="189.6" y1="481.5" x2="202.5" y2="481.5" stroke="#640909" stroke-width="1.5"/>
<text x="205.4" y="484.9" fill="#000" text-anchor="start" textLength="102.6" lengthAdjust="spacing" xml:space="preserve" style="white-space:pre"><tspan font-family='"Liberation Sans", "Noto Serif CJK SC", serif' font-size="10.3">中证</tspan><tspan font-family='"Liberation Sans", sans-serif' font-size="10.3">500/</tspan><tspan font-family='"Liberation Sans", "Noto Serif CJK SC", serif' font-size="10.3">中证</tspan><tspan font-family='"Liberation Sans", sans-serif' font-size="10.3">100  1.8</tspan></text>
<line x1="339.7" y1="481.5" x2="353.8" y2="481.5" stroke="#bfbfbf" stroke-width="1.8"/>
<text x="355.6" y="484.9" fill="#000" text-anchor="start" textLength="167.8" lengthAdjust="spacing" xml:space="preserve" style="white-space:pre"><tspan font-family='"Liberation Sans", "Noto Serif CJK SC", serif' font-size="10.3">中证</tspan><tspan font-family='"Liberation Sans", sans-serif' font-size="10.3">500</tspan><tspan font-family='"Liberation Sans", "Noto Serif CJK SC", serif' font-size="10.3">市盈率</tspan><tspan font-family='"Liberation Sans", sans-serif' font-size="10.3">/</tspan><tspan font-family='"Liberation Sans", "Noto Serif CJK SC", serif' font-size="10.3">中证</tspan><tspan font-family='"Liberation Sans", sans-serif' font-size="10.3">100</tspan><tspan font-family='"Liberation Sans", "Noto Serif CJK SC", serif' font-size="10.3">市盈率  </tspan><tspan font-family='"Liberation Sans", sans-serif' font-size="10.3">2.2</tspan></text>
<line x1="625.5" y1="718.5" x2="1057.7" y2="718.5" stroke="#efefef" stroke-width="1"/>
<line x1="625.5" y1="686.5" x2="1057.7" y2="686.5" stroke="#efefef" stroke-width="1"/>
<line x1="625.5" y1="654.5" x2="1057.7" y2="654.5" stroke="#efefef" stroke-width="1"/>
<line x1="625.5" y1="622.5" x2="1057.7" y2="622.5" stroke="#efefef" stroke-width="1"/>
<line x1="625.5" y1="590.5" x2="1057.7" y2="590.5" stroke="#efefef" stroke-width="1"/>
<line x1="625.5" y1="557.5" x2="1057.7" y2="557.5" stroke="#efefef" stroke-width="1"/>
<line x1="625.5" y1="525.5" x2="1057.7" y2="525.5" stroke="#efefef" stroke-width="1"/>
<line x1="625.5" y1="493.5" x2="1057.7" y2="493.5" stroke="#efefef" stroke-width="1"/>
<line x1="625.5" y1="461.5" x2="1057.7" y2="461.5" stroke="#efefef" stroke-width="1"/>
<line x1="625.5" y1="461.0" x2="625.5" y2="751.5" stroke="#b9b9b9" stroke-width="1"/>
<line x1="621.8" y1="751.5" x2="1057.7" y2="751.5" stroke="#b0b0b0" stroke-width="1"/>
<line x1="621.8" y1="751.5" x2="625.5" y2="751.5" stroke="#b9b9b9" stroke-width="1"/>
<line x1="621.8" y1="718.5" x2="625.5" y2="718.5" stroke="#b9b9b9" stroke-width="1"/>
<line x1="621.8" y1="686.5" x2="625.5" y2="686.5" stroke="#b9b9b9" stroke-width="1"/>
<line x1="621.8" y1="654.5" x2="625.5" y2="654.5" stroke="#b9b9b9" stroke-width="1"/>
<line x1="621.8" y1="622.5" x2="625.5" y2="622.5" stroke="#b9b9b9" stroke-width="1"/>
<line x1="621.8" y1="590.5" x2="625.5" y2="590.5" stroke="#b9b9b9" stroke-width="1"/>
<line x1="621.8" y1="557.5" x2="625.5" y2="557.5" stroke="#b9b9b9" stroke-width="1"/>
<line x1="621.8" y1="525.5" x2="625.5" y2="525.5" stroke="#b9b9b9" stroke-width="1"/>
<line x1="621.8" y1="493.5" x2="625.5" y2="493.5" stroke="#b9b9b9" stroke-width="1"/>
<line x1="621.8" y1="461.5" x2="625.5" y2="461.5" stroke="#b9b9b9" stroke-width="1"/>
<line x1="625.5" y1="751.5" x2="625.5" y2="755.2" stroke="#b0b0b0" stroke-width="1"/>
<line x1="664.5" y1="751.5" x2="664.5" y2="755.2" stroke="#b0b0b0" stroke-width="1"/>
<line x1="704.5" y1="751.5" x2="704.5" y2="755.2" stroke="#b0b0b0" stroke-width="1"/>
<line x1="744.5" y1="751.5" x2="744.5" y2="755.2" stroke="#b0b0b0" stroke-width="1"/>
<line x1="783.5" y1="751.5" x2="783.5" y2="755.2" stroke="#b0b0b0" stroke-width="1"/>
<line x1="823.5" y1="751.5" x2="823.5" y2="755.2" stroke="#b0b0b0" stroke-width="1"/>
<line x1="862.5" y1="751.5" x2="862.5" y2="755.2" stroke="#b0b0b0" stroke-width="1"/>
<line x1="902.5" y1="751.5" x2="902.5" y2="755.2" stroke="#b0b0b0" stroke-width="1"/>
<line x1="942.5" y1="751.5" x2="942.5" y2="755.2" stroke="#b0b0b0" stroke-width="1"/>
<line x1="981.5" y1="751.5" x2="981.5" y2="755.2" stroke="#b0b0b0" stroke-width="1"/>
<line x1="1021.5" y1="751.5" x2="1021.5" y2="755.2" stroke="#b0b0b0" stroke-width="1"/>
<line x1="1057.5" y1="461.0" x2="1057.5" y2="751.5" stroke="#b9b9b9" stroke-width="1"/>
<line x1="1057.5" y1="751.5" x2="1061.2" y2="751.5" stroke="#b9b9b9" stroke-width="1"/>
<line x1="1057.5" y1="702.5" x2="1061.2" y2="702.5" stroke="#b9b9b9" stroke-width="1"/>
<line x1="1057.5" y1="654.5" x2="1061.2" y2="654.5" stroke="#b9b9b9" stroke-width="1"/>
<line x1="1057.5" y1="606.5" x2="1061.2" y2="606.5" stroke="#b9b9b9" stroke-width="1"/>
<line x1="1057.5" y1="557.5" x2="1061.2" y2="557.5" stroke="#b9b9b9" stroke-width="1"/>
<line x1="1057.5" y1="509.5" x2="1061.2" y2="509.5" stroke="#b9b9b9" stroke-width="1"/>
<line x1="1057.5" y1="461.5" x2="1061.2" y2="461.5" stroke="#b9b9b9" stroke-width="1"/>
<text x="611.2" y="754.9" font-size="10.5" font-family='"Liberation Sans", "Noto Sans CJK SC", sans-serif' fill="#000" text-anchor="end" xml:space="preserve" style="white-space:pre">0.8</text>
<text x="611.2" y="722.7" font-size="10.5" font-family='"Liberation Sans", "Noto Sans CJK SC", sans-serif' fill="#000" text-anchor="end" xml:space="preserve" style="white-space:pre">1.0</text>
<text x="611.2" y="690.5" font-size="10.5" font-family='"Liberation Sans", "Noto Sans CJK SC", sans-serif' fill="#000" text-anchor="end" xml:space="preserve" style="white-space:pre">1.2</text>
<text x="611.2" y="658.3" font-size="10.5" font-family='"Liberation Sans", "Noto Sans CJK SC", sans-serif' fill="#000" text-anchor="end" xml:space="preserve" style="white-space:pre">1.4</text>
<text x="611.2" y="626.1" font-size="10.5" font-family='"Liberation Sans", "Noto Sans CJK SC", sans-serif' fill="#000" text-anchor="end" xml:space="preserve" style="white-space:pre">1.6</text>
<text x="611.2" y="593.9" font-size="10.5" font-family='"Liberation Sans", "Noto Sans CJK SC", sans-serif' fill="#000" text-anchor="end" xml:space="preserve" style="white-space:pre">1.8</text>
<text x="611.2" y="561.7" font-size="10.5" font-family='"Liberation Sans", "Noto Sans CJK SC", sans-serif' fill="#000" text-anchor="end" xml:space="preserve" style="white-space:pre">2.0</text>
<text x="611.2" y="529.5" font-size="10.5" font-family='"Liberation Sans", "Noto Sans CJK SC", sans-serif' fill="#000" text-anchor="end" xml:space="preserve" style="white-space:pre">2.2</text>
<text x="611.2" y="497.3" font-size="10.5" font-family='"Liberation Sans", "Noto Sans CJK SC", sans-serif' fill="#000" text-anchor="end" xml:space="preserve" style="white-space:pre">2.4</text>
<text x="611.2" y="465.1" font-size="10.5" font-family='"Liberation Sans", "Noto Sans CJK SC", sans-serif' fill="#000" text-anchor="end" xml:space="preserve" style="white-space:pre">2.6</text>
<text x="1068.0" y="754.9" font-size="10.5" font-family='"Liberation Sans", "Noto Sans CJK SC", sans-serif' fill="#000" text-anchor="start" xml:space="preserve" style="white-space:pre">0.80</text>
<text x="1068.0" y="706.6" font-size="10.5" font-family='"Liberation Sans", "Noto Sans CJK SC", sans-serif' fill="#000" text-anchor="start" xml:space="preserve" style="white-space:pre">0.85</text>
<text x="1068.0" y="658.3" font-size="10.5" font-family='"Liberation Sans", "Noto Sans CJK SC", sans-serif' fill="#000" text-anchor="start" xml:space="preserve" style="white-space:pre">0.90</text>
<text x="1068.0" y="610.0" font-size="10.5" font-family='"Liberation Sans", "Noto Sans CJK SC", sans-serif' fill="#000" text-anchor="start" xml:space="preserve" style="white-space:pre">0.95</text>
<text x="1068.0" y="561.7" font-size="10.5" font-family='"Liberation Sans", "Noto Sans CJK SC", sans-serif' fill="#000" text-anchor="start" xml:space="preserve" style="white-space:pre">1.00</text>
<text x="1068.0" y="513.4" font-size="10.5" font-family='"Liberation Sans", "Noto Sans CJK SC", sans-serif' fill="#000" text-anchor="start" xml:space="preserve" style="white-space:pre">1.05</text>
<text x="1068.0" y="465.1" font-size="10.5" font-family='"Liberation Sans", "Noto Sans CJK SC", sans-serif' fill="#000" text-anchor="start" xml:space="preserve" style="white-space:pre">1.10</text>
<text x="625.2" y="769.0" font-size="10.5" font-family='"Liberation Sans", "Noto Sans CJK SC", sans-serif' fill="#000" text-anchor="middle" xml:space="preserve" style="white-space:pre">2007</text>
<text x="664.8" y="769.0" font-size="10.5" font-family='"Liberation Sans", "Noto Sans CJK SC", sans-serif' fill="#000" text-anchor="middle" xml:space="preserve" style="white-space:pre">2008</text>
<text x="704.4" y="769.0" font-size="10.5" font-family='"Liberation Sans", "Noto Sans CJK SC", sans-serif' fill="#000" text-anchor="middle" xml:space="preserve" style="white-space:pre">2009</text>
<text x="744.0" y="769.0" font-size="10.5" font-family='"Liberation Sans", "Noto Sans CJK SC", sans-serif' fill="#000" text-anchor="middle" xml:space="preserve" style="white-space:pre">2010</text>
<text x="783.6" y="769.0" font-size="10.5" font-family='"Liberation Sans", "Noto Sans CJK SC", sans-serif' fill="#000" text-anchor="middle" xml:space="preserve" style="white-space:pre">2011</text>
<text x="823.2" y="769.0" font-size="10.5" font-family='"Liberation Sans", "Noto Sans CJK SC", sans-serif' fill="#000" text-anchor="middle" xml:space="preserve" style="white-space:pre">2012</text>
<text x="862.8" y="769.0" font-size="10.5" font-family='"Liberation Sans", "Noto Sans CJK SC", sans-serif' fill="#000" text-anchor="middle" xml:space="preserve" style="white-space:pre">2013</text>
<text x="902.4" y="769.0" font-size="10.5" font-family='"Liberation Sans", "Noto Sans CJK SC", sans-serif' fill="#000" text-anchor="middle" xml:space="preserve" style="white-space:pre">2014</text>
<text x="942.0" y="769.0" font-size="10.5" font-family='"Liberation Sans", "Noto Sans CJK SC", sans-serif' fill="#000" text-anchor="middle" xml:space="preserve" style="white-space:pre">2015</text>
<text x="981.6" y="769.0" font-size="10.5" font-family='"Liberation Sans", "Noto Sans CJK SC", sans-serif' fill="#000" text-anchor="middle" xml:space="preserve" style="white-space:pre">2016</text>
<text x="1021.2" y="769.0" font-size="10.5" font-family='"Liberation Sans", "Noto Sans CJK SC", sans-serif' fill="#000" text-anchor="middle" xml:space="preserve" style="white-space:pre">2017</text>
<path d="M625.2 621.5l0.2-18.4l0.3-19.2l0.2-20.2l0.3-18.3l0.2-19.6l0.2-19.6l0.3-5.5l0.2-3.9l0.2-5.2l0.3-4.9l0.2 2.1l0.2 2.6l0.3 2.5l0.2 3.7l0.3 4.6l0.2 9.5l0.2 6.5l0.3 6.5l0.2 1.4l0.2-0.2l0.3 0.7l0.2 1.3l0.3-1.5l0.2 2.9l0.2 0.2l0.3 0.8l0.2 0.1l0.2 1.3l0.3 3.9l0.2 0.5l0.2 1.2l0.3 2.4l0.2 3.1l0.3-0.5l0.2 5.1l0.2 2.8l0.3 3.6l0.2 1.1l0.2-6.1l0.3-5l0.2-7.5l0.3-7.7l0.2-7l0.2 4.9l0.3 6.4l0.2 5.3l0.2 4.5l0.3 6.2l0.2 8.7l0.2 9.1l0.3 13.8l0.2-12.3l0.3-9.2l0.2-11.8l0.2-11.5l0.3-10.5l0.2 1.1l0.2 1.7l0.3 2.7l0.2 2.4l0.2 3.5l0.3 4.3l0.2 0.1l0.3 0.5l0.2 2.7l0.2 1.8l0.3 2.3l0.2-0.1l0.2-1.7l0.3-2.7l0.2-4.3l0.3-1.2l0.2-3.9l0.2-2.3l0.3-4.1l0.2-3.6l0.2-1.3l0.3-3l0.2-1.2l0.2-1l0.3-1.9l0.2 0.8l0.3-0.4l0.2-4.2l0.2-4.5l0.3-1.8l0.2-2.5l0.2-1.4l0.3-4l0.2-3.3l0.3 3.8l0.2 3l0.2 3.9l0.3 3.5l0.2 1l0.2 0.2l0.3 2.4l0.2 1l0.2 2.1l0.3-1l0.2 7.1l0.3 6.7l0.2 5.7l0.2 6.9l0.3 6.1l0.2 6.1l0.2 7l0.3 6.5l0.2 6l0.2 5l0.3 5.1l0.2 5.8l0.3 5.6l0.2 2.5l0.2 4.3l0.3 4.7l0.2 2.8l0.2 2.5l0.3-1.7l0.2-3.7l0.3-4.1l0.2-2.1l0.2-3.8l0.3 4.2l0.2 2.7l0.2 3.4l0.3 4.3l0.2 3.6l0.2 4.8l0.3 2.9l0.2 6.1l0.3 5.1l0.2 7.6l0.2 5.6l0.3 3.8l0.2 3.7l0.2 3.7l0.3 3.9l0.2-0.9l0.3 1l0.2-0.6l0.2-1.2l0.3 0.8l0.2 0.8l0.2-2.1l0.3-3.3l0.2 0.9l0.2-1.2l0.3-0.8l0.2-2.1l0.3 0l0.2 0.9l0.2-2.2l0.3-0.1l0.2-0.6l0.2-1.9l0.3-0.2l0.2 0l0.2-0.3l0.3 2.4l0.2-0.7l0.3 2.4l0.2 1.2l0.2 0.6l0.3-0.3l0.2 0.2l0.2-2.8l0.3 0.2l0.2-0.4l0.3 0l0.2 0.1l0.2-1.3l0.3-1.8l0.2 3.9l0.2 2.3l0.3 2.5l0.2 1.5l0.2 4.5l0.3-0.4l0.2 2.8l0.3-1.1l0.2 0l0.2 0.9l0.3-0.1l0.2-0.6l0.2 0.3l0.3-0.1l0.2 0.3l0.3 1.4l0.2 0.3l0.2-0.4l0.3 0.1l0.2-3.2l0.2 2.8l0.3 2.8l0.2 2.2l0.2 4.1l0.3 2.2l0.2 2l0.3 4.4l0.2 0.5l0.2 1.2l0.3-0.1l0.2 3l0.2 1.3l0.3 2.8l0.2 2.3l0.2 0.7l0.3-0.5l0.3-0.2l0.2 2.8l0.3 0l0.3 1.3l0.2 0.7l0.3-2.7l0.3 2.4l0.2 1.7l0.3 0l0.2-0.5l0.2-0.1l0.3-1.6l0.2 0.7l0.2-1.1l0.3 0l0.2 1.3l0.2 0.9l0.3-0.3l0.2 1.9l0.3-0.2l0.2 2.2l0.2 3.1l0.3-0.3l0.2 0.9l0.3 0l0.3 1.5l0.2 1.4l0.3 0.9l0.2 0.4l0.3-1.2l0.3 0.8l0.2 1.3l0.3 0.5l0.3-3.1l0.2 1l0.3-1.8l0.3-2.5l0.2 1.5l0.3-0.8l0.2-2.3l0.3-0.5l0.3 0.3l0.2-2.2l0.3 1.5l0.3-1.6l0.2 0.7l0.3-1.2l0.2-2l0.3-0.2l0.3-0.2l0.2 1.2l0.3-1.1l0.3 0.3l0.2 1.8l0.3 0.4l0.2 0.2l0.3 1.3l0.3-0.9l0.2 3.1l0.3-0.8l0.3 0.9l0.2 0.2l0.3 1.6l0.3-0.4l0.2-0.4l0.3 1.1l0.2 1.3l0.3 0.1l0.3 2.9l0.2 0.6l0.3 1.3l0.3 0.9l0.2 0.7l0.3-0.6l0.2 2l0.3-0.7l0.3 0.5l0.2 1.4l0.2 0.3l0.3-1.9l0.2-0.1l0.3-0.6l0.2 1.9l0.2-0.5l0.3-3.7l0.2-4.5l0.2-3.9l0.3-2.7l0.2-4.9l0.2-3.2l0.3 0l0.2 0.3l0.3-0.6l0.2 2.3l0.2-1.4l0.3-0.3l0.2 0.9l0.3 0.3l0.2-1l0.3-1.7l0.3 0.1l0.2-0.8l0.3-0.3l0.2 2l0.3-3l0.3 0.2l0.2 0.1l0.3-1.2l0.3-0.9l0.2 0.6l0.3-1.3l0.3-2.7l0.2-0.4l0.3 0.2l0.2-1.1l0.3-1.1l0.3-0.2l0.2-1.1l0.3-0.4l0.3 0l0.2-1.7l0.3-2.2l0.2 1.4l0.3-0.6l0.3-1.6l0.2-1.8l0.3 0.3l0.3 0.1l0.2 0.1l0.3-0.3l0.3-1.2l0.2-0.9l0.3-1.9l0.2-0.7l0.3-0.5l0.3 1l0.2-2.3l0.3 1.7l0.3-0.4l0.2-2.1l0.3-1.6l0.2-0.3l0.3-1.3l0.2-1.1l0.3-4l0.2-1.4l0.2-0.7l0.3-0.8l0.2-1.6l0.2-2.9l0.3-2.2l0.2-3.2l0.2-0.5l0.3-2.1l0.2-2.8l0.3-3.6l0.2-2.5l0.2-2.5l0.3-3l0.2-1.3l0.2-1.9l0.3-3.1l0.2-2.4l0.3 0.5l0.3-1.1l0.2 0l0.3 1.9l0.3-2.9l0.2-1.2l0.3 0l0.2 1.4l0.3 0.1l0.3-1.5l0.2 1.8l0.3 1.5l0.3 1.6l0.2-0.1l0.3 1.1l0.3-0.9l0.2 1.2l0.3 0.2l0.2-1.6l0.3-1.3l0.3 0.7l0.2-1.8l0.3-1.4l0.3-0.1l0.2 0.3l0.3 0.3l0.2-0.8l0.3 0.8l0.3-0.9l0.2-0.7l0.3 3.5l0.3-1.3l0.2-1.4l0.3 1.3l0.2-0.3l0.3 1.7l0.3-2.1l0.2 0.5l0.3 2.7l0.3 1l0.2-0.5l0.3 2.5l0.3 1.1l0.2-0.6l0.3 2l0.2 0.9l0.2-0.9l0.3 0.4l0.2 1.7l0.2 0.1l0.3 0l0.2-0.9l0.2 0l0.3-1.2l0.2-2.5l0.3-3.2l0.2 0.5l0.2-1.4l0.3-0.4l0.2-0.8l0.3-1.2l0.3-0.1l0.2-1.3l0.3-0.7l0.2-1l0.3-1.7l0.3 1.7l0.2 0.8l0.3-1.2l0.2-0.5l0.2 2.4l0.3-0.5l0.2-1.4l0.3-1.6l0.2 2.1l0.2 0.6l0.3 5.6l0.2 8l0.2 6.1l0.3 7.3l0.2 0.2l0.2-1.8l0.3-2l0.2-2.4l0.3 0.3l0.2-1.3l0.2-2.2l0.3 1.6l0.2-1.4l0.3-0.7l0.3 0.5l0.2-0.4l0.3 0l0.2 0.3l0.3-0.8l0.3-1l0.2 0.1l0.3 2l0.3 0.3l0.2 2l0.3-0.2l0.3-0.9l0.2 1l0.3 0.3l0.2 0.1l0.3 0.6l0.3 1.3l0.2 0.7l0.3 0l0.3-0.2l0.2 0.5l0.3 0.4l0.2-0.1l0.3-1.1l0.3 1.4l0.2 0.3l0.3 0.1l0.3-4.5l0.2 1l0.3-0.1l0.2-3.1l0.3 2.1l0.3-2.3l0.2 0.1l0.3 1.2l0.3 1.7l0.2-0.3l0.3-0.5l0.3-1.3l0.2 1l0.3 1.6l0.2-1.1l0.3 2.5l0.3-3.6l0.2 0.1l0.3 0l0.3 0.4l0.2 0.3l0.3 0.8l0.2-1.5l0.3-2l0.3-0.9l0.2 0.3l0.2-0.6l0.3 0.2l0.2 0.1l0.3 0.1l0.2 0.9l0.2-0.2l0.3-2.1l0.2 6.2l0.2 6.5l0.3 6.5l0.2 7.9l0.3 3.1l0.2 2l0.2 3.4l0.3 0.3l0.2 2.1l0.2 3.3l0.3-0.7l0.3-1l0.2-0.8l0.3 1.4l0.2 0.5l0.3 1.4l0.2 0l0.3-1.1l0.3-1.4l0.2-1.2l0.3-0.3l0.2 1.5l0.3-1.6l0.3-1.7l0.2-0.9l0.3-0.2l0.3-1.6l0.2-1.3l0.3-0.9l0.2 1.2l0.3-0.3l0.3 0.6l0.2 0.3l0.3-2.3l0.3 1.2l0.2-0.9l0.3 0.4l0.2-1.3l0.3 2.1l0.3 0l0.2-1.5l0.3 1.2l0.3-1.7l0.2 1.2l0.3-1.2l0.3 1.6l0.2-2.9l0.3-0.2l0.2-1.4l0.3-0.8l0.3 0.3l0.2 0.6l0.3-0.5l0.3 1.4l0.2 2.1l0.3 0.3l0.2-1.4l0.3 1.1l0.3-3.8l0.2 1l0.3-1.9l0.3-2.3l0.2-0.8l0.3-0.9l0.2 0.2l0.3-0.9l0.3-0.5l0.2 1.2l0.3-0.4l0.3-0.9l0.2-0.4l0.3 0.1l0.3 1.6l0.2 0.4l0.3 1.5l0.2-2.4l0.3-0.3l0.2-0.2l0.2-0.7l0.3-0.6l0.2-4.1l0.2-0.9l0.3-0.5l0.2 1.5l0.3 2.3l0.3 2.4l0.2-1.5l0.3-0.2l0.3 1.2l0.2-0.6l0.3 1.6l0.2-0.3l0.3-0.6l0.3 0.1l0.2 1.1l0.3-1.3l0.3-1.8l0.2 1.1l0.3-0.5l0.2-1.9l0.3-1.9l0.3 1.5l0.2 0.8l0.3 0.7l0.3 1.8l0.2 1.9l0.3 2.1l0.2 0.4l0.3-0.7l0.3-0.2l0.2 0.3l0.3 2.7l0.3-0.4l0.2 1.3l0.3 0.5l0.3 1.7l0.2 1.3l0.3 1.4l0.2 3.2l0.3 0.9l0.3-0.7l0.2-0.9l0.3 1.4l0.3 0.1l0.2 0.4l0.3-0.7l0.2 1.4l0.3 0.9l0.3 0.2l0.2-0.5l0.3-0.4l0.2-1.6l0.3 1.2l0.3-0.3l0.2 1.1l0.3-1.6l0.2-1l0.3 0.7l0.3-1.4l0.2 0.2l0.3-0.8l0.2-0.6l0.3-2.6l0.2 1.1l0.3 0.1l0.2-1.6l0.3 1.7l0.2-2.6l0.3 0.2l0.2 2.7l0.3-0.2l0.2-1.8l0.3 0.3l0.3 0.6l0.2-3.9l0.3 1.3l0.2 0.7l0.3 2l0.2-0.4l0.3-1.6l0.2 0l0.3 2.7l0.2-0.7l0.3 1.7l0.2-0.1l0.3-1.7l0.3 0.6l0.2 0l0.3 0.4l0.2 0l0.3-1l0.2 1.3l0.3-0.1l0.2-0.4l0.3 0.2l0.2-0.3l0.3 0.3l0.2 0.2l0.3-1.1l0.3 2.7l0.2-0.1l0.3-0.9l0.2-2.2l0.3 1.7l0.2-0.2l0.3 0.2l0.2-1.1l0.3 0.1l0.2-1.5l0.3-0.5l0.2 1.1l0.3 0.7l0.2-1.5l0.3-2.5l0.3 0.1l0.2 0.6l0.3-0.9l0.2-0.4l0.3 3.5l0.3-0.4l0.2-0.9l0.3 0.8l0.3-1.4l0.2-0.9l0.3-0.4l0.2 1.2l0.3 0.5l0.3-0.8l0.2 0.9l0.3-3.2l0.3-1.8l0.2 1.5l0.3-0.2l0.3-0.2l0.2 0.5l0.3-0.6l0.2 2.5l0.3-1l0.3 1.2l0.2-0.4l0.3-0.5l0.3-0.9l0.2 1.1l0.3 1l0.2 0.1l0.3-0.3l0.3 0.4l0.2 0.5l0.3 3.3l0.3 0.4l0.2 0.1l0.3 0.9l0.2-0.3l0.3 0l0.2 0.2l0.3-1.3l0.2-2.8l0.3 0.8l0.3-0.2l0.2-0.6l0.3-1.3l0.2 0.8l0.3-0.3l0.2 1.3l0.3-2.7l0.2-0.9l0.3 1.3l0.2 0.8l0.3-0.3l0.2 1.4l0.3-0.3l0.3 1.2l0.2-0.7l0.3 0.1l0.2 0.5l0.3-1.4l0.2 1.5l0.3-0.9l0.2 1.2l0.3-0.3l0.3-1l0.2 2.4l0.3-0.1l0.2 4.3l0.3-1.3l0.3 0.5l0.2 3.1l0.3 1.8l0.2-0.7l0.3 2.2l0.2 1.3l0.2-1.9l0.3-0.1l0.2 0.6l0.3 0.9l0.2-0.2l0.2-0.2l0.3-2.2l0.3-0.4l0.2-2l0.3 0.3l0.2 0.8l0.3-2l0.3 0.8l0.2-2.2l0.3-2.4l0.2-0.3l0.3 0.7l0.2 1.3l0.2 0.6l0.3-1.8l0.2-0.6l0.3 1.1l0.2 0l0.3-1.1l0.2-0.7l0.3 1.5l0.3 0.2l0.2 0.2l0.3-0.7l0.2-0.6l0.3 0.2l0.3-0.1l0.2 1.2l0.3-0.1l0.3-0.6l0.2-3.2l0.3-0.5l0.2 1.3l0.3-0.7l0.3 0.4l0.2-2.6l0.3-0.6l0.3 1.2l0.2-1.2l0.3 3.4l0.2-1.1l0.3 0l0.3-0.4l0.2-1.9l0.3-0.5l0.3-2.3l0.2 1.1l0.3-2.3l0.3-1.8l0.2 0l0.3-1.2l0.2 0.2l0.3-2l0.3-1l0.2-0.1l0.3-0.4l0.3-1.2l0.2-0.8l0.3 3.3l0.2-1.7l0.3-1.5l0.3-2.3l0.2-1.1l0.3 1.5l0.2-0.4l0.2 1.3l0.3-1.9l0.2-0.9l0.3-0.2l0.2 0.4l0.2-1.7l0.3 1.1l0.2-0.9l0.2-0.2l0.3-0.8l0.2 1l0.3 1.7l0.2-1.5l0.2-1.9l0.3-0.5l0.2 2.2l0.2 1.6l0.3 1.1l0.2 1.1l0.2 0l0.3 2.2l0.2 1.1l0.3-0.2l0.2 0.4l0.2 2.3l0.3 1.8l0.2-0.1l0.2 1.7l0.3-1l0.3-2l0.2-0.3l0.3-0.3l0.3-1.9l0.2 1.2l0.3 0.4l0.2 1l0.3 0l0.3-2.1l0.2 0l0.3 1.7l0.3-0.6l0.2-0.5l0.3-0.6l0.2 0.8l0.3-0.8l0.3-0.3l0.2 0.4l0.3-0.2l0.2-1l0.3-0.3l0.3 2.8l0.2 2.8l0.3-0.3l0.2 0.5l0.3 0.6l0.3-0.4l0.2 1.3l0.3 1.1l0.2-0.8l0.3-1.2l0.3 2.1l0.2-0.3l0.3 1.3l0.3-0.2l0.2 2l0.3 2.2l0.2-2.9l0.3 0.4l0.2-0.9l0.2-1.3l0.3-1.7l0.2-0.3l0.2-2.5l0.3 2.1l0.2-0.6l0.3-1.1l0.3 0.2l0.2-1.6l0.3-1l0.3-0.7l0.2-2.9l0.3-1.6l0.2-1.4l0.3-0.2l0.3-0.1l0.2 0.9l0.3-2.1l0.3-1l0.2-1.2l0.3 0.4l0.2-1.1l0.3 0l0.3-0.2l0.2-1.7l0.3 1.1l0.3-0.6l0.2-0.1l0.3-1.9l0.3-0.2l0.2-1l0.3 0.2l0.2-0.7l0.3 0.9l0.3-1.8l0.2 1.1l0.3 0.5l0.3-1.5l0.2 0.3l0.3 0.9l0.2 0.4l0.3 0.1l0.3-1l0.2-1.6l0.3-0.1l0.3-2.1l0.2-1l0.3-0.5l0.2 0.1l0.3 0.6l0.3 0.7l0.2 0l0.3 0.3l0.3 0.9l0.2-0.4l0.3-0.1l0.3 0.7l0.2 1.5l0.3 0.3l0.2-1.6l0.3 0.1l0.3-2.3l0.2 0.7l0.3-1.1l0.3-1.3l0.2 0l0.3-0.5l0.2-0.6l0.3-2.3l0.3-0.5l0.2 1.3l0.3-1.4l0.3-2.2l0.2 1.5l0.3 0.9l0.3 1.2l0.2-0.2l0.3-1.7l0.2-1l0.3-2.1l0.3-0.4l0.2-1.4l0.3 0l0.3-1.1l0.2 0l0.3 0.6l0.2-0.7l0.3 0.6l0.3-1l0.2-1.1l0.3-0.8l0.3-1.4l0.2 0.9l0.3-1.2l0.2-0.5l0.3-0.6l0.3 1.4l0.2 1l0.3-0.7l0.3-1.4l0.2-1.7l0.3 1.3l0.3 1.2l0.2 0l0.3-1.6l0.2-2.4l0.3 2.6l0.3-0.4l0.2 1.2l0.3 0.4l0.3-0.6l0.2-0.2l0.3-0.3l0.2-2.2l0.3-2.2l0.3 1.3l0.2 0.1l0.3-1.4l0.3 1.3l0.2-3.8l0.3 0l0.3-0.6l0.2-1l0.2 0.2l0.3-0.2l0.2 1.6l0.2-0.4l0.3-0.5l0.2 0l0.2-1.3l0.3 2.1l0.2 2.2l0.3 0.7l0.2-0.3l0.2 1.3l0.3 1.5l0.2 3.5l0.2 1.3l0.3 3l0.2 0.5l0.2 1.3l0.3 1.1l0.2 1.9l0.3 4l0.2-0.9l0.2-1.3l0.3-0.3l0.2-0.4l0.2-1.1l0.3-1.7l0.2 1l0.3-0.2l0.2 0.8l0.3-1.9l0.2-0.8l0.3-1.8l0.3 0.6l0.2 0.9l0.3-3l0.3 1.1l0.2-0.1l0.3-0.7l0.2-0.3l0.3-0.8l0.3-1.4l0.2 0.9l0.3-1.1l0.3-2.8l0.2 0.9l0.3-0.2l0.2-1.6l0.3-0.9l0.2-0.3l0.2 0.2l0.3-1l0.2-0.2l0.2 0.9l0.3-1.4l0.2-0.6l0.3-1l0.2 0.4l0.2-0.2l0.3-0.2l0.2-1.5l0.2-1.3l0.3 2l0.2 1.4l0.2 0.7l0.3 1.2l0.2 1.3l0.3 2.3l0.2 0l0.2 0.5l0.3-1.1l0.2-0.4l0.2 0.6l0.3-1.1l0.2 1.7l0.3 0.4l0.2 0.1l0.3 0.7l0.2 2.1l0.3-1.3l0.2 0.6l0.3 1.3l0.3 0.4l0.2-1.8l0.3 1.9l0.3 0.9l0.2 0.2l0.2-0.2l0.3 1l0.2-0.7l0.2 1.6l0.3 0.3l0.2-0.8l0.3 0.1l0.2 0.7l0.2 1.9l0.3 1.8l0.2 0.4l0.2 1l0.3-0.1l0.2 2.3l0.3 1.9l0.2-2.8l0.3 0l0.3 0.3l0.2-0.9l0.3 0.3l0.3 1.2l0.2 2.2l0.3 0l0.2 0.5l0.3 0.3l0.3-2.1l0.2-0.6l0.3-1.3l0.3-1.9l0.2 1.8l0.3-0.9l0.2 0.1l0.3-0.2l0.3 0.4l0.2 0.8l0.3-0.9l0.3-0.6l0.2 0l0.3-0.5l0.2-0.4l0.3 0.7l0.3 1.5l0.2-2.2l0.3 0.1l0.3-0.1l0.2 0.3l0.3-0.8l0.3 0.8l0.2 0.8l0.3-1.8l0.2-1.1l0.3 1.1l0.3-0.2l0.2-1.2l0.3 1.1l0.3-0.2l0.2 0.1l0.3 1.3l0.2-1.1l0.3 1.3l0.3-1.2l0.2-0.5l0.3-0.8l0.3-1.6l0.2-0.7l0.3-2.4l0.3 1.7l0.2-1.2l0.3 1.8l0.2-1.3l0.3-0.1l0.3-1.3l0.2-1l0.3-1.2l0.3-0.1l0.2-2.6l0.3-1.1l0.2 0.3l0.3 0.7l0.2 1.4l0.2 0.3l0.3-0.6l0.2-1.2l0.2 0.2l0.3 2.6l0.2 1.6l0.2 0.7l0.3 2.1l0.2-1l0.3 3.4l0.2-1l0.2 2.5l0.3-1.2l0.2 1.3l0.2 0.2l0.3-1.1l0.2 0.8l0.3 0.5l0.2 0.8l0.2 1.2l0.3 1.7l0.2 2.5l0.2 2.4l0.3-0.9l0.2 1.3l0.2 3l0.3 2.2l0.2-0.6l0.3 0.7l0.2-0.9l0.2 1l0.3-1l0.2-0.1l0.2 1l0.3-1.3l0.2-0.6l0.2-0.3l0.3-0.3l0.2-0.6l0.3-1.1l0.2 1.3l0.2 0.1l0.3-1.3l0.3-3.8l0.2-1.6l0.3-0.7l0.2-1.6l0.3-0.7l0.3-2.1l0.2-0.8l0.3-3.2l0.3 0.8l0.2-0.5l0.3-1.4l0.3-2.7l0.2-1.5l0.3 1.1l0.2-1.2l0.3-1l0.3-1.6l0.2 0l0.3 2.2l0.3 0.1l0.2-0.5l0.3 1.4l0.2-1.8l0.3 1.7l0.3 0.7l0.2-0.8l0.3 1.5l0.2-2.8l0.2 1.4l0.3-0.9l0.2-1.3l0.3-1.3l0.2 0.4l0.2-1.5l0.3 4.6l0.2 4.2l0.2 3.6l0.3 2.5l0.2 1.4l0.3 1.8l0.2 1.5l0.2 3l0.3 1.7l0.2 3.1l0.2 0.3l0.3 2.3l0.2-3.3l0.2-1.9l0.3-2l0.2-1.1l0.3-1.6l0.2-1.7l0.2-4.3l0.3-1.9l0.2-1.2l0.2-3l0.3-1.8l0.2-0.4l0.2-3l0.3 0.5l0.2-3.2l0.3 2.8l0.2 0.5l0.2 3.7l0.3 2.1l0.2 0.5l0.2 4.1l0.3 1.9l0.2 2.6l0.3 2.6l0.2 1.7l0.2 1.3l0.3 0.5l0.2 1.5l0.2 1.5l0.3 1.1l0.2 0.1l0.2 2.9l0.3-1.4l0.2 0l0.3 0l0.2 4.1l0.2 1.5l0.3 2.1l0.2 2.2l0.2 4.3l0.3 0l0.2 2.9l0.3 1.5l0.2 2.3l0.2 1.3l0.3 0.4l0.2 0.8l0.2 1.7l0.3 0.6l0.2-0.5l0.2 0.2l0.3 0.8l0.2 0.3l0.3 1l0.2 0.5l0.2-1.7l0.3-0.5l0.2 2.5l0.2-2.9l0.3-1l0.2-1.5l0.2 0.4l0.3-2.4l0.2-1.5l0.3-1.2l0.2-0.9l0.3 1.8l0.2-3.1l0.3-1.2l0.3-0.9l0.2-0.2l0.3-0.4l0.3-0.3l0.2-2.8l0.3-1.3l0.3-0.8l0.2 1l0.3-1.9l0.2 1.4l0.3-0.2l0.3-1.5l0.2-0.6l0.3-1.8l0.3 0.6l0.2-0.8l0.3-0.8l0.2-1.9l0.3 0.7l0.3-0.6l0.2-0.4l0.3 0.7l0.3-0.4l0.2-2l0.3 0.3l0.2 1.2l0.3 0.1l0.3-2.7l0.2-0.6l0.3-0.1l0.3 0.5l0.2 1.6l0.3-0.7l0.3 2.3l0.2 1.7l0.3-1.4l0.2 2.1l0.3 1.6l0.3 1l0.2-0.2l0.3-0.2l0.3 0.9l0.2 0.8l0.3 1.2l0.2-0.2l0.3 0.2l0.3 1.6l0.2 0.7l0.3-0.2l0.3 0.5l0.2 0.2l0.3 0.3l0.3 0.7l0.2 1.1l0.3-1.8l0.2-1l0.3-0.1l0.3-1.5l0.2-0.8l0.3-0.2l0.3 1.6l0.2 1l0.3-1.6l0.2 2.4l0.3-1.1l0.3 0.5l0.2-0.4l0.3 0.5l0.3 1.3l0.2-0.3l0.3 1l0.2-1.5l0.3-0.2l0.3 0.4l0.2 0.6l0.3 1.5l0.3-1.5l0.2-1.6l0.3-0.6l0.3-0.3l0.2-0.2l0.3 0.4l0.2-0.7l0.3 1.4l0.3-0.1l0.2-1.2l0.3-1l0.3 0.5l0.2 1.4l0.3-1.3l0.2 0.3l0.3 0.7l0.3 0.8l0.2-0.4l0.3-1l0.3-1.3l0.2 2.1l0.3-0.9l0.3-1.5l0.2-0.1l0.3-0.4l0.2-0.3l0.3 0.4l0.3-0.6l0.2 2.1l0.3-2.4l0.3 0.2l0.2 0.1l0.3-0.5l0.2-0.7l0.3 0.2l0.3-1.6l0.2 0.6l0.3-1.4l0.3 0.5l0.2-0.7l0.3-0.1l0.2-0.2l0.3 0.1l0.3 0.1l0.2 1.6l0.3-1.8l0.3 0.5l0.2 0.6l0.3 0.1l0.3-0.1l0.2 0.4l0.3-0.3l0.2 1l0.3-2l0.3 3l0.2-0.2l0.3-0.7l0.3 1.4l0.2 0.8l0.3 0.7l0.2-1l0.3 0.3l0.3 1.2l0.2-0.4l0.3-0.6l0.3-2l0.2 1.3l0.3-1.7l0.3 1.6l0.2-1.2l0.3 1l0.2 0.2l0.3 0.6l0.3 1.3l0.2 0.9l0.3-1.1l0.3-0.9l0.2 2l0.3 0.9l0.2-0.6l0.3-0.1l0.3 0.9l0.2-1.7l0.3 0l0.3 0.6l0.2 0.8l0.3-2.3l0.2-0.3l0.3-2.4l0.3-1.1l0.2-0.5l0.3 1.1l0.3 2.1l0.2 0.3l0.3 0.1l0.3 1.4l0.2 1l0.3 0.7l0.2 0.1l0.3-1l0.3 1.3l0.2 0.1l0.3 1.6l0.3 1.1l0.2 0.5l0.3 1.5l0.2-0.6l0.3-0.4l0.3-1.5l0.2 1.5l0.3 0.2l0.3 0l0.2-0.3l0.3 2.1l0.3 1.7l0.2-0.9l0.3-1.6l0.2 0.7l0.3 0.8l0.3 0.8l0.2 0.4l0.3-0.4l0.3-1.9l0.2-0.7l0.3 0.2l0.2 0l0.3 0.3l0.3 2.6l0.2-2.5l0.3 0.2l0.3 0.5l0.2-1.8l0.3 0.3l0.2-0.8l0.3-1.2l0.3-0.5l0.2-1.2l0.3 0.9l0.3 0.8l0.2-0.3l0.3 0.1l0.3 0.5l0.2 1.3l0.3 0.9l0.2-1.3l0.3-0.1l0.3-1.4l0.2-0.8l0.3 1.4l0.3-1.3l0.2-0.3l0.3-0.1l0.2 0.2l0.3-0.1l0.3-1.6l0.2-0.3l0.3 1.4l0.3-0.6l0.2 0.3l0.3-0.9l0.3 0l0.2 1.8l0.3-2l0.2-0.1l0.3-0.3l0.3 0.9l0.2-1.5l0.3-0.5l0.3-1.4l0.2 1.7l0.3-0.1l0.2 0.2l0.3-1.5l0.2-1.3l0.3 0.7l0.2-4.2l0.2 0l0.3 0.5l0.2-0.9l0.2-1.7l0.3 0.2l0.2 0.5l0.2 0l0.3-1.9l0.2-0.3l0.3-2.9l0.2-1.5l0.2 2.9l0.3 0.6l0.2-0.6l0.2 0.8l0.3 0.1l0.2 2.5l0.3-1l0.2 1.2l0.2-0.3l0.3 2.8l0.2 0.7l0.2 0l0.3 0.9l0.2 0.2l0.2-0.1l0.3 0.1l0.3-1l0.2 1.3l0.3 2l0.3-3.3l0.2 1.4l0.3-0.7l0.3-1.5l0.2-0.1l0.3 0.3l0.2-0.7l0.3-1.1l0.3 0l0.2-1.6l0.3-0.6l0.3 1.4l0.2-0.2l0.3-2.8l0.2 0.6l0.3-0.4l0.3-1.8l0.2 0.3l0.3 0.1l0.3-0.6l0.2 1.9l0.3-1.1l0.2-1.7l0.3-0.9l0.3-0.6l0.2-0.1l0.3-0.3l0.3 1l0.2 0.1l0.3-1.6l0.3-1l0.2 0.9l0.3-1.3l0.2 0.7l0.3-1.1l0.3-1.2l0.2-0.2l0.3-0.1l0.3-0.8l0.2 1.3l0.3-1.5l0.2 0.2l0.3 0.8l0.2 1.9l0.2 0.5l0.3 0.8" fill="none" stroke="#bfbfbf" stroke-width="2.4" stroke-linejoin="miter" stroke-linecap="round"/>
<path d="M625.2 590.7l0.2-11.2l0.3-11.8l0.2-12.8l0.3 3.9l0.2-0.3l0.2 2.1l0.3 2.9l0.2 2.2l0.2-5.7l0.3-7.4l0.2-4l0.2 4.5l0.3 5.8l0.2 5.9l0.3 5.9l0.2 5.4l0.2-1.3l0.3-3.4l0.2-2.4l0.2-5l0.3 7.2l0.2 6.1l0.3 6.7l0.2 6.4l0.2 6.5l0.3 6l0.2-0.9l0.2-0.9l0.3-0.8l0.2-1l0.2 2.9l0.3 3.9l0.2 2.4l0.3 5.6l0.2 3.4l0.2 4.1l0.3 0.5l0.2-0.1l0.2 0.5l0.3 1.8l0.2 1.8l0.3 2l0.2 1.9l0.2 2l0.3-1.3l0.2 3.5l0.2 0.5l0.3 1.1l0.2 5.4l0.2 8.1l0.3 6l0.2 8.4l0.3 7.6l0.2 3l0.2 2.6l0.3 2.6l0.2 2.7l0.2 3.8l0.3-2.5l0.2-2.3l0.2-0.4l0.3-3.4l0.2-3.8l0.3-9.7l0.2-8l0.2-6.3l0.3-6.2l0.2-8.6l0.2-3l0.3-1.9l0.2-1.7l0.3-1.3l0.2-2.8l0.2 1.2l0.3 2.8l0.2 0.8l0.2 0.8l0.3 1.7l0.2-3.7l0.2-4l0.3-3.8l0.2-3.9l0.3-1.9l0.2-3.4l0.2-5.5l0.3-3.7l0.2-1.8l0.2-3.2l0.3-3l0.2-6.7l0.3-6.2l0.2-5.5l0.2-5.9l0.3 4.4l0.2 3.4l0.2 4.1l0.3 3l0.2 1.7l0.2-4.1l0.3-3.7l0.2-7l0.3-6.1l0.2-4.6l0.2-2.1l0.3-1.1l0.2-1.7l0.2-0.7l0.3-1.7l0.2 8.9l0.2 6.3l0.3 6.3l0.2 5.6l0.3 7.7l0.2 6l0.2 7.8l0.3 7.2l0.2 8.6l0.2 4.8l0.3-3l0.2-2.1l0.3-5.3l0.2-1.7l0.2-1.1l0.3-5.4l0.2-5.2l0.2-3.9l0.3-5.1l0.2-4.9l0.2-4.3l0.3-6.1l0.2-2.9l0.3-5.8l0.2-5.1l0.2-5.2l0.3-7.1l0.2-4.8l0.2-3.9l0.3-4l0.2-0.1l0.3 0.3l0.2-2.1l0.2-2.7l0.3-2.7l0.2 5.8l0.2 3.3l0.3 4.4l0.2 5.8l0.2 3.8l0.3 3.4l0.2 3.8l0.3 2.2l0.2 4.3l0.2 4.3l0.3 3.4l0.2 2.4l0.2 0.9l0.3 3.1l0.2 4.4l0.2 3.2l0.3 3.4l0.2 4.9l0.3 4.4l0.2 3.8l0.2-0.1l0.3-0.1l0.2-0.5l0.2-0.6l0.3 0.8l0.2 1.2l0.3 5.4l0.2 2.6l0.2 1.9l0.3 3.9l0.2 2.6l0.2 0.1l0.3 2.3l0.2 2.7l0.2 2.3l0.3-1.5l0.2-2.2l0.3-0.8l0.2 1.3l0.2-2.6l0.3 6.1l0.2 2.7l0.2 3.1l0.3 3l0.2 4l0.3 3l0.2 1.7l0.2 5.2l0.3 3.3l0.2 2.3l0.2-4.7l0.3-3l0.2-2.7l0.2-1.9l0.3-3.1l0.2-4l0.3-2.6l0.2-2.7l0.2-2.6l0.3-1.9l0.2 4.7l0.2 4.4l0.3 7.6l0.2 6.4l0.2 4.1l0.3-4.2l0.2-5.9l0.3-4.4l0.2-5l0.2-6.8l0.3-1.1l0.2 0.1l0.2-1.4l0.3-0.8l0.2-0.3l0.3 2.5l0.2 2.3l0.2 1.4l0.3 2l0.2 3.3l0.2 2l0.3 1.8l0.2 0.7l0.2 1.8l0.3 1.6l0.2 2.2l0.3 1.5l0.2 3.4l0.2 2.7l0.3 2.2l0.2 0.4l0.2-0.3l0.3 1.9l0.2 1.1l0.3 1.3l0.2 0l0.2-0.2l0.3-1l0.2-3.3l0.2-2.7l0.3 0l0.2-1.2l0.2-1.5l0.3-0.6l0.2-2.4l0.3 1.5l0.2 1.7l0.2 0.2l0.3 2.3l0.2 2.2l0.2 1.3l0.3 0.9l0.2 1.1l0.2-2.2l0.3-0.3l0.2 1.6l0.3 0.4l0.2-1.3l0.2-1.7l0.3 0.6l0.2 3.1l0.2 2.1l0.3 1.1l0.2 3.1l0.3 2.9l0.2 1.4l0.2 1.4l0.3-0.9l0.2-0.4l0.2-0.4l0.3-0.5l0.2-1.2l0.2-1.5l0.3-0.5l0.2 0l0.3 2.1l0.2 2.6l0.2 1.9l0.3 1.4l0.2 2.2l0.2 2.5l0.3 1.1l0.2 3l0.3-0.8l0.2 0.1l0.2 0.2l0.3-0.7l0.2-1.3l0.2-0.3l0.3-1.8l0.2 4.7l0.2 5.1l0.3 3.7l0.2 4.6l0.3 2.5l0.2-0.1l0.2 3l0.3 4.1l0.2 0.2l0.2 3.2l0.3 1.3l0.2 3.8l0.2 1.2l0.3 2.2l0.2 3l0.3 0.9l0.2 3.2l0.2-2.9l0.3-1.9l0.2-3l0.2-3.1l0.3-3.3l0.2-1.2l0.3-3.7l0.2-3.9l0.2-5.8l0.3-1.3l0.2-3.7l0.2-3.3l0.3-2.8l0.2-3.3l0.2-2.1l0.3-3.8l0.2-3l0.3-3.4l0.2 2.9l0.2 2.4l0.3 2.7l0.2 2.4l0.2 2.5l0.3-1l0.2-2.4l0.3-2l0.2-1l0.2-1.1l0.3-0.2l0.2-3.2l0.2 1.1l0.3-1.5l0.2-1.4l0.2 0.1l0.3-0.2l0.2 0.2l0.3-3l0.2 1.1l0.2-0.7l0.3 0.2l0.2-1.8l0.2-2.6l0.3-0.7l0.2-0.7l0.2 0l0.3-0.1l0.2-2.1l0.3-0.5l0.2 1.5l0.2 0.2l0.3 1.8l0.2 1.4l0.2 1.5l0.3-2.7l0.2-1.3l0.3-1.9l0.2-2.3l0.2-2.5l0.3-0.8l0.2-1.4l0.2-1.9l0.3-1.7l0.2-2.9l0.2-0.2l0.3-0.8l0.2-2l0.3 0.5l0.2-1.5l0.2-0.5l0.3 0.6l0.2-0.1l0.2 0.5l0.3 0.1l0.2 1.6l0.3-0.5l0.2 0.9l0.2-0.5l0.3-1.2l0.2-0.9l0.2-1.9l0.3-1.6l0.2-0.6l0.2-1.6l0.3 1.5l0.2-0.4l0.3 0.5l0.2 0l0.2 1.5l0.3-0.9l0.2 1.2l0.2 0l0.3-1.1l0.2-0.2l0.2-2.6l0.3-2.5l0.2-0.8l0.3-0.7l0.2 0l0.2-2.3l0.3-2l0.2-1.8l0.2 0l0.3-3l0.2-2l0.3-1.6l0.2-0.5l0.2-3.8l0.3-3.4l0.2-3.1l0.2-4.2l0.3-3.8l0.2-5.1l0.2 5.6l0.3 1.6l0.2 3.9l0.3 3.7l0.2 3.5l0.2 4.1l0.3 1.4l0.2 1.3l0.2 3.4l0.3 3.7l0.2 2.3l0.3 2.4l0.2-1.3l0.2-3.8l0.3-0.4l0.2-4.5l0.2-2.9l0.3-2l0.2-1.6l0.2 0l0.3-1.8l0.2-1.4l0.3-1.1l0.2 0.2l0.2-1.5l0.3-1.5l0.2 0l0.2-2.2l0.3-2.1l0.2-0.4l0.2-0.3l0.3-1.9l0.2 1.6l0.3 2l0.2 1.3l0.2 1.7l0.3 1.3l0.2 2.6l0.2-2l0.3 1.7l0.2-2.5l0.3 0.7l0.2 0.6l0.2 1.8l0.3-0.1l0.2-2.9l0.2 2.1l0.3 0.4l0.2 3.1l0.2 2.8l0.3 1.9l0.2 0.4l0.3 1.4l0.2 0.1l0.2 0.1l0.3-2.6l0.2 0l0.2-0.4l0.3-1.2l0.2 0.5l0.3-0.2l0.2 2.5l0.2 0.2l0.3 1.1l0.2-0.2l0.2 2.4l0.3 0.1l0.2 0.4l0.2-2.1l0.3 0.2l0.2-0.8l0.3-1.6l0.2-0.8l0.2-0.3l0.3-1.5l0.2-1l0.2 0l0.3 1l0.2 1.2l0.3 0.2l0.2-1l0.2 1.4l0.3 2.5l0.2-1.2l0.2-1.9l0.3-0.6l0.2-1.7l0.2-1.3l0.3-2.2l0.2-1.1l0.3 0.2l0.2-0.6l0.2 2.4l0.3-0.4l0.2 3l0.2 0.4l0.3 0.6l0.2-0.7l0.2 1.8l0.3-0.2l0.2-0.9l0.3 1.4l0.2 0.6l0.2 1.4l0.3-1.6l0.2-0.1l0.2-0.1l0.3-0.6l0.2 0.6l0.3 0.6l0.2 0.9l0.2 0.8l0.3 0.5l0.2 0.8l0.2 0.1l0.3 0.3l0.2 0.7l0.2 1.9l0.3-0.5l0.2-0.6l0.3 2.7l0.2-2.2l0.2-2.7l0.3-1.8l0.2-3.6l0.2-1.3l0.3-1.9l0.2-1.5l0.3 0.8l0.2 1.7l0.2 3.1l0.3 0.2l0.2 1.5l0.2 2.3l0.3 0.7l0.2 0.2l0.2-1.6l0.3-1.8l0.2-3.6l0.3-3.1l0.2-3.3l0.2-2l0.3-1.9l0.2-2.5l0.2-2.1l0.3-1.4l0.2-1.8l0.2-0.4l0.3-4.5l0.2-3.3l0.3-2.2l0.2 3.1l0.2 3.7l0.3 2.4l0.2 2.5l0.2 0.3l0.3 2.6l0.2 3.6l0.3 2.6l0.2 1.6l0.2 0l0.3 3.9l0.2 3.8l0.2 4.2l0.3-4.1l0.2-5.2l0.2-2.5l0.3-4.5l0.2-3.1l0.3-3.2l0.2-4.5l0.2-0.7l0.3-3.4l0.2-0.2l0.2-3.2l0.3-2.6l0.2-1.3l0.3-1.4l0.2-1.5l0.2-1.5l0.3-2.4l0.2-2.9l0.2-0.8l0.3-4l0.2-0.6l0.2-3.1l0.3-2.1l0.2-2.1l0.3-4.3l0.2-1.9l0.2-2l0.3-2.8l0.2-1.6l0.2-2.7l0.3-2.3l0.2-1.8l0.2-1.6l0.3-2.4l0.2 0.6l0.3-3.2l0.2 0.5l0.2 1.2l0.3-0.4l0.2-1.2l0.2-1.4l0.3-1.6l0.2 3.3l0.3 5l0.2 2.6l0.2 3.6l0.3 4.5l0.2 5l0.2 5l0.3 5.2l0.2 4.7l0.2 6.1l0.3-4.6l0.2-5l0.3-5.4l0.2-4.3l0.2-5.2l0.3-4.3l0.2-2.2l0.2-5.2l0.3-1.5l0.2-3l0.3-3.1l0.2-3.2l0.2-1.6l0.3-3.3l0.2-4l0.2-3.2l0.3-3.5l0.2-1.5l0.2 2l0.3 2.4l0.2 3l0.3 2.7l0.2 1.8l0.2-1.1l0.3-2.4l0.2-1.9l0.2-4.6l0.3-1.9l0.2-1.6l0.2-1.8l0.3 2l0.2 5.4l0.3 3.2l0.2 2.2l0.2 0.8l0.3 0.8l0.2 4.3l0.2 3.6l0.3 0.1l0.2 3.7l0.3 4.4l0.2 2.2l0.2 2.9l0.3 3.1l0.2 2.8l0.2-0.1l0.3-3.4l0.2-3l0.2-1.6l0.3-1l0.2-2.8l0.3-4.2l0.2 0.1l0.2-1l0.3-1.9l0.2 0.7l0.2-0.1l0.3-0.9l0.2 2.2l0.3 5.2l0.2 2.8l0.2 2.6l0.3 2.9l0.2 4l0.2 2.4l0.3 2.7l0.2 1.6l0.2 1.5l0.3 1.5l0.2 0.7l0.3 3.1l0.2 1.5l0.2 0.6l0.3 0.6l0.2 2.1l0.2 3l0.3 0.7l0.2-0.5l0.2 0.7l0.3 0.3l0.2 1.4l0.3 1.8l0.2 1.5l0.2 2.5l0.3 1.2l0.2-1.2l0.2-1.5l0.3-2.6l0.2-0.8l0.3-1.7l0.2-1.4l0.2-3.1l0.3 1.1l0.2 1l0.2-0.4l0.3 1.7l0.2 0.1l0.2 0.4l0.3 1l0.2-1.1l0.3-2.5l0.2-1.3l0.2-0.8l0.3-0.6l0.2-1.3l0.2-0.2l0.3-2.4l0.2-3l0.3-2.3l0.2-2.9l0.2-1.4l0.3-2.7l0.2-2.6l0.2-2.2l0.3-2.8l0.2-2l0.2-1.5l0.3-1.7l0.2-1.8l0.3-0.9l0.2-3l0.2-1.6l0.3-1.7l0.2-0.7l0.2-0.5l0.3-2.1l0.2-1.8l0.2-0.3l0.3-4.1l0.2-3l0.3-3.5l0.2-3.2l0.2-4.1l0.3 2.5l0.2 2l0.2 2.6l0.3 3l0.2 2.2l0.3 1.6l0.2 1.8l0.2 2.5l0.3 1.4l0.2 1.7l0.2 2.8l0.3 3.6l0.2 0.2l0.2 2.9l0.3 0.6l0.2 1.4l0.3 1.1l0.2 1.4l0.2 3.9l0.3 0.8l0.2 2.1l0.2 1l0.3 3l0.2 1.3l0.3 1l0.2 2.1l0.2 2.8l0.3 2.7l0.2 3.6l0.2 2.6l0.3 6.9l0.2 2.8l0.2 3.6l0.3-3.6l0.2-1.7l0.3-3.8l0.2-1.1l0.2-3.4l0.3-3.9l0.2-1.5l0.2-2.9l0.3-0.2l0.2 1.6l0.2-1.6l0.3-2.6l0.2-1.8l0.3-3.2l0.2 1.1l0.2-1.7l0.3 3l0.2 3.7l0.2 3.5l0.3 1.8l0.2 4.6l0.3 2.2l0.2 3.4l0.2 1.3l0.3 4.1l0.2 1.9l0.2 2l0.3 3.4l0.2 1.9l0.2 2.7l0.3 5.1l0.2 1.8l0.3 3.5l0.2 1l0.2 3.5l0.3 1.3l0.2 1.9l0.2 1.1l0.3 1.4l0.2 2l0.3-1.9l0.2-1.8l0.2-2.6l0.3-2.8l0.2 0.5l0.2-2.3l0.3-1.3l0.2-2.7l0.2-2l0.3-1l0.2-2.2l0.3-2.4l0.2-2.9l0.2-0.9l0.3-2.6l0.2-4.3l0.2-3.6l0.3-3.2l0.2-1.4l0.3-4.2l0.2-3.1l0.2-1.7l0.3-1.9l0.2-2.8l0.2-1.4l0.3-2.3l0.2 6l0.3 3.6l0.2 4.1l0.2 5.3l0.3 4.8l0.2 0.3l0.2-1.7l0.3 0.3l0.2-0.9l0.3-1l0.2-1l0.2-1.7l0.3 1.3l0.2 2.1l0.2 2.5l0.3 4.2l0.2 1.2l0.2-1.1l0.3-3.7l0.2-3.4l0.3-4.1l0.2-3.9l0.2-3.6l0.3 0.7l0.2 0.1l0.2-1.9l0.3-0.7l0.2 0.3l0.2 2.2l0.3-0.1l0.2-3.3l0.3-2.1l0.2-2.9l0.2-1.8l0.3-2.7l0.2-1.5l0.2-2.9l0.3-2l0.2 1.1l0.3-2.8l0.2-2.2l0.2-0.3l0.3-0.2l0.2 1.9l0.2 1.1l0.3 0l0.2 1.5l0.2 1l0.3 2.2l0.2 1.7l0.3-2.4l0.2-0.8l0.2-2.4l0.3-1.5l0.2-2.6l0.2-2.8l0.3-2.1l0.2 4.2l0.3 5l0.2 2.5l0.2 2.2l0.3 2.6l0.2 3.7l0.2-3.8l0.3-3.3l0.2-3.4l0.2-4l0.3-5.6l0.2-2.8l0.3-3.4l0.2 1.6l0.2 0.4l0.3 1.8l0.2 1.8l0.2 1.7l0.3 1.7l0.2 0.2l0.2-0.8l0.3-0.9l0.2-2.8l0.3 0.2l0.2-1.6l0.2-1.1l0.3-0.5l0.2-2l0.2-0.2l0.3 1.8l0.2 1.2l0.3 0.1l0.2 0l0.2-0.2l0.3 0.5l0.2 0l0.2 1.2l0.3-0.1l0.2-1.3l0.2 0.1l0.3 0.3l0.2-0.1l0.3-0.8l0.2 0l0.2 1.1l0.3 1.4l0.2 0.2l0.2 1.8l0.3-1.3l0.2 3l0.3 2.9l0.2 2.9l0.2 0.1l0.3 2.7l0.2 0.3l0.2 1.3l0.3 2.1l0.2 1.7l0.2 3.7l0.3 2.9l0.2 3.6l0.3 6l0.2 1.8l0.2 3l0.3 3.7l0.2 3.8l0.2 2l0.3 2.6l0.2-0.7l0.2 0.2l0.3-2.1l0.2-0.4l0.3-0.5l0.2-2l0.2 0.7l0.3-0.4l0.2-4.1l0.2-0.5l0.3 0.3l0.2-0.9l0.3 2.8l0.2 0.5l0.2 1.4l0.3 0.7l0.2 1.7l0.2 2.4l0.3 0.2l0.2 3.5l0.2 1.9l0.3 0.7l0.2 1.9l0.3-1.3l0.2-2.3l0.2-0.4l0.3-2.3l0.2-3.3l0.2-2.9l0.3-3.2l0.2 0.4l0.3-1.8l0.2 0.7l0.2-0.5l0.3-1.8l0.2-0.7l0.2-0.3l0.3-1.5l0.2 0.1l0.2 0.8l0.3-0.2l0.2 0.5l0.3-1.7l0.2-0.5l0.2 0.9l0.3-0.8l0.2 0.5l0.2 2.9l0.3 1.4l0.2 0.6l0.2 1.2l0.3 1.9l0.2 0.9l0.3-1.7l0.2 0.7l0.2 0l0.3 0.1l0.2 0.4l0.2 0.3l0.3 0.5l0.2 0.9l0.3-1.6l0.2-0.9l0.2-0.2l0.3-1.5l0.2-0.9l0.2-0.1l0.3 0.2l0.2-3.8l0.2-1.7l0.3-1.7l0.2-1.6l0.3-1.3l0.2-2.4l0.2-1.6l0.3 0.8l0.2 1.8l0.2 1.3l0.3 0l0.2 0.6l0.3 0.5l0.2-1.6l0.2-4.6l0.3-2.6l0.2-1.1l0.2-3.5l0.3-4.6l0.2-2.3l0.2-2l0.3-1.9l0.2-2.7l0.3-3.5l0.2-2.8l0.2-2.6l0.3-2.8l0.2 0.3l0.2-0.3l0.3-0.8l0.2-0.5l0.2-1.9l0.3 0.2l0.2 0.2l0.3 1.1l0.2 3.7l0.2 2l0.3 1.4l0.2 1.4l0.2 1.5l0.3-0.7l0.2 0.5l0.3 0l0.2 0.9l0.2 2.7l0.3 0.9l0.2-0.3l0.2 3.6l0.3 3.3l0.2-0.7l0.2 2.2l0.3 3.2l0.2 6.1l0.3 5.2l0.2 5.1l0.2 6.2l0.3 7.2l0.2-2.4l0.2-3.6l0.3-2.7l0.2-3.6l0.3-2.4l0.2-3.6l0.2-1.2l0.3 2.2l0.2-1.1l0.2 1.9l0.3 1.9l0.2 0.9l0.2-0.3l0.3 3.1l0.2 1.9l0.3 2l0.2 1.9l0.2 1.3l0.3 0.2l0.2 2.1l0.2 1.1l0.3 1l0.2 1.5l0.2 1.4l0.3 1.7l0.2 0.9l0.3 2l0.2 1.8l0.2 1.7l0.3 2.7l0.2-1.8l0.2 1.6l0.3 0.6l0.2 2.4l0.3 2.2l0.2-1.5l0.2-0.8l0.3 0l0.2-0.6l0.2-0.8l0.3-0.5l0.2-1.5l0.2 0.1l0.3-3.1l0.2-1.9l0.3 0.5l0.2-3.2l0.2-4l0.3-0.1l0.2-1.2l0.2-2.7l0.3-2.1l0.2-1.9l0.3-2.8l0.2-3.6l0.2-0.9l0.3 1.7l0.2 0.7l0.2-0.8l0.3 2.2l0.2 0.5l0.2 2.6l0.3-0.4l0.2-0.2l0.3-1.6l0.2-1.5l0.2-0.2l0.3-0.7l0.2 0.6l0.2-2.6l0.3 0.9l0.2 0.9l0.2-1.5l0.3 1.6l0.2 1.4l0.3 0.8l0.2 1.5l0.2 0.2l0.3-2.7l0.2-2l0.2-0.5l0.3-1.3l0.2-1.5l0.3 3.1l0.2 5.6l0.2 1.8l0.3 4.9l0.2 4.9l0.2 2.7l0.3 3.7l0.2-0.6l0.2-1.9l0.3-0.9l0.2 0.7l0.3-0.3l0.2 0l0.2-2.3l0.3 1l0.2-0.1l0.2 0.1l0.3 2.3l0.2-0.1l0.3 1l0.2 0.6l0.2 1l0.3-1.3l0.2 2.5l0.2 0.2l0.3-0.9l0.2 1.4l0.2 0.1l0.3 0.9l0.2 1.7l0.3-1.7l0.2 0.4l0.2-0.6l0.3 0.7l0.2-2.6l0.2 0.5l0.3-1.9l0.2-1.3l0.3 1.5l0.3-2.5l0.2-0.4l0.3 0.4l0.3 2.5l0.2-1.1l0.3-0.7l0.2-0.5l0.3 2.7l0.2 1.3l0.3 2l0.2 0l0.2 1.3l0.3 1.2l0.2-1.4l0.2 2.5l0.3 0.4l0.2 1.1l0.2 2.6l0.3 1.5l0.2-0.5l0.3 2.4l0.2 0.8l0.2 1.6l0.3-0.5l0.2-1.9l0.2 1.6l0.3-2.1l0.2-2l0.3-0.7l0.2 0.7l0.2-0.1l0.3-1.7l0.2 0.4l0.2-2.2l0.3-0.7l0.2-1.4l0.2 1.6l0.3 2.1l0.2 1.4l0.3-0.2l0.2-0.2l0.2 1.7l0.3 0l0.2-0.3l0.2 0.2l0.3-0.3l0.2-3.2l0.2-1.2l0.3-1l0.2-0.9l0.3-0.2l0.2 0.4l0.2-1.4l0.3-0.4l0.2 0.6l0.2 1.2l0.3 2.2l0.2-0.7l0.3 0.9l0.2-1.2l0.2 0l0.3 2.8l0.2-2.4l0.2-0.2l0.3 4.5l0.2 5.8l0.2 4.9l0.3 3.5l0.2 4l0.3 1.4l0.2 2.3l0.2 3.6l0.3 0.5l0.2 1.3l0.2 2.9l0.3 2.4l0.2 1.3l0.3 2.4l0.2 1.1l0.2 2l0.3 2.7l0.2 1.9l0.2 3.3l0.3 0.9l0.2 3.8l0.2 1.4l0.3 6.2l0.2 6l0.3 6.9l0.2 4.9l0.2 4.4l0.3 2.3l0.2 1.8l0.2 5l0.3 2.4l0.2 0.9l0.2 1.1l0.3 3.8l0.2-3.3l0.3-3.4l0.2-3.2l0.2-1.9l0.3-2.6l0.2-2.3l0.2-1.2l0.3-4.1l0.2-2.1l0.3-2.1l0.2-3.7l0.2-2.4l0.3-2.4l0.2-1.2l0.2-0.3l0.3-2.2l0.2-1.8l0.2-2.1l0.3-3.2l0.2 1.5l0.3 0.8l0.2 0.9l0.2 2.1l0.3-0.2l0.2 1.7l0.2-1.1l0.3-0.5l0.2-1.8l0.3-1.4l0.2-2l0.2-1.1l0.3-1.1l0.2-1.4l0.2 0l0.3 0.7l0.2-1.5l0.2-1.6l0.3-0.9l0.2 1l0.3 4.9l0.2 5.2l0.2 6.1l0.3 6.1l0.2 5.9l0.2 5.6l0.3 4.3l0.2 3.6l0.3 5l0.2 5.8l0.2-4.2l0.3-5.2l0.2-5l0.2-5.3l0.3-5.3l0.2-4.8l0.2-7.1l0.3-3.6l0.2-4.9l0.3-5.9l0.2-3.2l0.2-2.6l0.3-3.4l0.2-4.1l0.2-2.8l0.3 3.6l0.2 0.5l0.2 1.1l0.3 3.5l0.2 3.1l0.3 0.9l0.2 2.2l0.2 2.4l0.3 1.7l0.2 1.5l0.2 3.4l0.3 4.6l0.2 3.1l0.3 3.8l0.2 3.7l0.2 5.3l0.3 1.7l0.2 4.1l0.2 3.1l0.3 4.3l0.2-5.6l0.2-4.5l0.3-5.7l0.2-6.1l0.3-5.9l0.2-0.3l0.2 0.8l0.3 1.1l0.2 1l0.2-0.1l0.3 1l0.2 0.4l0.3 0.2l0.2-0.4l0.2-0.4l0.3 0.3l0.2 0.2l0.2-1.6l0.3 6.7l0.2 4.6l0.2 5.9l0.3 4.5l0.2 2.8l0.3 2.6l0.2 2.2l0.2 0.8l0.3 1.3l0.2 0.5l0.2-3l0.3-3.9l0.2-1.3l0.2-2.2l0.3-3.3l0.2-2.3l0.3-3.5l0.2 1l0.2-1.6l0.3-2.3l0.2-0.1l0.2-2.9l0.3-3l0.2-1.7l0.3-3.3l0.2-1.1l0.2-0.2l0.3-3l0.2-1.4l0.2-1.8l0.3-3l0.2-0.4l0.2-1.7l0.3-0.8l0.2-1.7l0.3-3.7l0.2-1.7l0.2-1l0.3-1.6l0.2-0.2l0.2-2.1l0.3-1.3l0.2-2.9l0.3-2l0.2 0.8l0.2-4.3l0.3 1.5l0.2 0.8l0.2 0.1l0.3 1.2l0.2 0.6l0.2 0.4l0.3 0.2l0.2 1.1l0.3-2.6l0.2-0.1l0.2-0.7l0.3 1.6l0.2 2.9l0.2 1.3l0.3 3.3l0.2 4.2l0.2 3.7l0.3 1.6l0.2 3.8l0.3 0.9l0.2 2.3l0.2 3.9l0.3 2.3l0.2 3.6l0.2-2.3l0.3-3.9l0.2-4.1l0.3-3.5l0.2-2.5l0.2-3l0.3-4.3l0.2 2.8l0.2 0.1l0.3-1.5l0.2 0.5l0.2 2l0.3 1.3l0.2 0.2l0.3 1.3l0.2 4.2l0.2 4.1l0.3 4.3l0.2 2.2l0.2 2.4l0.3-2.3l0.2-0.8l0.3-2.2l0.2-3.4l0.2-0.5l0.3-2.9l0.2-1.1l0.2-1.5l0.3-1.7l0.2-0.8l0.2-1.9l0.3 0.2l0.2-2l0.3-0.2l0.2 2.8l0.2-1.4l0.3 0.9l0.2 1.4l0.2 0.7l0.3-0.8l0.2 1.6l0.2 0.4l0.3 0l0.2-0.1l0.3-0.6l0.2-0.4l0.2-0.2l0.3-0.5l0.2-0.8l0.2-0.9l0.3-0.3l0.2 0.1l0.3-0.3l0.2 0.5l0.2-0.3l0.3 0l0.2-1l0.2 2.1l0.3-0.7l0.2-1.2l0.2 0l0.3-1.9l0.2 1.3l0.3-1.3l0.2-0.7l0.2-1l0.3-0.4l0.2-1.4l0.2 0.7l0.3 0.2l0.2-0.4l0.3-0.9l0.2-0.7l0.2-0.7l0.3-2.3l0.2 0.2l0.2 0.7l0.3-1.5l0.2 1l0.2-0.1l0.3-1l0.2 2.1l0.3-0.8l0.2 1.2l0.2 3.1l0.3 1.8l0.2 2.9l0.2 2.5l0.3 3.2l0.2 0.9l0.2 0l0.3 1.3l0.2-1l0.3 1.4l0.2 1.5l0.2-1.1l0.3 1l0.2 1.9l0.2-1.6l0.3-2.4l0.2-0.1l0.3-1.6l0.2 0.5l0.2-1.4l0.3 0.8l0.2 0.1l0.2 0.9l0.3 0.9l0.2-2.2l0.2-0.2l0.3 1.8l0.2 1.2l0.3-1.1l0.2-1.6l0.2 1.8l0.3-1.4l0.2 1.7l0.2-0.1l0.3-1l0.2-1.4l0.3 1.7l0.2 1l0.2-0.6l0.3 1.3l0.2 1l0.2 0.6l0.3 1.7l0.2 2.6l0.2 0.6l0.3 0.1l0.2-0.2l0.3 0.1l0.2 2l0.2 0.4l0.3 0.7l0.2 1.8l0.2-0.1l0.3 1.4l0.2-0.2l0.2 2.5l0.3 1l0.2 0.8l0.3 0.8l0.2 2.6l0.2 1.8l0.3 2.5l0.2-0.2l0.2 2.2l0.3 2.6l0.2-1l0.3 1.4l0.2 1.2l0.2 0.7l0.3 0.2l0.2 1.3l0.2-0.5l0.3 1.6l0.2 1.9l0.2 1.9l0.3-0.4l0.2 1.9l0.3 2.2l0.2 2l0.2 1.3l0.3 4.1l0.2 0.9l0.2 0.3l0.3 1.6l0.2 1.6l0.3 2.5l0.2-1.9l0.2-2.6l0.3 0.2l0.2 0l0.2-0.9l0.3-0.4l0.2-0.3l0.2 1.1l0.3 2.1l0.2 2.6l0.3 1.7l0.2 0.8l0.2 1.3l0.3-1.7l0.2-1.3l0.2-0.8l0.3-0.5l0.2-2.3l0.2-1.9l0.3-1.6l0.2-1.1l0.3 1.5l0.2 0.8l0.2-0.8l0.3 1.4l0.2 0.3l0.2 0.6l0.3 2.5l0.2 1.6l0.3 2.1l0.2 2.1l0.2 1.7l0.3 1.5l0.2 2.2l0.2-0.4l0.3-0.3l0.2-1.4l0.2 1.5l0.3-0.5l0.2 2.9l0.3 0.5l0.2 0.5l0.2-0.4l0.3-0.2l0.2 0.2l0.2-1.5l0.3 0.3l0.2-0.1l0.3 0.2l0.2 0l0.2 1.5l0.3 1.2l0.2 1.2l0.2-0.4l0.3 2.3l0.2 0.2l0.2 1.4l0.3-1.7l0.2-0.4l0.3-1.2l0.2-2.2l0.2 1l0.3-2.1l0.2-0.8l0.2 0.3l0.3-0.2l0.2-1.8l0.2 0.4l0.3 0.4l0.2-1.6l0.3-0.6l0.2-0.9l0.2 2.3l0.3 3.2l0.2 0.8l0.2 2.1l0.3 4.4l0.2 0.6l0.3 3.1l0.2 1.5l0.2 0.3l0.3 2l0.2-1.4l0.2-1.3l0.3 2.3l0.2 0.1l0.2 2.8l0.3 0.2l0.2-4.2l0.3-1.6l0.2-1.6l0.2-2.6l0.3-0.1l0.2-2.1l0.2-1.3l0.3-1.9l0.2-1.5l0.3-2.7l0.2-1.3l0.2-1.5l0.3 0l0.2-1.7l0.2-2.7l0.3 0.5l0.2-1.3l0.2-1.3l0.3-0.5l0.2-0.9l0.3 1.5l0.2 0.4l0.2-0.4l0.3 1l0.2 0.7l0.2 1.4l0.3-2.7l0.2-1.5l0.2-2.3l0.3-0.1l0.2-1.3l0.3-0.6l0.2-1.3l0.2-1.1l0.3 1.5l0.2 0.1l0.2-1.1l0.3-1.2l0.2-0.2l0.3-0.9l0.2 0l0.2-2.1l0.3 0.7l0.2 0.5l0.2 0.2l0.3-3.8l0.2 2.7l0.2 2l0.3 4.7l0.2 1.7l0.3-0.9l0.2 2.8l0.2 0.8l0.3 1.2" fill="none" stroke="#640909" stroke-width="1.8" stroke-linejoin="miter" stroke-linecap="round"/>
<text x="780.0" y="465.3" fill="#000" text-anchor="start" font-weight="bold" textLength="153.0" lengthAdjust="spacing" xml:space="preserve" style="white-space:pre"><tspan font-family='"Liberation Sans", "Noto Serif CJK SC", serif' font-size="9.6">价值股和成长股相对表现和估值</tspan></text>
<line x1="736.7" y1="477.5" x2="750.5" y2="477.5" stroke="#bfbfbf" stroke-width="1.8"/>
<text x="752.2" y="480.7" fill="#000" text-anchor="start" textLength="211.5" lengthAdjust="spacing" xml:space="preserve" style="white-space:pre"><tspan font-family='"Liberation Sans", "Noto Serif CJK SC", serif' font-size="10.3">中证</tspan><tspan font-family='"Liberation Sans", sans-serif' font-size="10.3">800</tspan><tspan font-family='"Liberation Sans", "Noto Serif CJK SC", serif' font-size="10.3">成长市盈率</tspan><tspan font-family='"Liberation Sans", sans-serif' font-size="10.3">/</tspan><tspan font-family='"Liberation Sans", "Noto Serif CJK SC", serif' font-size="10.3">中证</tspan><tspan font-family='"Liberation Sans", sans-serif' font-size="10.3">800</tspan><tspan font-family='"Liberation Sans", "Noto Serif CJK SC", serif' font-size="10.3">价值市盈率  </tspan><tspan font-family='"Liberation Sans", sans-serif' font-size="10.3">1.5</tspan></text>
<line x1="736.7" y1="496.5" x2="750.5" y2="496.5" stroke="#640909" stroke-width="1.5"/>
<text x="752.2" y="499.5" fill="#000" text-anchor="start" textLength="179.8" lengthAdjust="spacing" xml:space="preserve" style="white-space:pre"><tspan font-family='"Liberation Sans", "Noto Serif CJK SC", serif' font-size="10.3">中证</tspan><tspan font-family='"Liberation Sans", sans-serif' font-size="10.3">800</tspan><tspan font-family='"Liberation Sans", "Noto Serif CJK SC", serif' font-size="10.3">成长</tspan><tspan font-family='"Liberation Sans", sans-serif' font-size="10.3">/</tspan><tspan font-family='"Liberation Sans", "Noto Serif CJK SC", serif' font-size="10.3">中证</tspan><tspan font-family='"Liberation Sans", sans-serif' font-size="10.3">800</tspan><tspan font-family='"Liberation Sans", "Noto Serif CJK SC", serif' font-size="10.3">价值 </tspan><tspan font-family='"Liberation Sans", sans-serif' font-size="10.3">(RHS)  0.8</tspan></text>
<path d="M113.5 1038.8 L115.7 1039.9 L119.0 1044.3 L121.2 1042.1 L124.5 1022.2 L127.8 989.2 L131.1 956.1 L134.4 929.7 L136.7 916.4 L140.0 910.9 L143.3 909.4 L146.6 912.0 L148.8 916.4 L151.0 923.1 L153.2 927.5 L156.5 929.7 L159.8 927.5 L163.1 925.3 L166.4 923.5 L168.6 923.1 L170.8 927.5 L174.1 930.8 L178.5 931.9 L182.9 930.8 L185.1 925.3 L186.9 916.4 L188.4 907.6 L190.0 897.7 L191.3 894.0 L194.4 892.6 L197.0 894.4 L198.4 903.2 L199.5 918.7 L200.6 945.1 L202.8 978.2 L205.0 1004.6 L207.2 1024.5 L209.4 1033.3 L212.7 1035.5 L216.0 1034.4 L219.3 1031.1 L222.6 1025.6 L225.9 1017.8 L229.2 1004.6 L231.4 995.8 L233.6 993.6 L236.9 998.0 L240.2 1000.2 L243.6 999.8 L246.9 998.7 L250.2 999.1 L253.5 1001.3 L256.8 1005.7 L260.1 1013.4 L263.4 1020.0 L266.7 1022.2 L270.0 1023.3 L272.2 1020.0 L274.4 1009.0 L276.6 993.6 L278.8 978.2 L281.0 964.9 L283.2 958.3 L285.4 956.1 L287.6 957.2 L289.8 962.7 L292.0 971.6 L295.3 977.1 L299.8 978.2 L303.1 977.1 L306.4 976.0 L309.7 971.6 L313.0 967.1 L316.3 963.8 L319.6 961.6 L322.2 960.5 L325.1 964.9 L328.4 978.2 L331.7 993.6 L335.0 1005.7 L338.3 1009.0 L341.6 1011.2 L346.0 1010.8 L350.4 1011.2 L354.8 1012.3 L358.1 1011.2 L361.4 1007.9 L364.8 1005.7 L368.1 1006.8 L371.4 1010.1 L374.7 1010.8 L379.1 1009.0 L382.4 1004.6 L385.7 993.6 L389.0 978.2 L392.3 962.7 L395.6 947.3 L398.9 929.7 L402.2 916.4 L405.5 910.3 L408.8 910.9 L412.1 910.9 L415.4 914.2 L417.7 918.7 L421.0 918.2 L423.2 916.4 L425.4 919.8 L428.7 925.3 L432.0 931.9 L435.3 937.4 L437.5 941.8 L440.8 939.6 L444.1 938.9 L447.4 939.6 L449.6 944.0 L451.8 956.1 L454.0 971.6 L456.2 984.8 L458.4 995.8 L460.6 1000.2 L463.9 1002.4 L467.2 1006.8 L470.6 1009.0 L473.9 1006.8 L477.2 1005.1 L480.5 1003.5 L483.8 1002.8 L486.0 1004.6 L488.2 1011.2 L490.4 1017.8 L492.6 1026.7 L494.8 1039.9 L498.1 1050.9 L501.4 1057.5 L504.7 1064.1 L508.0 1065.2 L511.3 1065.2 L514.6 1064.1 L517.9 1063.0 L521.2 1064.1 L523.5 1059.7 L525.7 1048.7 L529.0 1035.5 L532.3 1024.5 L535.6 1017.8 L538.9 1013.4 L542.2 1007.9 L545.5 1005.7 L548.8 1003.5 L552.1 1001.3 L555.4 1000.2 L558.7 999.1 L562.0 1000.2 L564.2 1001.3 L566.0 1002.4 L566.0 1027.8 L563.1 1025.6 L560.9 1028.9 L558.7 1035.5 L555.4 1042.1 L552.1 1046.5 L548.8 1055.3 L545.5 1070.7 L542.2 1088.4 L538.9 1101.6 L536.0 1110.4 L533.8 1114.4 L532.3 1112.6 L529.0 1108.2 L525.7 1101.6 L522.3 1098.3 L519.0 1096.1 L515.7 1095.0 L512.4 1092.8 L509.1 1090.6 L505.8 1089.5 L502.5 1090.6 L499.2 1092.8 L495.9 1095.0 L492.6 1096.1 L489.3 1092.8 L486.0 1086.2 L482.7 1079.6 L480.5 1072.9 L478.3 1064.1 L476.1 1053.1 L473.9 1044.3 L471.7 1039.9 L468.3 1039.4 L465.0 1039.9 L460.6 1041.0 L457.3 1042.1 L455.1 1046.5 L452.9 1050.9 L450.7 1048.7 L447.4 1039.9 L444.1 1031.1 L440.8 1020.0 L438.6 1006.8 L436.4 993.6 L434.2 984.8 L432.0 978.2 L428.7 976.0 L425.4 973.8 L423.2 971.6 L421.0 966.0 L418.8 962.7 L416.6 964.9 L414.3 973.8 L412.1 982.6 L409.9 991.4 L407.7 1004.6 L405.5 1017.8 L403.3 1031.1 L401.1 1042.1 L398.9 1048.7 L394.5 1049.8 L391.2 1048.7 L387.9 1042.1 L384.6 1033.3 L381.3 1031.1 L378.0 1026.7 L374.7 1025.6 L371.4 1028.9 L368.1 1035.5 L364.8 1042.1 L361.4 1045.4 L358.1 1046.9 L354.8 1047.6 L350.4 1047.6 L346.0 1046.9 L341.6 1046.5 L338.3 1044.3 L335.0 1042.1 L332.8 1042.1 L329.5 1047.6 L326.2 1047.6 L322.9 1042.1 L319.6 1028.9 L316.3 1013.4 L313.0 1004.6 L309.7 1002.0 L306.4 1000.9 L302.0 1000.2 L297.6 1001.3 L294.2 1002.4 L292.0 1009.0 L289.8 1022.2 L287.6 1039.9 L285.4 1053.1 L283.2 1064.1 L279.9 1069.6 L276.6 1071.8 L274.4 1068.5 L272.2 1059.7 L270.0 1054.2 L266.7 1053.5 L262.3 1053.1 L259.0 1052.0 L255.7 1048.7 L252.4 1044.3 L249.1 1042.1 L245.8 1044.3 L242.5 1047.6 L239.1 1050.9 L235.8 1057.5 L232.5 1066.3 L229.2 1070.7 L225.9 1071.8 L222.6 1072.5 L219.3 1072.9 L217.1 1081.8 L214.9 1086.2 L211.6 1088.4 L208.3 1089.5 L206.1 1099.4 L203.9 1114.8 L201.7 1130.2 L200.1 1134.2 L198.4 1132.5 L196.2 1123.6 L194.0 1106.0 L191.8 1084.0 L189.6 1061.9 L187.3 1033.3 L185.1 1004.6 L182.9 990.3 L180.7 989.6 L177.4 988.7 L174.1 987.0 L170.8 988.1 L167.5 984.8 L164.2 978.2 L160.9 971.6 L157.6 966.0 L155.4 962.7 L153.2 964.9 L149.9 982.6 L146.6 1006.8 L143.3 1033.3 L140.0 1066.3 L136.7 1095.0 L134.4 1102.7 L131.1 1097.2 L127.8 1088.4 L124.5 1081.8 L121.2 1075.1 L119.0 1076.2 L115.7 1077.3 L113.5 1075.1 Z" fill="#d9d9d9"/>
<line x1="113.5" y1="854.0" x2="113.5" y2="1150.5" stroke="#adadad" stroke-width="1"/>
<line x1="109.8" y1="1150.5" x2="566.0" y2="1150.5" stroke="#adadad" stroke-width="1"/>
<line x1="109.8" y1="1150.5" x2="113.5" y2="1150.5" stroke="#adadad" stroke-width="1"/>
<line x1="109.8" y1="1107.5" x2="113.5" y2="1107.5" stroke="#adadad" stroke-width="1"/>
<line x1="109.8" y1="1065.5" x2="113.5" y2="1065.5" stroke="#adadad" stroke-width="1"/>
<line x1="109.8" y1="1023.5" x2="113.5" y2="1023.5" stroke="#adadad" stroke-width="1"/>
<line x1="109.8" y1="981.5" x2="113.5" y2="981.5" stroke="#adadad" stroke-width="1"/>
<line x1="109.8" y1="938.5" x2="113.5" y2="938.5" stroke="#adadad" stroke-width="1"/>
<line x1="109.8" y1="896.5" x2="113.5" y2="896.5" stroke="#adadad" stroke-width="1"/>
<line x1="109.8" y1="854.5" x2="113.5" y2="854.5" stroke="#adadad" stroke-width="1"/>
<line x1="113.5" y1="1150.5" x2="113.5" y2="1154.2" stroke="#adadad" stroke-width="1"/>
<line x1="154.5" y1="1150.5" x2="154.5" y2="1154.2" stroke="#adadad" stroke-width="1"/>
<line x1="196.5" y1="1150.5" x2="196.5" y2="1154.2" stroke="#adadad" stroke-width="1"/>
<line x1="237.5" y1="1150.5" x2="237.5" y2="1154.2" stroke="#adadad" stroke-width="1"/>
<line x1="279.5" y1="1150.5" x2="279.5" y2="1154.2" stroke="#adadad" stroke-width="1"/>
<line x1="320.5" y1="1150.5" x2="320.5" y2="1154.2" stroke="#adadad" stroke-width="1"/>
<line x1="362.5" y1="1150.5" x2="362.5" y2="1154.2" stroke="#adadad" stroke-width="1"/>
<line x1="403.5" y1="1150.5" x2="403.5" y2="1154.2" stroke="#adadad" stroke-width="1"/>
<line x1="445.5" y1="1150.5" x2="445.5" y2="1154.2" stroke="#adadad" stroke-width="1"/>
<line x1="486.5" y1="1150.5" x2="486.5" y2="1154.2" stroke="#adadad" stroke-width="1"/>
<line x1="528.5" y1="1150.5" x2="528.5" y2="1154.2" stroke="#adadad" stroke-width="1"/>
<text x="99.0" y="1153.8" font-size="10.5" font-family='"Liberation Sans", "Noto Sans CJK SC", sans-serif' fill="#000" text-anchor="end" xml:space="preserve" style="white-space:pre">2.0</text>
<text x="99.0" y="1111.5" font-size="10.5" font-family='"Liberation Sans", "Noto Sans CJK SC", sans-serif' fill="#000" text-anchor="end" xml:space="preserve" style="white-space:pre">2.5</text>
<text x="99.0" y="1069.3" font-size="10.5" font-family='"Liberation Sans", "Noto Sans CJK SC", sans-serif' fill="#000" text-anchor="end" xml:space="preserve" style="white-space:pre">3.0</text>
<text x="99.0" y="1027.0" font-size="10.5" font-family='"Liberation Sans", "Noto Sans CJK SC", sans-serif' fill="#000" text-anchor="end" xml:space="preserve" style="white-space:pre">3.5</text>
<text x="99.0" y="984.8" font-size="10.5" font-family='"Liberation Sans", "Noto Sans CJK SC", sans-serif' fill="#000" text-anchor="end" xml:space="preserve" style="white-space:pre">4.0</text>
<text x="99.0" y="942.5" font-size="10.5" font-family='"Liberation Sans", "Noto Sans CJK SC", sans-serif' fill="#000" text-anchor="end" xml:space="preserve" style="white-space:pre">4.5</text>
<text x="99.0" y="900.3" font-size="10.5" font-family='"Liberation Sans", "Noto Sans CJK SC", sans-serif' fill="#000" text-anchor="end" xml:space="preserve" style="white-space:pre">5.0</text>
<text x="99.0" y="858.0" font-size="10.5" font-family='"Liberation Sans", "Noto Sans CJK SC", sans-serif' fill="#000" text-anchor="end" xml:space="preserve" style="white-space:pre">5.5</text>
<text x="113.5" y="1167.7" font-size="10.5" font-family='"Liberation Sans", "Noto Sans CJK SC", sans-serif' fill="#000" text-anchor="middle" xml:space="preserve" style="white-space:pre">2007</text>
<text x="154.9" y="1167.7" font-size="10.5" font-family='"Liberation Sans", "Noto Sans CJK SC", sans-serif' fill="#000" text-anchor="middle" xml:space="preserve" style="white-space:pre">2008</text>
<text x="196.4" y="1167.7" font-size="10.5" font-family='"Liberation Sans", "Noto Sans CJK SC", sans-serif' fill="#000" text-anchor="middle" xml:space="preserve" style="white-space:pre">2009</text>
<text x="237.9" y="1167.7" font-size="10.5" font-family='"Liberation Sans", "Noto Sans CJK SC", sans-serif' fill="#000" text-anchor="middle" xml:space="preserve" style="white-space:pre">2010</text>
<text x="279.3" y="1167.7" font-size="10.5" font-family='"Liberation Sans", "Noto Sans CJK SC", sans-serif' fill="#000" text-anchor="middle" xml:space="preserve" style="white-space:pre">2011</text>
<text x="320.8" y="1167.7" font-size="10.5" font-family='"Liberation Sans", "Noto Sans CJK SC", sans-serif' fill="#000" text-anchor="middle" xml:space="preserve" style="white-space:pre">2012</text>
<text x="362.2" y="1167.7" font-size="10.5" font-family='"Liberation Sans", "Noto Sans CJK SC", sans-serif' fill="#000" text-anchor="middle" xml:space="preserve" style="white-space:pre">2013</text>
<text x="403.7" y="1167.7" font-size="10.5" font-family='"Liberation Sans", "Noto Sans CJK SC", sans-serif' fill="#000" text-anchor="middle" xml:space="preserve" style="white-space:pre">2014</text>
<text x="445.1" y="1167.7" font-size="10.5" font-family='"Liberation Sans", "Noto Sans CJK SC", sans-serif' fill="#000" text-anchor="middle" xml:space="preserve" style="white-space:pre">2015</text>
<text x="486.6" y="1167.7" font-size="10.5" font-family='"Liberation Sans", "Noto Sans CJK SC", sans-serif' fill="#000" text-anchor="middle" xml:space="preserve" style="white-space:pre">2016</text>
<text x="528.0" y="1167.7" font-size="10.5" font-family='"Liberation Sans", "Noto Sans CJK SC", sans-serif' fill="#000" text-anchor="middle" xml:space="preserve" style="white-space:pre">2017</text>
<text x="120.7" y="861.8" font-size="9" font-family='"Liberation Sans", "Noto Sans CJK SC", sans-serif' fill="#000" text-anchor="start" xml:space="preserve" style="white-space:pre">(%)</text>
<path d="M113.5 1065.4l0.3-0.9l0.3 0.1l0.4 0.3l0.3 0.5l0.3-2.4l0.3-1.1l0.3-1l0.3-0.7l0.3-0.7l0.4-1.7l0.3-0.1l0.3-1.9l0.3 0.1l0.3-1.4l0.3-0.4l0.3-0.5l0.4-1.1l0.3-1.4l0.3-1.3l0.3-1.5l0.3 0.9l0.3-1.1l0.3-0.2l0.3-1.8l0.4-1.7l0.3-2.2l0.3-5.7l0.3-6.7l0.3 0l0.3-0.5l0.4-0.6l0.3-0.9l0.3-3l0.3-3.6l0.3 0l0.3-1.1l0.2-2.3l0.3-1.8l0.3-0.3l0.3 0.6l0.3-1.2l0.3-1.8l0.2-0.2l0.3-0.3l0.3-2.3l0.3-0.2l0.2-1.8l0.5-12.9l0.3-3.9l0.2-4.5l0.3-5.7l0.3-3.6l0.3-3.2l0.3-1.1l0.4-3.6l0.3-1.9l0.3-4.2l0.3-4.5l0.2-3.7l0.3-4l0.3-1.9l0.3-3.5l0.3-3l0.3-0.7l0.3 1.7l0.4 1.1l0.3 1.4l0.3-1.2l0.3-3.3l0.3-2.8l0.3 1.5l0.4 1.7l0.3 3.4l0.3-0.1l0.3 2.4l0.3 2.9l0.3 1.4l0.3 0.6l0.4 1.5l0.2 2.2l0.3 1.8l0.3 0.8l0.3 1.3l0.2 2.9l0.3 1l0.3 3.3l0.3 0.4l0.2-1.6l0.3-5l0.3-1.8l0.3-3.5l0.2-4.7l0.3-2.8l0.3-2.7l0.3-2.9l0.3-4l0.3-4.2l0.3 3l0.3 3.5l0.3 4.3l0.3 1.6l0.4 1.8l0.3 1.3l0.3 2.4l0.3-1.6l0.3-2.2l0.4-4.1l0.3-3l0.3-2.8l0.3-0.4l0.3 1.3l0.3-1.4l0.3-0.7l0.3-0.9l0.3-3.2l0.4-1.9l0.3-1.4l0.3-1.7l0.3 1.5l0.3 1.3l0.3 1.3l0.2 0.2l0.3 2.7l0.4 1.5l0.3 0.4l0.3 0.9l0.3 0.6l0.3 0.1l0.2 2.6l0.3 1l0.3 2.3l0.3 1.4l0.3-1.3l0.3-0.3l0.3 1.3l0.3 0.1l0.4 1.3l0.3 1.7l0.3 2.4l0.3 0.6l0.4 2.3l0.3 2.9l0.3 1.1l0.3 1.5l0.3 2.3l0.3 2.3l0.2 2.1l0.3 1.5l0.3 2.4l0.3-2.1l0.3 0.4l0.3-1l0.3-1.6l0.3-2.1l0.3 0.9l0.3 1.2l0.3 1.5l0.3 2.2l0.3 0.3l0.3 1.6l0.3 1.2l0.3 1.6l0.3 0.3l0.3 1.5l0.3-0.4l0.4 0.2l0.3-0.2l0.3 0l0.4 2.3l0.3 0.1l0.3-0.1l0.3 0.2l0.3 0.2l0.3-1.2l0.3-1l0.3-0.3l0.3-2l0.3-0.8l0.4-1.1l0.2-1.2l0.3-1.3l0.3-0.4l0.3 0.1l0.3 0l0.3-2.1l0.3 0.3l0.3 0.4l0.3-1.8l0.3-0.9l0.3 0.9l0.3 0.4l0.3 0.1l0.3 0.8l0.3-0.3l0.3 0.2l0.3-1.1l0.3-4l0.3-4.6l0.2-3.3l0.3-3.9l0.3-4.4l0.3-3.3l0.2-3.9l0.3-4.7l0.3 0.8l0.3 0.8l0.3 0.8l0.2-0.3l0.3 2.6l0.3 1.4l0.3 2.2l0.2 1.5l0.3 1.2l0.3-2.4l0.3 0.5l0.2-1.6l0.4-0.7l0.3-3.7l0.3-1.5l0.4-2.5l0.2 5.2l0.3 3l0.3 4.4l0.3 2.9l0.3 2.8l0.3 1.4l0.2 0.7l0.3 4.9l0.3 4.3l0.3 5l0.2 4.4l0.3 6.6l0.3 7.5l0.3 8.7l0.2 7.3l0.3 0.5l0.3 1.5l0.3-0.3l0.2 1l0.3 6.4l0.3 6l0.3 5.8l0.2 6.5l0.4 16.5l0.3 14.3l0.3-4l0.3-2.9l0.3-6.9l0.3 1.7l0.3 2.6l0.3 0.1l0.3 4.6l0.3 5.9l0.3 4.2l0.2 2.2l0.3 3.8l0.3-0.2l0.3 3.3l0.2-5.2l0.3-3.2l0.3-3.4l0.3-3.9l0.2-2.6l0.3-1.5l0.3-2.2l0.3 4.1l0.3 4l0.3 3.5l0.3 5.2l0.3 3.1l0.3 2.6l0.3 2.7l0.3 4.4l0.3 3.2l0.3-0.2l0.3-0.1l0.3 0.8l0.3 0.8l0.3 2.8l0.2 1.1l0.3-4.7l0.3-7.7l0.3-3.9l0.3-7l0.3-4.8l0.3-7.2l0.3-6.4l0.3-5.5l0.3-5.5l0.3-2.3l0.3-1.9l0.3-3.1l0.3 3.8l0.3 4.2l0.3 5.9l0.2 3l0.3 5l0.3 3.4l0.3-3.4l0.3-2l0.3-4.2l0.3-0.3l0.3-1.1l0.3-3.8l0.3 2.7l0.3 3.9l0.3 3.7l0.3 1l0.2 2.7l0.3 3l0.3 0.4l0.3-2.4l0.2-3.3l0.3-2.6l0.3-3l0.3 1.1l0.2 1.4l0.3 0.8l0.3 1.4l0.3 0.3l0.3 1.5l0.3-0.5l0.3 2l0.3 0.8l0.3 1.5l0.3 0.8l0.3 0.8l0.3 1l0.3 0.5l0.3 1.1l0.3-2.1l0.3-0.4l0.3 0.3l0.3-1.3l0.3 1.9l0.3 0.2l0.3-3.8l0.3-0.3l0.3-1.9l0.3-1.7l0.3-1.1l0.3-2.5l0.3-1.3l0.3-0.8l0.3-2.4l0.3-1.5l0.4-2.1l0.3-1.9l0.3-3.1l0.4-2l0.2-2.5l0.3-1.2l0.3-2.8l0.3-1.5l0.2-1l0.3-1.4l0.3 0l0.3-0.6l0.3-0.9l0.3 0.5l0.3 0.4l0.3-2.5l0.3 0.6l0.3-1.6l0.3 0.8l0.2 1.1l0.3 0.4l0.3 1.8l0.3 1.2l0.2 2.1l0.3 0.4l0.3 0.9l0.3-3.1l0.3-0.6l0.3-1.9l0.4-0.3l0.3-1.1l0.2-1.5l0.3 0.4l0.3-1.6l0.3-1.4l0.3-0.8l0.3-1l0.3-1.5l0.3-2.5l0.3-1.7l0.3-1.8l0.3-2l0.3-0.1l0.3 0.8l0.3-0.7l0.3 1.8l0.3 1.1l0.3-1.9l0.3-1.9l0.3-2.8l0.2-0.8l0.3 2.6l0.3 0l0.3 2.5l0.2 0.9l0.3 3.1l0.3 1.3l0.4 1.8l0.3 0.5l0.3 0.8l0.3-1.5l0.3 0.7l0.3-1.3l0.3-0.8l0.2-1.8l0.3-0.2l0.3-0.9l0.3 0.4l0.3 1l0.3-1l0.3-0.9l0.3 0.4l0.3-0.5l0.3-1.3l0.3-1.6l0.3 0.2l0.3 0l0.3 2.4l0.3 3.2l0.3 2l0.2 2.1l0.3 0.2l0.3 1.8l0.3 1.7l0.2 1.3l0.4 0.5l0.3-0.8l0.3 0.1l0.3-1l0.3 0l0.3 4.1l0.4 3.2l0.3 3.7l0.3 2.8l0.3-2.8l0.3-0.2l0.3-1.8l0.3-2.1l0.4 0.2l0.3 0.6l0.3 0.5l0.3-0.2l0.3 2.2l0.3 0.7l0.3-3.6l0.4-1.9l0.3-2l0.3-2.5l0.3 2.4l0.3 2.4l0.3 0.7l0.4 1.4l0.3 3l0.2 2.7l0.3 2.6l0.3 0l0.3 1.5l0.2 0.6l0.3 1.3l0.3 0.7l0.3 1.5l0.2 1.7l0.3 2.4l0.3 1.4l0.3 3.1l0.3-0.7l0.3-1.1l0.3-1.7l0.2-0.5l0.3-1.6l0.3-0.6l0.3-2.6l0.4-1.3l0.3-2.8l0.3-2.1l0.3-1.5l0.3-0.7l0.2-0.9l0.3-1.7l0.3 0l0.3 3.8l0.2 2.4l0.3 2.2l0.3 3.3l0.3 3.4l0.2 1.3l0.3 1.2l0.3 1.1l0.3-0.7l0.3-2l0.3-1l0.3-1l0.3 0.9l0.2-2.4l0.4 1.1l0.3 0.4l0.3 0l0.3 1.7l0.3 1.7l0.3-1.6l0.3-1.5l0.3-0.9l0.3-0.5l0.3-1.1l0.3-1.2l0.3-1.2l0.3-0.5l0.3-1.8l0.3-0.4l0.3 0.6l0.3 0.1l0.3-0.1l0.3-0.7l0.3-0.4l0.3 1.5l0.3 0.1l0.2-2.2l0.3-2l0.3-1l0.3 0.4l0.2-5.2l0.3-6.9l0.3-4.6l0.3-4.2l0.3-3.8l0.3-2.4l0.2-1.5l0.4-5.3l0.3-5.7l0.3-4.1l0.4-3.2l0.2-1.9l0.3-0.7l0.3-0.8l0.3-1.1l0.2-0.8l0.3-2.1l0.3 1.6l0.3-1.3l0.3 4.2l0.3 2.6l0.3 2.3l0.3 1.1l0.3 1.9l0.3 2.9l0.4 2l0.3 0.3l0.3-1.5l0.3-1.4l0.3 0l0.3-1.7l0.3-2.9l0.3 0.2l0.3-2.1l0.4-1.4l0.3 0.6l0.3-1.3l0.2-2.9l0.3-0.4l0.3 0.8l0.3-3.8l0.3-2.1l0.3-2.2l0.3-0.6l0.3-1.3l0.4-1.2l0.3-2.3l0.3 2.6l0.3 1.8l0.4 3.7l0.3 1l0.3 0.2l0.3 1.1l0.3 2.3l0.3 1.8l0.3 1.7l0.3 1.7l0.3 0l0.3-0.2l0.3-0.6l0.3-0.1l0.3 1.3l0.3 1.6l0.3 1l0.3 0.5l0.3 0.4l0.3 2l0.3-0.2l0.4-0.3l0.3-1.7l0.3 0.1l0.3-0.8l0.3 0l0.3 0l0.3 1.7l0.3 1.1l0.3 0.6l0.2 0.6l0.4 0.2l0.3 0.4l0.3 0.6l0.3-0.7l0.3-0.2l0.3 0.4l0.3 0.6l0.4 0l0.3-0.8l0.3-1.2l0.3 0.1l0.3-1l0.3 0.3l0.4 0.7l0.3-1.7l0.3 1.2l0.3-1.2l0.3-1.9l0.3-0.9l0.3-0.7l0.4 0.4l0.3 0l0.2-0.1l0.3-0.4l0.3-0.1l0.3-1.1l0.3-1.4l0.3-3.8l0.3-4.1l0.3-3.8l0.3 1.2l0.3 0.5l0.2 1.5l0.3 0.2l0.3 2.1l0.3 1.8l0.2 2.1l0.3 1.6l0.3-3.1l0.3-2.3l0.2-4.2l0.3-2.2l0.3-0.2l0.3-1l0.2-1.6l0.3 0.4l0.3 0l0.4 0.9l0.3 1.6l0.3-0.2l0.3 4.4l0.3 3l0.3 4.8l0.3 1.5l0.4 1.9l0.3 2.7l0.3 2.2l0.3 0.7l0.4 2.1l0.3-0.1l0.3 2.6l0.3 2l0.3-0.8l0.2-0.8l0.3-0.1l0.3-2.2l0.3 2.8l0.2 4l0.3 2l0.3 3l0.3 1.6l0.2 1.8l0.3 0.9l0.3 0.5l0.3 0.2l0.2-1l0.3-1l0.3 0.8l0.3 2l0.2 2.5l0.3 2.2l0.3 3.4l0.3-0.3l0.3 1.2l0.3 0.2l0.3 2.8l0.3 0.5l0.3 0.1l0.3 0.3l0.3-0.3l0.3 0.6l0.3 1.1l0.3-0.8l0.3 0l0.3 1.6l0.3 0.7l0.3 1.7l0.3 0.7l0.3 0.2l0.3-1.9l0.3 0.7l0.3 0.1l0.3-0.3l0.3 0.2l0.3-2.4l0.3-3.9l0.2-1.8l0.3-2.2l0.3-0.8l0.3 1.4l0.2-1.2l0.3-2.1l0.3 0.5l0.3 0.3l0.4-1.2l0.3 0.3l0.3 1.1l0.3 0.5l0.3-2.4l0.3-0.2l0.3 1.3l0.4-0.3l0.3 0.1l0.3 1.8l0.3-1.4l0.3 0.3l0.3-0.1l0.3-1.4l0.4 0.2l0.3 1l0.3 0.9l0.3 0.1l0.3-0.1l0.3 2.3l0.3 0.7l0.4 1.4l0.3 2l0.3 2.5l0.3 3.1l0.3 2.5l0.3-3.9l0.3-2.3l0.2-1.1l0.3-0.7l0.3 2.5l0.3 2.9l0.2 0.3l0.3 1.9l0.3 0.4l0.3 0.7l0.2 2.1l0.3 1.1l0.3-1l0.3-1.9l0.2-1.6l0.3-0.2l0.3-0.2l0.3 2.2l0.3 0l0.3 1.4l0.3 0.8l0.3 1.7l0.3 2.2l0.3-0.9l0.3 0.8l0.3 1.3l0.3 0.1l0.3-1l0.3-0.9l0.3 0.6l0.3-0.2l0.4 0.7l0.3-1l0.2-2.1l0.3 1.8l0.3 0.1l0.3 0.2l0.3-0.5l0.3-0.8l0.3-1.5l0.3-1.5l0.3-0.1l0.3-1l0.3-1.9l0.3-0.9l0.3-2.3l0.3-2.6l0.3-0.6l0.3-1l0.3-3.5l0.3-2.2l0.3-1.5l0.2-1.9l0.3 1.3l0.3 3.2l0.3 2l0.2 1.9l0.3 0.1l0.3 0.1l0.4-1.7l0.3-1.6l0.3 0.2l0.3-1.5l0.3-1.7l0.3-1.2l0.2-2l0.3 0.2l0.3-2.1l0.3 0.4l0.4 1l0.3-0.2l0.3 1.2l0.3 0.7l0.3 2l0.3 1.1l0.4-0.1l0.3 1.8l0.3-0.6l0.3-1.5l0.3-0.9l0.3-0.4l0.3-0.9l0.3-0.4l0.3-0.8l0.3 0.2l0.3-1.3l0.3-0.5l0.3-0.4l0.3-0.1l0.3 0.8l0.3 0.3l0.3-0.3l0.4 0.8l0.3-1.1l0.3 0l0.3-1.3l0.3 1.9l0.3-1.4l0.3-0.5l0.3-0.2l0.3 0.3l0.3 0.8l0.3 0.2l0.3 1.1l0.3-1.2l0.2 0.8l0.3 1.2l0.3-0.8l0.3 1.1l0.3-0.9l0.3-0.4l0.3-0.2l0.3-0.6l0.4-0.7l0.3-0.3l0.3 0.2l0.3-0.3l0.3 0.4l0.3-0.6l0.3 1.5l0.3 1l0.4 0.6l0.3 0.4l0.3 1.4l0.3 1.4l0.3 2.1l0.3 1.7l0.3 1.8l0.4 1l0.3 0.6l0.3-0.5l0.3 0.3l0.4-0.2l0.3-0.8l0.3 0.5l0.3 0.7l0.3 1.4l0.3 1.6l0.3-1.4l0.3 0.4l0.3 0.3l0.3 0.6l0.4-1.5l0.3 0.4l0.3-2.2l0.3-0.8l0.4-0.1l0.3-2.3l0.3 0.1l0.3-0.7l0.3-0.7l0.2-0.6l0.3-0.7l0.3 0.7l0.3-8.8l0.3-7.5l0.3 5.1l0.3 5.6l0.3 5.4l0.3-2.2l0.3-0.2l0.3-3.9l0.2-2.6l0.3-4.1l0.3-3.7l0.3-4.1l0.3 0.2l0.3 2.5l0.3 0.6l0.3-3l0.2-2l0.3-3.4l0.3-3l0.3-1.9l0.2-2.9l0.3-2.2l0.3-2.1l0.3-5.5l0.3-2l0.3-3.9l0.3 1.1l0.3 2.4l0.3 1.9l0.2-1.8l0.3-1.2l0.3-2.5l0.3-2.4l0.2 3.1l0.3 1.7l0.3 4.3l0.3 4.3l0.3-1.8l0.3-2.6l0.2-1.4l0.4-1.7l0.3 2.2l0.3 1.5l0.4 0.6l0.3-2.8l0.3-2.5l0.3-2.5l0.2-1.3l0.3-3.8l0.3-3.6l0.3-0.6l0.3 0.3l0.3-2.3l0.3-2.1l0.3-2.9l0.3-1.8l0.3-5.4l0.3-5.6l0.3-5l0.3-7.7l0.3-8.1l0.4 6.5l0.3 4.8l0.3-1.1l0.3-1.1l0.3-1.3l0.3-0.3l0.3 2.1l0.3 1.2l0.3-1.2l0.3-0.4l0.2-0.9l0.4-1.9l0.3-1.5l0.3-0.9l0.4-0.9l0.3 1.4l0.3 2.5l0.4 1.1l0.3 1.8l0.3-1.1l0.3-2.1l0.3-0.4l0.3 1.7l0.3 1.8l0.4 1.8l0.3 1.8l0.3 1.4l0.4 1.6l0.3-0.5l0.3 0.6l0.3-0.9l0.4-1.4l0.3-0.6l0.3-2.3l0.4 1.8l0.3-0.4l0.3 0.5l0.4 1.8l0.3-0.2l0.3 0.1l0.4-0.9l0.3 0.7l0.3 1l0.3 0.8l0.4-0.4l0.3 0.3l0.3 2.9l0.3 0.1l0.2 1.8l0.3 4.3l0.3 0.5l0.3 3.6l0.2 2.3l0.3 0.8l0.3-0.2l0.3-0.1l0.2-1.2l0.3 0.2l0.3 1.5l0.3 3.2l0.2 0.5l0.3 1l0.3 1.2l0.3 1l0.2 0.5l0.3 2l0.3 0.4l0.3 1.2l0.2 1.5l0.3 1l0.3 2.9l0.3 1.6l0.2 3.4l0.3 2.3l0.3-2.3l0.3-1.9l0.2 0.1l0.3 0.2l0.3-0.9l0.3-2.2l0.2-0.7l0.3-0.7l0.3 0l0.3-2.6l0.3-1.1l0.2-1.4l0.3-2l0.3-1.9l0.3-2.9l0.2-2.1l0.3 1.6l0.3-0.9l0.3 0.5l0.2 0.1l0.3-0.9l0.3-1.3l0.3-0.2l0.2 0.9l0.3 0.3l0.3 2.5l0.3-1.2l0.2 0.6l0.3-1.1l0.3-1l0.3-1.8l0.2 0.8l0.3-0.5l0.3 2.6l0.3-0.7l0.2 1.4l0.3 0.3l0.3-1.5l0.3-2.3l0.2-0.7l0.4 9.4l0.3 8.4l0.3 2.6l0.3 2.8l0.3 3.3l0.3-0.1l0.2-0.6l0.3-0.9l0.3-0.7l0.3 2l0.3 2.8l0.3 4.1l0.3 4.2l0.3 4.3l0.3 1.5l0.3 1.1l0.3 3.9l0.3 2l0.3 2l0.3 0.2l0.3 2.9l0.3 1.4l0.3 2.4l0.3 4.4l0.3 2.9l0.3 4l0.2-2.4l0.3-4.7l0.3-3.6l0.3-4.6l0.3-4.4l0.3-6.5l0.3 0.2l0.3 1.2l0.3-1l0.3 0.8l0.3 2.4l0.2 1.4l0.3 1.7l0.3 1.3l0.3 1.4l0.2 2l0.3 2l0.3 1.6l0.3 2.7l0.2 1.9l0.3 2.3l0.3-1l0.3 2.3l0.2 1.2l0.3-0.9l0.3 1l0.3 0.6l0.2 1.1l0.3 1.8l0.3 1.5l0.3-0.1l0.2 1.3l0.3 1.3l0.3 1.3l0.4 0.3l0.3 0.8l0.3 2.2l0.4-0.4l0.3-2.2l0.3-1.3l0.4 0l0.3-2.1l0.3-2.7l0.3-1.8l0.4-3l0.3-0.5l0.3-0.7l0.4-2.1l0.3 1.1l0.3-2.7l0.4-2.2l0.3-2.1l0.3-1.2l0.3 2.3l0.3 2.3l0.3 4.6l0.2 4l0.3 1.7l0.3 2.8l0.3 3.5l0.2 1.2l0.3 0.2l0.3 0.4l0.3 1.5l0.2-0.6l0.3-0.6l0.3-1.7l0.3-1.3l0.2-0.2l0.3-4.7l0.3-3.2l0.3-2.5l0.2-4.7l0.3-1l0.3-1.5l0.3-1.3l0.2-1.2l0.3-1.4l0.3 0.8l0.3 0.7l0.2-0.7l0.3 1.1l0.3 0.1l0.3 0.5l0.2 1.1l0.3 1.6l0.3-0.4l0.3 0.9l0.2 1.3l0.3 2.7l0.3 3l0.3 2.1l0.2 2.3l0.3-1l0.3-0.6l0.3-1.5l0.2-2.1l0.4 1.5l0.3-0.3l0.3 0.9l0.3 0.6l0.3 1.1l0.3-1.4l0.4-1.5l0.3-1l0.3-0.5l0.3 1.7l0.3 3.2l0.2 2.5l0.3 2.3l0.3 2l0.3 1.1l0.2 2.8l0.3 2l0.3 1.3l0.3-1.3l0.3-0.4l0.4-0.1l0.3 0.3l0.2 1.3l0.3 1.1l0.3 1.2l0.3 2l0.2-0.4l0.3 0.7l0.3 1.4l0.3-0.6l0.2 3.7l0.3 2.3l0.3 3.3l0.3 2.5l0.2 1.3l0.3 2.8l0.3 3.1l0.3 2.2l0.2-3.3l0.3-1l0.3-4.3l0.3-0.3l0.2-0.4l0.3-0.2l0.3 2.1l0.3 0.4l0.2 0.9l0.3 1l0.3 0.8l0.3 1.2l0.3 0.3l0.2 1.7l0.3 0.9l0.3 1.2l0.3 0.9l0.2 2.8l0.3 1.5l0.3 1l0.3 0.6l0.2 1.3l0.3 1.2l0.3 0.9l0.3 1l0.2 2.1l0.3 0.4l0.3 0l0.3 1.3l0.2 2.4l0.3 2.4l0.3 3l0.3-2.6l0.2-2.3l0.3-2l0.3-2.8l0.3-1.9l0.2-1.2l0.3-1.9l0.3-1.5l0.3 1.2l0.2 0.6l0.3 1.2l0.3 2.7l0.3-2.2l0.2 0l0.3 1.2l0.3-1.6l0.3-1.4l0.2-1.5l0.3 0.5l0.3-0.7l0.3 2.5l0.2 0.9l0.3 1.3l0.3 1.8l0.3-1.6l0.3-1.5l0.3-1.4l0.3 0l0.3-0.6l0.4-0.7l0.3-0.6l0.3 0.4l0.4-1.4l0.3-0.9l0.3 0.2l0.3-0.7l0.3-0.2l0.3-0.1l0.3 0.6l0.3 0.5l0.3 0.5l0.3 0.1l0.3 0.2l0.4-1.2l0.3-1.2l0.3-0.7l0.4-0.2l0.3-1.1l0.3 0.1l0.3-1.1l0.3-0.4l0.3-1.3l0.3-0.6l0.3 0.9l0.2-2.2l0.3 0l0.3 1.6l0.3-0.3l0.2 1.2l0.3-0.1l0.3 3.5l0.3 2.4l0.2 3.4l0.3 1.1l0.3 1.9l0.3 0.8l0.2-0.1l0.3-0.6l0.3 0.1l0.3 1.3l0.2 0.8l0.3-0.1l0.3-0.2l0.3 1.5l0.3-0.2l0.2 0.9l0.3 1.5l0.3 1.2l0.3-0.2l0.2 2.3l0.3 1.7l0.3 2.7l0.3 1l0.2 1.9l0.3-1.9l0.3-0.6l0.3-1l0.2-0.3l0.3-2.6l0.3-1.3l0.3-1.3l0.3-0.9l0.3-0.3l0.3-1.8l0.3 1.8l0.3 0.2l0.3 1.5l0.3-0.6l0.3 0.4l0.3-0.3l0.3 1.7l0.3 1.6l0.2 1.6l0.3-1.2l0.3 0.1l0.3 0.6l0.3-0.6l0.3 0.1l0.3 1.7l0.3 1.5l0.3 0.1l0.3 0.8l0.3-1.5l0.3-2l0.4-1l0.3-1.3l0.3-1.6l0.3-2.5l0.3-4.3l0.3-2.6l0.3-3.9l0.3-1.8l0.3-1.1l0.3-2l0.3-1.7l0.2-5.1l0.3-4.2l0.3-4.5l0.3-6.5l0.3-6.7l0.3-6.3l0.3 2.6l0.3 4.7l0.3 1.8l0.3 7.2l0.3 6.3l0.3 6l0.3-4.1l0.3-5.2l0.3-4.8l0.2-1.9l0.3-0.8l0.3-1.9l0.3-1.4l0.2-2.8l0.3-2.4l0.3-2.5l0.3-2.3l0.2-2.5l0.3-2.9l0.3-2l0.3-1.6l0.2 1.8l0.3 1.5l0.3 2.1l0.3 0.2l0.2 4.1l0.3 2.2l0.3 4.1l0.3 2.2l0.2-2l0.3-2.2l0.3-2.5l0.3-1.5l0.2 1.8l0.3 1.6l0.3 1.2l0.3 1.5l0.3-0.1l0.2 2.5l0.3 1.8l0.3 1.1l0.3-2.4l0.2-1.3l0.3-0.8l0.3-0.7l0.3-1.8l0.2-1.5l0.3-1.4l0.3-0.7l0.3-3l0.2-2.9l0.3-2.7l0.3-3.2l0.3-2l0.2-3.7l0.3-1.6l0.3-2.1l0.3 0.1l0.2-0.8l0.3-3l0.3-1.2l0.3 1l0.2 0.5l0.3 1.2l0.3 0l0.3-0.3l0.2 1.5l0.3-0.2l0.3-0.7l0.3 1.8l0.2 0.7l0.3 1.5l0.3 1.2l0.3 1.8l0.2 0.5l0.3 2.3l0.3 1.3l0.3-0.9l0.2-1.8l0.3-1.4l0.3-2.1l0.3-1.1l0.2 0.1l0.3-1l0.3-0.8l0.3 1.1l0.3-0.2l0.2 0.5l0.3 1.2l0.3-0.9l0.3-1.1l0.2-2.3l0.3-1.1l0.3 2.6l0.3 1.1l0.2-0.7l0.3 0.4l0.3-0.4l0.3-1.3l0.2-0.5l0.3-1.2l0.3 0.7l0.3-0.4l0.2 1.3l0.3 0.5l0.3-1.2l0.3-0.4l0.2-1.2l0.3-0.3l0.3 1.7l0.3 1.2l0.2 1l0.3 0.2l0.3-2.2l0.3-1l0.2 0.1l0.3-0.3l0.3 0.7l0.3 0.9l0.2-0.8l0.3 2.5l0.3-1.3l0.3-1.5l0.2-1.9l0.3-2.1l0.3-1l0.3-2.4l0.2-2.8l0.3-2.2l0.3-1.7l0.3-0.6l0.2-2.2l0.3-0.8l0.3-2.5l0.3-1.9l0.3-0.6l0.2-1.7l0.3-1.2l0.3-1l0.3-1.8l0.2-0.1l0.4 4.4l0.3 2.1" fill="none" stroke="#640909" stroke-width="1.5" stroke-linejoin="miter" stroke-linecap="round"/>
<path d="M121.7 1042.2l0.3-5.7l0.3-6.7l0.3 0l0.3-0.5l0.4-0.6l0.3-0.9l0.3-3l0.3-3.6l0.3 0l0.3-1.1l0.2-2.3l0.3-1.8l0.3-0.3l0.3 0.6l0.3-1.2l0.3-1.8l0.2-0.2l0.3-0.3l0.3-2.3l0.3-0.2l0.2-1.8l0.5-12.9l0.3-3.9l0.2-4.5l0.3-5.7l0.3-3.6l0.3-3.2l0.3-1.1l0.4-3.6l0.3-1.9l0.3-4.2l0.3-4.5l0.2-3.7l0.3-4l0.3-1.9l0.3-3.5l0.3-3l0.3-0.7l0.3 1.7l0.4 1.1l0.3 1.4" fill="none" stroke="#ff0000" stroke-width="1.5" stroke-linejoin="miter" stroke-linecap="round"/>
<path d="M174.7 943.6l0.2-3.9l0.3-4.7l0.3 0.8l0.3 0.8l0.3 0.8" fill="none" stroke="#ff0000" stroke-width="1.5" stroke-linejoin="miter" stroke-linecap="round"/>
<path d="M218.3 1031.4l0.3-2.8l0.3-1.5l0.2-1l0.3-1.4l0.3 0l0.3-0.6l0.3-0.9l0.3 0.5l0.3 0.4l0.3-2.5l0.3 0.6l0.3-1.6l0.3 0.8l0.2 1.1l0.3 0.4" fill="none" stroke="#ff0000" stroke-width="1.5" stroke-linejoin="miter" stroke-linecap="round"/>
<path d="M228.5 1008.9l0.3-2l0.3-0.1" fill="none" stroke="#ff0000" stroke-width="1.5" stroke-linejoin="miter" stroke-linecap="round"/>
<path d="M270.4 1017.1l0.3-4.2l0.3-3.8l0.3-2.4l0.2-1.5l0.4-5.3l0.3-5.7l0.3-4.1l0.4-3.2l0.2-1.9l0.3-0.7l0.3-0.8l0.3-1.1l0.2-0.8l0.3-2.1l0.3 1.6l0.3-1.3l0.3 4.2l0.3 2.6" fill="none" stroke="#ff0000" stroke-width="1.5" stroke-linejoin="miter" stroke-linecap="round"/>
<path d="M301.2 987.4l0.3-1.4l0.3-3.8l0.3-4.1l0.3-3.8l0.3 1.2" fill="none" stroke="#ff0000" stroke-width="1.5" stroke-linejoin="miter" stroke-linecap="round"/>
<path d="M306.5 970.7l0.3 0.4l0.3 0l0.4 0.9" fill="none" stroke="#ff0000" stroke-width="1.5" stroke-linejoin="miter" stroke-linecap="round"/>
<path d="M384.5 1005.6l0.3-4.1l0.3 0.2l0.3 2.5l0.3 0.6l0.3-3l0.2-2l0.3-3.4l0.3-3l0.3-1.9l0.2-2.9l0.3-2.2l0.3-2.1l0.3-5.5l0.3-2l0.3-3.9l0.3 1.1l0.3 2.4l0.3 1.9l0.2-1.8l0.3-1.2l0.3-2.5l0.3-2.4" fill="none" stroke="#ff0000" stroke-width="1.5" stroke-linejoin="miter" stroke-linecap="round"/>
<path d="M397.3 956.5l0.3-1.8l0.3-5.4l0.3-5.6l0.3-5l0.3-7.7l0.3-8.1l0.4 6.5l0.3 4.8" fill="none" stroke="#ff0000" stroke-width="1.5" stroke-linejoin="miter" stroke-linecap="round"/>
<path d="M524.3 1068.9l0.3-1.7l0.2-5.1l0.3-4.2l0.3-4.5l0.3-6.5l0.3-6.7l0.3-6.3l0.3 2.6l0.3 4.7l0.3 1.8l0.3 7.2l0.3 6.3l0.3 6l0.3-4.1l0.3-5.2l0.3-4.8l0.2-1.9l0.3-0.8l0.3-1.9l0.3-1.4l0.2-2.8l0.3-2.4l0.3-2.5l0.3-2.3l0.2-2.5l0.3-2.9l0.3-2l0.3-1.6l0.2 1.8" fill="none" stroke="#ff0000" stroke-width="1.5" stroke-linejoin="miter" stroke-linecap="round"/>
<path d="M561.7 1000.4l0.3-2.2l0.3-1.7l0.3-0.6l0.2-2.2l0.3-0.8l0.3-2.5l0.3-1.9l0.3-0.6l0.2-1.7l0.3-1.2l0.3-1l0.3-1.8l0.2-0.1l0.4 4.4l0.3 2.1" fill="none" stroke="#ff0000" stroke-width="1.5" stroke-linejoin="miter" stroke-linecap="round"/>
<path d="M157.9 965.2l0.2 2.1l0.3 1.5l0.3 2.4l0.3-2.1l0.3 0.4" fill="none" stroke="#00b0f0" stroke-width="1.5" stroke-linejoin="miter" stroke-linecap="round"/>
<path d="M163.9 976.9l0.3-0.2l0.3 0l0.4 2.3" fill="none" stroke="#00b0f0" stroke-width="1.5" stroke-linejoin="miter" stroke-linecap="round"/>
<path d="M184.6 1005.2l0.3-0.3l0.2 1l0.3 6.4l0.3 6l0.3 5.8l0.2 6.5l0.4 16.5l0.3 14.3l0.3-4l0.3-2.9l0.3-6.9l0.3 1.7l0.3 2.6l0.3 0.1l0.3 4.6l0.3 5.9l0.3 4.2l0.2 2.2l0.3 3.8l0.3-0.2l0.3 3.3" fill="none" stroke="#00b0f0" stroke-width="1.5" stroke-linejoin="miter" stroke-linecap="round"/>
<path d="M243.9 1031.3l0.3 2.8l0.3-2.8l0.3-0.2l0.3-1.8" fill="none" stroke="#00b0f0" stroke-width="1.5" stroke-linejoin="miter" stroke-linecap="round"/>
<path d="M252.1 1040.5l0.3 1.5l0.2 1.7l0.3 2.4l0.3 1.4l0.3 3.1" fill="none" stroke="#00b0f0" stroke-width="1.5" stroke-linejoin="miter" stroke-linecap="round"/>
<path d="M314.4 1010.7l0.2 1.8l0.3 0.9l0.3 0.5l0.3 0.2l0.2-1" fill="none" stroke="#00b0f0" stroke-width="1.5" stroke-linejoin="miter" stroke-linecap="round"/>
<path d="M317.1 1019.6l0.3 3.4l0.3-0.3l0.3 1.2l0.3 0.2l0.3 2.8" fill="none" stroke="#00b0f0" stroke-width="1.5" stroke-linejoin="miter" stroke-linecap="round"/>
<path d="M336.9 1032.6l0.3 1.9l0.3 0.4l0.3 0.7l0.2 2.1l0.3 1.1" fill="none" stroke="#00b0f0" stroke-width="1.5" stroke-linejoin="miter" stroke-linecap="round"/>
<path d="M341.8 1041.3l0.3 0.8l0.3 1.3" fill="none" stroke="#00b0f0" stroke-width="1.5" stroke-linejoin="miter" stroke-linecap="round"/>
<path d="M342.1 1042.1l0.3 1.3l0.3 0.1" fill="none" stroke="#00b0f0" stroke-width="1.5" stroke-linejoin="miter" stroke-linecap="round"/>
<path d="M373.6 1027.4l0.3 0.6l0.3-0.5l0.3 0.3l0.4-0.2l0.3-0.8l0.3 0.5l0.3 0.7l0.3 1.4l0.3 1.6l0.3-1.4l0.3 0.4" fill="none" stroke="#00b0f0" stroke-width="1.5" stroke-linejoin="miter" stroke-linecap="round"/>
<path d="M418 959.5l0.3 1l0.3 1.2l0.3 1l0.2 0.5l0.3 2l0.3 0.4l0.3 1.2l0.2 1.5l0.3 1l0.3 2.9l0.3 1.6l0.2 3.4l0.3 2.3l0.3-2.3l0.3-1.9l0.2 0.1" fill="none" stroke="#00b0f0" stroke-width="1.5" stroke-linejoin="miter" stroke-linecap="round"/>
<path d="M435.9 983.6l0.3 4.1l0.3 4.2l0.3 4.3l0.3 1.5l0.3 1.1l0.3 3.9l0.3 2l0.3 2l0.3 0.2l0.3 2.9l0.3 1.4l0.3 2.4l0.3 4.4l0.3 2.9l0.3 4l0.2-2.4l0.3-4.7" fill="none" stroke="#00b0f0" stroke-width="1.5" stroke-linejoin="miter" stroke-linecap="round"/>
<path d="M473.1 1036.9l0.3 2l0.3 1.3" fill="none" stroke="#00b0f0" stroke-width="1.5" stroke-linejoin="miter" stroke-linecap="round"/>
<path d="M476.1 1044.3l0.2-0.4l0.3 0.7l0.3 1.4l0.3-0.6l0.2 3.7l0.3 2.3l0.3 3.3l0.3 2.5l0.2 1.3l0.3 2.8l0.3 3.1l0.3 2.2" fill="none" stroke="#00b0f0" stroke-width="1.5" stroke-linejoin="miter" stroke-linecap="round"/>
<path d="M485.7 1076.9l0.3 0.9l0.3 1l0.2 2.1l0.3 0.4" fill="none" stroke="#00b0f0" stroke-width="1.5" stroke-linejoin="miter" stroke-linecap="round"/>
<path d="M511.1 1085.9l0.2 2.3l0.3 1.7l0.3 2.7l0.3 1l0.2 1.9l0.3-1.9l0.3-0.6l0.3-1" fill="none" stroke="#00b0f0" stroke-width="1.5" stroke-linejoin="miter" stroke-linecap="round"/>
<path d="M113.5 1057.5l3.3 2.2l3.3 1.1l3.3-1.1l3.3-5.5l3.3-12.1l3.3-19.9l3.4-19.8l3.3-17.6l3.3-15.5l3.3-12.1l3.3-7.7l3.3-4.4l3.3 1.1l3.3 2.2l3.3 3.3l3.3 3.3l3.3 4.4l3.3 2.9l3.3 0.4l3.3-1.7l3.3-0.5l3.3 4.4l3.4 11.1l3.3 13.2l3.3 15.4l3.3 22.1l3.3 17.6l3.3 11l3.3 5.5l3.3 1.6l3.3-2.7l3.3-6.6l3.3-6.6l3.3-4.4l3.3-4.4l3.3-6.6l3.3-6.6l3.3-5.6l3.4-2.8l3.3-0.5l3.3 1.1l3.3 2.2l3.3 5.6l3.3 5.5l3.3 4.4l3.3 2.8l3.3 1.6l3.3 0l3.3-5.5l3.3-8.8l3.3-11.1l3.3-11l3.3-8.8l3.3-3.3l3.3-1.1l3.4-0.7l3.3-0.4l3.3-1.1l3.3-0.7l3.3 0.7l3.3 3.3l3.3 4.4l3.3 5.5l3.3 6.6l3.3 5.5l3.3 5.5l3.3 4l3.3 2.7l3.3 2.2l4.4 2.6l4.4 1.3l4.4 0.5l4.4-1.8l3.4-2.6l3.3-3.4l3.3-3.3l2.2-2.2l3.3-0.4l3.3 1.5l3.3 2.7l3.3 0.2l3.3-2.9l3.3-5.5l3.3-7.7l3.3-11l2.2-9.9l2.2-11l2.2-8.9l2.2-8.8l2.2-4.4l2.2-3.3l2.2-3.3l2.2-2.2l2.3-0.7l2.2 1.1l2.2 2.9l2.2 3.3l3.3 3.3l3.3 3.3l2.2 2.7l2.2 5l2.2 5.5l2.2 5.6l3.3 5.5l3.3 5.5l2.2 5.5l2.2 8.8l2.2 6.6l2.2 5.5l2.2 4.4l3.3 3.3l3.3 1.8l3.3 0.4l3.4 1.1l3.3 1.6l3.3 2.9l3.3 4.4l3.3 4.4l2.2 5.5l2.2 6.6l2.2 6.6l2.2 5.5l2.2 4.4l3.3 4.4l3.3 2.9l3.3 1.5l3.3 2.2l3.3 1.1l3.3 1.2l3.3 1.5l3.3 1.3l3.4 0.5l3.3-1.1l3.3-3.4l3.3-6.6l3.3-8.8l3.3-11l3.3-11l3.3-8.8l3.3-5.5l3.3-4.5l3.3-3.3l3.3-3.3l3.3-3.3l1.8-1.1" fill="none" stroke="#000" stroke-width="1.2" stroke-linejoin="miter" stroke-linecap="butt" stroke-dasharray="4.5 3.2"/>
<text x="283.6" y="860.0" fill="#000" text-anchor="start" font-weight="bold" textLength="107.4" lengthAdjust="spacing" xml:space="preserve" style="white-space:pre"><tspan font-family='"Liberation Sans", "Noto Serif CJK SC", serif' font-size="9.6">十年期国债到期收益率</tspan></text>
<rect x="171" y="870.3" width="17" height="6" fill="#d9d9d9"/>
<text x="190.9" y="876.6" font-size="10.5" font-family='"Liberation Sans", "Noto Sans CJK SC", sans-serif' fill="#000" text-anchor="start" xml:space="preserve" style="white-space:pre">+2STD</text>
<text x="319.2" y="876.6" font-size="10.5" font-family='"Liberation Sans", "Noto Sans CJK SC", sans-serif' fill="#000" text-anchor="start" xml:space="preserve" style="white-space:pre">-2STD</text>
<line x1="428.7" y1="873.0" x2="446.1" y2="873.0" stroke="#640909" stroke-width="1.5"/>
<text x="447.8" y="876.6" font-size="10.5" font-family='"Liberation Sans", "Noto Sans CJK SC", sans-serif' fill="#000" text-anchor="start" xml:space="preserve" style="white-space:pre">Yield  3.89</text>
<line x1="170.7" y1="890.0" x2="188.5" y2="890.0" stroke="#ff0000" stroke-width="1.5"/>
<text x="190.9" y="893.8" font-size="10.5" font-family='"Liberation Sans", "Noto Sans CJK SC", sans-serif' fill="#000" text-anchor="start" xml:space="preserve" style="white-space:pre">&gt;200D MA+2STD</text>
<line x1="299.7" y1="890.0" x2="317.2" y2="890.0" stroke="#00b0f0" stroke-width="1.5"/>
<text x="319.2" y="893.8" font-size="10.5" font-family='"Liberation Sans", "Noto Sans CJK SC", sans-serif' fill="#000" text-anchor="start" xml:space="preserve" style="white-space:pre">&lt;200D MA-2STD</text>
<line x1="428.7" y1="890.0" x2="446.1" y2="890.0" stroke="#000" stroke-width="1.2" stroke-dasharray="4 3"/>
<text x="447.8" y="893.8" font-size="10.5" font-family='"Liberation Sans", "Noto Sans CJK SC", sans-serif' fill="#000" text-anchor="start" xml:space="preserve" style="white-space:pre">200D MA  3.67</text>
<line x1="625.5" y1="1115.5" x2="1077.4" y2="1115.5" stroke="#f5f5f5" stroke-width="1"/>
<line x1="625.5" y1="1085.5" x2="1077.4" y2="1085.5" stroke="#f5f5f5" stroke-width="1"/>
<line x1="625.5" y1="1056.5" x2="1077.4" y2="1056.5" stroke="#f5f5f5" stroke-width="1"/>
<line x1="625.5" y1="1027.5" x2="1077.4" y2="1027.5" stroke="#f5f5f5" stroke-width="1"/>
<line x1="625.5" y1="998.5" x2="1077.4" y2="998.5" stroke="#f5f5f5" stroke-width="1"/>
<line x1="625.5" y1="969.5" x2="1077.4" y2="969.5" stroke="#f5f5f5" stroke-width="1"/>
<line x1="625.5" y1="940.5" x2="1077.4" y2="940.5" stroke="#f5f5f5" stroke-width="1"/>
<line x1="625.5" y1="910.5" x2="1077.4" y2="910.5" stroke="#f5f5f5" stroke-width="1"/>
<line x1="625.5" y1="881.5" x2="1077.4" y2="881.5" stroke="#f5f5f5" stroke-width="1"/>
<line x1="625.5" y1="852.5" x2="1077.4" y2="852.5" stroke="#f5f5f5" stroke-width="1"/>
<line x1="625.5" y1="852.0" x2="625.5" y2="1144.5" stroke="#cccccc" stroke-width="1"/>
<line x1="621.8" y1="1144.5" x2="1077.4" y2="1144.5" stroke="#b5b5b5" stroke-width="1"/>
<line x1="621.8" y1="1144.5" x2="625.5" y2="1144.5" stroke="#cccccc" stroke-width="1"/>
<line x1="621.8" y1="1115.5" x2="625.5" y2="1115.5" stroke="#cccccc" stroke-width="1"/>
<line x1="621.8" y1="1085.5" x2="625.5" y2="1085.5" stroke="#cccccc" stroke-width="1"/>
<line x1="621.8" y1="1056.5" x2="625.5" y2="1056.5" stroke="#cccccc" stroke-width="1"/>
<line x1="621.8" y1="1027.5" x2="625.5" y2="1027.5" stroke="#cccccc" stroke-width="1"/>
<line x1="621.8" y1="998.5" x2="625.5" y2="998.5" stroke="#cccccc" stroke-width="1"/>
<line x1="621.8" y1="969.5" x2="625.5" y2="969.5" stroke="#cccccc" stroke-width="1"/>
<line x1="621.8" y1="940.5" x2="625.5" y2="940.5" stroke="#cccccc" stroke-width="1"/>
<line x1="621.8" y1="910.5" x2="625.5" y2="910.5" stroke="#cccccc" stroke-width="1"/>
<line x1="621.8" y1="881.5" x2="625.5" y2="881.5" stroke="#cccccc" stroke-width="1"/>
<line x1="621.8" y1="852.5" x2="625.5" y2="852.5" stroke="#cccccc" stroke-width="1"/>
<line x1="625.5" y1="1144.5" x2="625.5" y2="1148.2" stroke="#b5b5b5" stroke-width="1"/>
<line x1="667.5" y1="1144.5" x2="667.5" y2="1148.2" stroke="#b5b5b5" stroke-width="1"/>
<line x1="708.5" y1="1144.5" x2="708.5" y2="1148.2" stroke="#b5b5b5" stroke-width="1"/>
<line x1="749.5" y1="1144.5" x2="749.5" y2="1148.2" stroke="#b5b5b5" stroke-width="1"/>
<line x1="790.5" y1="1144.5" x2="790.5" y2="1148.2" stroke="#b5b5b5" stroke-width="1"/>
<line x1="832.5" y1="1144.5" x2="832.5" y2="1148.2" stroke="#b5b5b5" stroke-width="1"/>
<line x1="873.5" y1="1144.5" x2="873.5" y2="1148.2" stroke="#b5b5b5" stroke-width="1"/>
<line x1="914.5" y1="1144.5" x2="914.5" y2="1148.2" stroke="#b5b5b5" stroke-width="1"/>
<line x1="956.5" y1="1144.5" x2="956.5" y2="1148.2" stroke="#b5b5b5" stroke-width="1"/>
<line x1="997.5" y1="1144.5" x2="997.5" y2="1148.2" stroke="#b5b5b5" stroke-width="1"/>
<line x1="1038.5" y1="1144.5" x2="1038.5" y2="1148.2" stroke="#b5b5b5" stroke-width="1"/>
<text x="611.2" y="1119.0" font-size="10.8" font-family='"Liberation Sans", "Noto Sans CJK SC", sans-serif' fill="#000" text-anchor="end" xml:space="preserve" style="white-space:pre">0.1</text>
<text x="611.2" y="1089.9" font-size="10.8" font-family='"Liberation Sans", "Noto Sans CJK SC", sans-serif' fill="#000" text-anchor="end" xml:space="preserve" style="white-space:pre">0.2</text>
<text x="611.2" y="1060.7" font-size="10.8" font-family='"Liberation Sans", "Noto Sans CJK SC", sans-serif' fill="#000" text-anchor="end" xml:space="preserve" style="white-space:pre">0.3</text>
<text x="611.2" y="1031.5" font-size="10.8" font-family='"Liberation Sans", "Noto Sans CJK SC", sans-serif' fill="#000" text-anchor="end" xml:space="preserve" style="white-space:pre">0.4</text>
<text x="611.2" y="1002.3" font-size="10.8" font-family='"Liberation Sans", "Noto Sans CJK SC", sans-serif' fill="#000" text-anchor="end" xml:space="preserve" style="white-space:pre">0.5</text>
<text x="611.2" y="973.2" font-size="10.8" font-family='"Liberation Sans", "Noto Sans CJK SC", sans-serif' fill="#000" text-anchor="end" xml:space="preserve" style="white-space:pre">0.6</text>
<text x="611.2" y="944.0" font-size="10.8" font-family='"Liberation Sans", "Noto Sans CJK SC", sans-serif' fill="#000" text-anchor="end" xml:space="preserve" style="white-space:pre">0.7</text>
<text x="611.2" y="914.8" font-size="10.8" font-family='"Liberation Sans", "Noto Sans CJK SC", sans-serif' fill="#000" text-anchor="end" xml:space="preserve" style="white-space:pre">0.8</text>
<text x="611.2" y="885.7" font-size="10.8" font-family='"Liberation Sans", "Noto Sans CJK SC", sans-serif' fill="#000" text-anchor="end" xml:space="preserve" style="white-space:pre">0.9</text>
<text x="611.2" y="856.5" font-size="10.8" font-family='"Liberation Sans", "Noto Sans CJK SC", sans-serif' fill="#000" text-anchor="end" xml:space="preserve" style="white-space:pre">1.0</text>
<text x="609.5" y="1147.0" font-size="10.8" font-family='"Liberation Sans", "Noto Sans CJK SC", sans-serif' fill="#000" text-anchor="end" xml:space="preserve" style="white-space:pre">-</text>
<text x="625.7" y="1164.0" font-size="10.8" font-family='"Liberation Sans", "Noto Sans CJK SC", sans-serif' fill="#000" text-anchor="middle" xml:space="preserve" style="white-space:pre">2007</text>
<text x="667.0" y="1164.0" font-size="10.8" font-family='"Liberation Sans", "Noto Sans CJK SC", sans-serif' fill="#000" text-anchor="middle" xml:space="preserve" style="white-space:pre">2008</text>
<text x="708.3" y="1164.0" font-size="10.8" font-family='"Liberation Sans", "Noto Sans CJK SC", sans-serif' fill="#000" text-anchor="middle" xml:space="preserve" style="white-space:pre">2009</text>
<text x="749.6" y="1164.0" font-size="10.8" font-family='"Liberation Sans", "Noto Sans CJK SC", sans-serif' fill="#000" text-anchor="middle" xml:space="preserve" style="white-space:pre">2010</text>
<text x="790.9" y="1164.0" font-size="10.8" font-family='"Liberation Sans", "Noto Sans CJK SC", sans-serif' fill="#000" text-anchor="middle" xml:space="preserve" style="white-space:pre">2011</text>
<text x="832.2" y="1164.0" font-size="10.8" font-family='"Liberation Sans", "Noto Sans CJK SC", sans-serif' fill="#000" text-anchor="middle" xml:space="preserve" style="white-space:pre">2012</text>
<text x="873.5" y="1164.0" font-size="10.8" font-family='"Liberation Sans", "Noto Sans CJK SC", sans-serif' fill="#000" text-anchor="middle" xml:space="preserve" style="white-space:pre">2013</text>
<text x="914.8" y="1164.0" font-size="10.8" font-family='"Liberation Sans", "Noto Sans CJK SC", sans-serif' fill="#000" text-anchor="middle" xml:space="preserve" style="white-space:pre">2014</text>
<text x="956.1" y="1164.0" font-size="10.8" font-family='"Liberation Sans", "Noto Sans CJK SC", sans-serif' fill="#000" text-anchor="middle" xml:space="preserve" style="white-space:pre">2015</text>
<text x="997.4" y="1164.0" font-size="10.8" font-family='"Liberation Sans", "Noto Sans CJK SC", sans-serif' fill="#000" text-anchor="middle" xml:space="preserve" style="white-space:pre">2016</text>
<text x="1038.7" y="1164.0" font-size="10.8" font-family='"Liberation Sans", "Noto Sans CJK SC", sans-serif' fill="#000" text-anchor="middle" xml:space="preserve" style="white-space:pre">2017</text>
<line x1="633.6" y1="912.3" x2="1077.4" y2="912.3" stroke="#a3a3a3" stroke-width="2" stroke-dasharray="6.3 5"/>
<line x1="633.6" y1="940.9" x2="1077.4" y2="940.9" stroke="#a3a3a3" stroke-width="2" stroke-dasharray="6.3 5"/>
<line x1="633.6" y1="1054.9" x2="1077.4" y2="1054.9" stroke="#a3a3a3" stroke-width="2" stroke-dasharray="6.3 5"/>
<line x1="633.6" y1="1083.8" x2="1077.4" y2="1083.8" stroke="#a3a3a3" stroke-width="2" stroke-dasharray="6.3 5"/>
<line x1="626.2" y1="998.2" x2="1077.4" y2="998.2" stroke="#c8975a" stroke-width="2" stroke-dasharray="17.5 5" stroke-dashoffset="7.2"/>
<path d="M625.3 998.7l0.3 2.6l0.2 3.7l0.3 3l0.3 3.3l0.2 1.2l0.3 2.7l0.3 2.1l0.2 0.7l0.3 4.5l0.3 2l0.2 1.5l0.3 3.2l0.3 1.7l0.2 2.2l0.3 3.7l0.3 1.9l0.2-0.2l0.2-3.2l0.2-1.8l0.3 3.8l0.3 2l0.2 5.1l0.3 1.7l0.2 2l0.3-1l0.3 2.3l0.2 1.9l0.3-2.8l0.3-0.6l0.3 0.1l0.2-0.3l0.3 3.3l0.2 0.1l0.3 3.6l0.2 4.5l0.3 0.6l0.2 1.9l0.3-0.8l0.2 1.4l0.3 1.5l0.2 3l0.3 1l0.2 2.4l0.3 1l0.2 0.5l0.3 1.8l0.2 1.8l0.2 0.8l0.3 2.1l0.2 0l0.3 1.7l0.2 1.9l0.3 0.2l0.2 1.4l0.2 1.2l0.3-0.4l0.2 3.7l0.3 0.5l0.2 1.8l0.3-2.5l0.2 3.7l0.2 0.9l0.3 0.6l0.2 1.8l0.3 2.8l0.2-0.8l0.3 3.3l0.2-1.8l0.3 1.6l0.2 0l0.3 0.9l0.2-0.1l0.3-1.9l0.2 0.2l0.3 1.4l0.2 0.1l0.3 0.7l0.2-0.4l0.3-1.5l0.3 0l0.3-3l0.2-0.9l0.3-2.2l0.2-0.3l0.3 1.3l0.2-0.7l0.2 0.3l0.3-1.1l0.2 0.1l0.3 0.9l0.2 0.1l0.3 0.2l0.2 1.2l0.2 0.4l0.3-1.3l0.2 2.7l0.3 2.8l0.2 0.5l0.3-0.1l0.2-0.4l0.3 0.5l0.2 0.3l0.3 1.3l0.2-0.3l0.3-0.5l0.2-1.4l0.3 0.5l0.2 0l0.2 3.1l0.3 0.4l0.2 0l0.3 2.3l0.2 1.6l0.3-0.7l0.2-2l0.2 1.9l0.3-0.7l0.2 1.1l0.3-1.2l0.2 0.1l0.3 0.4l0.2-0.3l0.3-0.2l0.2 2.3l0.2-0.1l0.3 2l0.2 0.5l0.3-0.3l0.3 0.4l0.2-0.7l0.3-0.1l0.3 0.4l0.2 0.2l0.3-0.7l0.3 1.2l0.2-0.3l0.3 1l0.3-1.9l0.2 2l0.3-1.6l0.3 0l0.2-0.7l0.3-2.8l0.3-0.7l0.2 0.9l0.3 0.5l0.2-1.7l0.3 0.6l0.3-0.4l0.2-2.3l0.3 0.5l0.3-0.4l0.2-1.6l0.3 1.5l0.3 0.4l0.2-0.1l0.3-0.8l0.3 0.5l0.2 2.3l0.3-0.3l0.3-0.6l0.2 0.1l0.3 2.4l0.3 2.3l0.2-1.5l0.3 0l0.3 1.6l0.2 1.1l0.3-0.9l0.2 0.5l0.2 1.8l0.3-1.4l0.2-0.4l0.3-1.4l0.2-1l0.3-1.8l0.2-2.9l0.3-1l0.2-0.3l0.2-2.9l0.3-0.3l0.2 0.2l0.3 2.8l0.2-0.4l0.3-0.9l0.2 2.1l0.2 1l0.3-1.6l0.2-0.4l0.3-0.6l0.2-0.1l0.3-1.1l0.2-0.5l0.3-1.7l0.2-0.6l0.3-0.3l0.2-0.9l0.3-1.5l0.2-2.6l0.3 0.4l0.2-0.6l0.2-0.5l0.3 1.2l0.2-1.3l0.3-1.4l0.2-0.6l0.2-2.5l0.3-0.1l0.2-0.2l0.3 0.4l0.2 0l0.3 0.3l0.2-0.9l0.3-2.1l0.2-1.3l0.3-2.9l0.3-1.6l0.2 3.4l0.3 4.6l0.3 3l0.2 1.4l0.3 1.4l0.2 0.7l0.3 0.1l0.2 1l0.3-0.3l0.2 0.9l0.3-1.2l0.2-2.3l0.3-0.6l0.2-0.1l0.3 0.7l0.2-2.5l0.3-3l0.2-4.3l0.3-2.8l0.2-3.9l0.3-1.1l0.3-2.8l0.2-5.6l0.3-2.7l0.3 0.9l0.2 0.1l0.3 1l0.2-0.5l0.3 1.6l0.2-0.7l0.3-2.5l0.2-0.2l0.3-1.4l0.2-1.3l0.3-1.1l0.2 1.9l0.3 0.9l0.3 2.2l0.2 2.5l0.3-1.8l0.2-1.9l0.3-0.6l0.2-2.6l0.3-0.8l0.2-1.1l0.2 0.6l0.3-1.8l0.2-1.9l0.3-4.6l0.2-1l0.3-1.4l0.2-3.3l0.3 0l0.3-2.7l0.2-1l0.3-3.4l0.3-6l0.2-1.3l0.3-3.7l0.2-3.1l0.3-2.4l0.3-5l0.2-2.1l0.3-4.5l0.3-4.4l0.3-5.7l0.3-6.5l0.2 6.5l0.3 7.1l0.3 6.3l0.3-7.2l0.3-3.3l0.3-4.3l0.2-13.6l0.3-14.6l0.3-13.5l0.3-0.8l0.3-1.3l0.3-4l0.2-7.7l0.3-6.6l0.3-7.9l0.3-1.3l0.3-3.1l0.3-1.3l0.2 2.3l0.3 4.8l0.3 6.1l0.3 4.6l0.3 7.2l0.2 9l0.3-7l0.3-6.5l0.3-6.3l0.3 6.9l0.2 7.5l0.3 9.4l0.3 7.7l0.2-7l0.3-5.7l0.3-6.5l0.2-3.8l0.3-8.6l0.3-8.4l0.3-8.2l0.2-2.4l0.3 0.2l0.2-0.9l0.3-0.3l0.2-2l0.3 4l0.3 3.1l0.3 4.4l0.3 7.7l0.3 10.5l0.2 7.5l0.3 6.6l0.3 7.4l0.3 6.9l0.3 6l0.3 7.4l0.2 6.8l0.3 1.3l0.3 4l0.3 4.8l0.2 0l0.3 1.4l0.3-1l0.2-3.6l0.3 0.6l0.2-5.2l0.3-5.2l0.3-5.9l0.3 3.4l0.2 3.1l0.3 0.6l0.2 3.1l0.3 1l0.3 1.9l0.3 4l0.2 1.7l0.3 1.8l0.3 0.1l0.2 2.3l0.3 3.4l0.3 1.4l0.2 1.7l0.3 2.5l0.3 1.2l0.2-2.9l0.3-0.8l0.2-0.4l0.3-1l0.2-3.7l0.3 2.5l0.2 4.3l0.3 0.4l0.2 2.4l0.3 2.7l0.2-0.6l0.3 0.4l0.2-0.4l0.3 0.1l0.2-0.1l0.3-1.8l0.2 1.5l0.3 0.1l0.2 0.9l0.3-1.7l0.2 1.2l0.3 1.4l0.2 1.4l0.3 3l0.2 2.5l0.3 2.5l0.2 1.3l0.3 0.4l0.3 2.3l0.2 1.7l0.3 1.1l0.2 2.4l0.3-0.6l0.2 3.7l0.3 2.6l0.2 3.2l0.3 1.3l0.2 1.8l0.3 5.9l0.2 0.8l0.3 5.2l0.3 3.7l0.2 1.6l0.3 1.4l0.2 0l0.3 1.9l0.2 3l0.3 0.6l0.3 2l0.2-0.5l0.3 0.6l0.2 0l0.3-0.5l0.2-1.9l0.3-1.4l0.2-2.6l0.3 0.3l0.2-3.3l0.3-3.4l0.2-1.4l0.3-1.5l0.2-1.9l0.3-2.4l0.2 1.8l0.3 1.9l0.2 0.8l0.3 1.7l0.2 1.7l0.3 3.8l0.2-2.5l0.2 0.9l0.3-1.1l0.2-0.6l0.3 1l0.2-0.9l0.3-3.1l0.2 0.4l0.3 0.1l0.2 2.8l0.3 3.1l0.2 2.8l0.3-0.9l0.2-0.1l0.3 2.6l0.3-0.4l0.2-0.1l0.2-9.9l0.2-12.7l0.2-11.5l0.3 3.8l0.3 4.8l0.2 4.2l0.3 4.2l0.3 0.1l0.2 0.3l0.3 1.4l0.2-0.6l0.3 1l0.2-1l0.3-1.7l0.2-1.6l0.3-2.2l0.3-2.6l0.2 1.6l0.3 2.5l0.2 1.5l0.3 1.7l0.2 1.1l0.3-3.6l0.2-2.4l0.3-1.7l0.2-1.3l0.3 0.2l0.2-1.2l0.3 3l0.2 1l0.3 0.1l0.2 1.8l0.2 0l0.3 1.2l0.2-0.7l0.3 1.5l0.2 0.7l0.3-0.3l0.2 1.9l0.3 1l0.2 0.7l0.2-3l0.3-2l0.2 0.7l0.3-2.1l0.2-2.2l0.2-0.7l0.3-1.2l0.2-2.4l0.3 0l0.2-1.5l0.3-0.4l0.2-0.7l0.2-3l0.3-0.6l0.2 0.6l0.3 0.7l0.2 0l0.3 2l0.2 1l0.2-2l0.3-0.1l0.2-0.1l0.3 0.4l0.3-0.5l0.2-0.3l0.3-0.6l0.2 3.6l0.3-1.1l0.2 1.1l0.3 0.6l0.2 0.1l0.3 7l0.3 5.3l0.3 8.2l0.2 0.3l0.3-0.3l0.2 1.3l0.3 1.2l0.2 0.3l0.2 0.6l0.3 0.6l0.2-2.3l0.3-3l0.2-2.3l0.3 0.6l0.2-0.6l0.3-3.7l0.2-0.9l0.3-0.7l0.2-2l0.3-1.7l0.2-0.8l0.3-2.5l0.2-2.7l0.3-2.7l0.2-1.2l0.3-1.2l0.2-1.9l0.3 0.8l0.2 0l0.3-0.6l0.2-0.4l0.3-1l0.2-1.3l0.3 0.8l0.2 1.2l0.3 0.2l0.3 0.1l0.2 2.4l0.3-0.9l0.2-2.1l0.3 0.5l0.2-2.5l0.3-1l0.3-2.9l0.2-2.2l0.3-1.7l0.2-3.7l0.3-2.6l0.3-0.2l0.2-1.2l0.3-1.7l0.2 2.4l0.3 2.1l0.3 1.9l0.2 4.8l0.3-2.2l0.3-0.3l0.2-0.8l0.3 0l0.2 0.8l0.3-0.8l0.2 0.5l0.3 1.6l0.2 0.6l0.3 1.6l0.2-0.2l0.2-2.6l0.3 0.4l0.2 0.4l0.3 1l0.2-1.1l0.3-1l0.2-0.4l0.3 2.4l0.2 1.3l0.3-0.9l0.2 1.4l0.2 0.9l0.3 2.2l0.2-0.1l0.3-0.8l0.2-0.9l0.3-1.4l0.2 0.9l0.2-0.5l0.3-0.1l0.2 0.3l0.3 1.7l0.2 1.5l0.3 1.9l0.2 1.8l0.3 2.1l0.2 2.6l0.3 3.3l0.3 1.3l0.2 4.3l0.3 1.4l0.2 2.3l0.3 1.2l0.2 0.4l0.2 2.4l0.3 3.3l0.2 1.3l0.3-2.2l0.2-1.4l0.3-2l0.2-2.1l0.3 0.1l0.2-0.6l0.3 0l0.2-0.3l0.3 3.5l0.2-0.3l0.3-0.2l0.2-0.8l0.2-1.8l0.3-0.1l0.2-1.1l0.3 0l0.2-1.3l0.3 0.5l0.2 0.4l0.3-0.1l0.2 1.2l0.3 1.3l0.3-1.7l0.2-0.1l0.3-0.5l0.2 1.9l0.2 0.4l0.3 0.6l0.2-1.5l0.3 1.1l0.3-0.7l0.2-1.2l0.3-1.7l0.2-0.8l0.3 1.9l0.2 0.9l0.3 1.2l0.2 1.3l0.3 0.6l0.2 1.9l0.3 2.4l0.2-1.2l0.3-0.2l0.3 0.5l0.2 1.5l0.3 0.1l0.3 0.2l0.2 0.7l0.3-0.7l0.3-0.8l0.2 0.7l0.3-0.7l0.3 0l0.2-2l0.3 0.2l0.2-1.8l0.3 0.4l0.3-1.3l0.2-0.7l0.3 0.1l0.3 0.3l0.2 0.3l0.3 1.4l0.3 0.2l0.2 1.7l0.3-2.5l0.2 2l0.3-0.8l0.2 1.2l0.3 0.6l0.2-1l0.2 0.6l0.3-0.8l0.2-0.7l0.3 0l0.2-1.1l0.3 0l0.2-2.1l0.2-0.4l0.3-1l0.2-3.2l0.3 0.2l0.2 1.4l0.3-2.1l0.2 1.5l0.2-1.1l0.3-0.8l0.2 0.4l0.3-2.4l0.2-1l0.3-0.9l0.2-1.5l0.3 0.2l0.2-2l0.3-1.2l0.2-1.2l0.3-0.6l0.2-1.1l0.3-0.8l0.2-2.7l0.3-0.3l0.2 1.5l0.3 0.7l0.2 2.1l0.3 0.7l0.2 3l0.3 1.1l0.2 1.7l0.3-2.3l0.2-2.4l0.3 1.4l0.2 1.8l0.3-0.6l0.2-1.4l0.3-1.6l0.2 0.3l0.2-0.7l0.3-0.5l0.2-0.4l0.3 0.4l0.2-1l0.3-1.1l0.2-1l0.2-0.7l0.3-1.2l0.2-0.7l0.3-2.2l0.2-0.2l0.3 1.9l0.2 0.5l0.3 0.6l0.2 3.1l0.3-1l0.2-0.9l0.2-2.2l0.3-0.8l0.2-1l0.3-1.9l0.2 0.6l0.3-2.1l0.2-1.4l0.3 1.1l0.2 1.9l0.2-1l0.3-1.2l0.2-1.1l0.3-1l0.2 0.8l0.3-1.4l0.2-1.1l0.2 0.3l0.3-0.2l0.2-0.7l0.3-0.7l0.2-0.6l0.3-1l0.2-2.5l0.3-3.1l0.2 0.3l0.3 2.7l0.2 1.3l0.3 1.4l0.3 0l0.2 0.4l0.3-0.3l0.2 0.5l0.2-0.9l0.3-0.8l0.2 0.3l0.3-1.9l0.2 0.4l0.3-1.1l0.2-0.9l0.3-3.7l0.2-0.2l0.3-2.5l0.2-1l0.3-1.6l0.2-0.6l0.3-2.2l0.2-3l0.2-1.7l0.3-1.9l0.3-0.7l0.2-0.8l0.3-1.2l0.2-0.4l0.3-1.6l0.2 0l0.3-2.3l0.2-2l0.3 0.4l0.3 1.8l0.2 0.3l0.3 0.5l0.2 3.8l0.3 2.8l0.2 1.8l0.3 1.6l0.2 0.6l0.2-0.8l0.3-1.7l0.2 0.4l0.3 1.6l0.2 0.4l0.3 2.4l0.2 0.2l0.3 1.4l0.2 1.4l0.3 0.8l0.2 1l0.2 1.1l0.3 0.2l0.2 2.5l0.3-0.8l0.2-0.5l0.3 2.3l0.2-0.2l0.3 1.1l0.2-1l0.3-1.3l0.2 1.7l0.2-0.2l0.3-0.6l0.2-0.4l0.3-1.1l0.2-2.5l0.2-2.4l0.3 1.1l0.2-2.4l0.3-1.2l0.2 0.3l0.3 0.6l0.2-0.1l0.3 0.6l0.2 1.5l0.3 1.5l0.3 0.6l0.2 0.7l0.3-0.6l0.2 0.8l0.3-0.8l0.2 1l0.3 3l0.2 1.5l0.3-0.3l0.2 2.5l0.2-1.4l0.3-2.3l0.2-5l0.3-2.6l0.2-3.3l0.3-1.5l0.2 0.4l0.3-0.5l0.2 0.5l0.3-1.6l0.2-0.3l0.3 1.8l0.2-1.8l0.3-4.5l0.2-2.7l0.3-1.2l0.2-2.5l0.3-4.1l0.2-2.9l0.3-3.4l0.2-2.3l0.3-2.3l0.2-2.9l0.3-3.5l0.2-2.9l0.3-2.4l0.2-2.8l0.3-2.5l0.2-3.4l0.3 0.2l0.2-0.4l0.2-2.6l0.3-2.1l0.2 0.5l0.3-1.2l0.2 0.5l0.3 2.7l0.2-0.2l0.2 2.5l0.3 2.2l0.2 3l0.3-1.3l0.2 1.5l0.3-1l0.2-0.9l0.3-2.3l0.2-3l0.2-0.3l0.3-0.9l0.2 0.1l0.3-3.4l0.2-1.5l0.3-2.2l0.2-1.3l0.3-1.7l0.2 3l0.3 1.2l0.2 1.6l0.3 3l0.3 2.2l0.2-2.1l0.3-3.2l0.2-1.5l0.2-2.6l0.3-2.2l0.2-0.4l0.3 2.4l0.2 1.4l0.3 2.9l0.2 0l0.3 3.1l0.2 2l0.3 0.3l0.2 1.3l0.3 0.9l0.2 1.1l0.2 2l0.3 1l0.2-0.6l0.3-0.2l0.2-1l0.3-2l0.2-1.1l0.2-0.5l0.3 1.2l0.2-0.3l0.3-2l0.2-3.7l0.3-1.8l0.2-3.1l0.3-3.5l0.2-0.9l0.3 1.5l0.2 0.3l0.3-2.5l0.3 0.2l0.2 3.4l0.3 4l0.3 4l0.2 3.9l0.3 2.3l0.3 2l0.2 0.5l0.3 4.4l0.2 0.2l0.3-0.3l0.2 1.8l0.3 2.7l0.2 1.5l0.2 0.2l0.3 0.9l0.2 2.3l0.3 1.2l0.2 1.4l0.3 1.7l0.2 1.5l0.3-0.1l0.2 2.2l0.3 2.2l0.3-1.2l0.2 1.9l0.3 3.3l0.3 0.1l0.2 2.3l0.3 2.4l0.2-1.5l0.3 0.4l0.2-1.9l0.3-1.6l0.2-1.1l0.3 0.8l0.2-1.1l0.3-0.8l0.2-1.2l0.3-1.9l0.3-0.5l0.2-1l0.3-1.1l0.2 0.2l0.2 0.8l0.3 1.7l0.2-1l0.3-0.9l0.2-2l0.3-0.7l0.2-0.1l0.3-0.3l0.2-2l0.3-0.1l0.2-0.4l0.3-1.6l0.2-1.1l0.3-1.2l0.2-0.8l0.3 0l0.2-0.6l0.3-2.3l0.2-2.3l0.3 0l0.2 0.8l0.3 1.2l0.2 1.8l0.3 0.8l0.2 0.5l0.3 2l0.2 0.9l0.3-1.2l0.2-1.4l0.2-1.9l0.3 1.7l0.2-1.8l0.3 0.4l0.2 0.2l0.3 3.9l0.3-0.2l0.2 1.6l0.3-1.9l0.2-1.8l0.3-0.2l0.2-2.5l0.3-2.3l0.2-3l0.3-2.3l0.2-4.4l0.3-2.6l0.2-3.7l0.3-2.7l0.3-6l0.3-5.8l0.2-7.5l0.3 1.4l0.3 1.7l0.2 2.8l0.3 0.7l0.2 1.3l0.3-3.1l0.3-2.5l0.3-2.1l0.2-1.3l0.3-0.5l0.2 1.5l0.3-0.7l0.2-0.5l0.3 4.9l0.3 3.9l0.3 6.6l0.2 2l0.3 4l0.3 1.1l0.2 3.9l0.3 1.1l0.2 0l0.3 2.4l0.2 2.3l0.3-0.8l0.2 2.6l0.2 1.5l0.3 1.1l0.3 3.5l0.2 2.7l0.3 3.3l0.2-2l0.3-1.4l0.2-0.8l0.3-2l0.2-1.3l0.3 0.8l0.2-0.6l0.3 0.9l0.2 0.6l0.2 2.9l0.3-0.1l0.2 0.1l0.3 0.9l0.2 0.7l0.3-0.8l0.2-1.7l0.3-0.5l0.2 2.3l0.3-0.3l0.2-0.4l0.3 0.8l0.2 1l0.2 1.6l0.3 0.7l0.2-0.9l0.3 1l0.2 1.9l0.3 2.8l0.3 3.5l0.2 5.6l0.3 1.1l0.3 0.9l0.2 2l0.3 1.3l0.2-0.2l0.3-2l0.2-1l0.3-0.2l0.2-1.8l0.3-2.2l0.2 0.3l0.2 0l0.3 1.6l0.2 0.3l0.3 0.7l0.2-0.3l0.3 0.1l0.2-1.4l0.3 0.2l0.2-1.8l0.3 1.3l0.2 0l0.3-2.2l0.2-1.3l0.3-1.2l0.2-0.1l0.2-0.2l0.3-0.4l0.2-2l0.3-1.4l0.2-0.5l0.2 1.8l0.3-1.5l0.2 1l0.3 0.3l0.2 0.3l0.3 0.3l0.2-0.5l0.3 1.3l0.2 1.6l0.3 0.5l0.2 0.5l0.2 1.7l0.3-2.4l0.2-2.4l0.3-2.6l0.2-1l0.3-3.1l0.2-1.4l0.3-3.4l0.2 2.5l0.3 0l0.2 0.8l0.2-0.8l0.3 0.7l0.2 0.8l0.3 1.9l0.2-1.1l0.3 0l0.2 0.8l0.2 1.1l0.3 2.4l0.2 1l0.3 1.4l0.2 1.3l0.3 0.3l0.2-0.5l0.3 2.2l0.2 1.4l0.3-2.2l0.2-2.6l0.3-3.3l0.2-2.9l0.3-1.7l0.2-0.6l0.3-0.9l0.2-4l0.3-3.8l0.2-1.9l0.3-3.4l0.2 0.1l0.3 0.3l0.2-2.5l0.3 1.2l0.2-1l0.3-0.2l0.2 0l0.3-1.4l0.2-0.3l0.3-1.5l0.2 0.9l0.2-1.6l0.3 0.2l0.2 2.4l0.3 3l0.2 0.1l0.3 0.7l0.2 1.9l0.2 1.7l0.3-0.8l0.2-1.8l0.3-3.5l0.2 0.4l0.3-1.8l0.2-1.6l0.2 1l0.3-0.6l0.2 1.1l0.3-1.2l0.2-2.4l0.3 2.3l0.2-1.4l0.3 1.3l0.2 2.9l0.3 1.2l0.2 2.9l0.3 0.4l0.2 2.8l0.3 0.2l0.2-0.5l0.2-0.5l0.3-0.4l0.2 1.3l0.3-1.1l0.2-1l0.3 1l0.2 1.1l0.2 1.3l0.3 0.4l0.2 0.9l0.3-0.8l0.2 4.2l0.3 1.8l0.2-0.2l0.3 0.9l0.2 2l0.2 0.7l0.3 0.4l0.2-3l0.3-1.7l0.2-2.3l0.3-1.6l0.2-2.9l0.3-4.4l0.2 3.1l0.3 1l0.2 0.5l0.3 0.9l0.3 1.5l0.2-4l0.2-3.2l0.3-2.9l0.2 0l0.3-3.6l0.2-0.5l0.3-0.4l0.3-1.7l0.2 0.4l0.3-0.4l0.3 1.6l0.2-0.6l0.3 1l0.3 0.8l0.2 1.7l0.3-0.6l0.2 1.3l0.3 0.5l0.2 1.7l0.2 2l0.3 3.9l0.3 4.6l0.2 4l0.3 3.2l0.2 7.2l0.3 4.8l0.3 4.2l0.3 5.4l0.2 3.4l0.3 3.4l0.2 2.5l0.3 3.2l0.2 2.8l0.3-2.1l0.3-2l0.2-1.9l0.3-0.2l0.3 2.5l0.2 3.3l0.3 1.7l0.3 3.5l0.2-2.7l0.3-0.3l0.2-3l0.3-1.8l0.2-1.6l0.3-3.3l0.2-1.5l0.2-2.1l0.3-1.3l0.2 0.3l0.3-3.7l0.2-0.9l0.3 0.4l0.2-0.1l0.3 0.4l0.2 0.9l0.3-0.8l0.2 2.9l0.2 2.8l0.3-1.5l0.2 1.3l0.3-0.4l0.2-1.9l0.2 1.4l0.3-1l0.2 0.4l0.3 2.2l0.2 2.4l0.3 2.7l0.2 3l0.3 2.5l0.2 0.5l0.3-0.1l0.2 1.5l0.3 2l0.2 2.8l0.3 0.6l0.2 2.9l0.2 2.8l0.3 2.9l0.2 1.8l0.3 1.6l0.2 0.5l0.3 1.8l0.2 1.5l0.2-0.1l0.3 0.3l0.2 1.3l0.3-0.8l0.2-1.3l0.3-1.7l0.2 1.1l0.2-1.4l0.3-1.9l0.2 0.5l0.3-1l0.2-1.5l0.3-1.2l0.2 1.8l0.3 3.2l0.2 3.3l0.3 0.8l0.2 1.2l0.3 3.1l0.2 0.9l0.3 0.5l0.2 2.2l0.3 1.6l0.2-0.5l0.3 0.8l0.3 0.9l0.2 1.2l0.3 0.7l0.3-5l0.2-1.8l0.3-3.4l0.3-3.5l0.2-3.8l0.3-3.9l0.3-2.9l0.2-5.3l0.3-6.4l0.3-6.8l0.2-4.3l0.3-6.8l0.3 4l0.3 6.4l0.2 6.3l0.3-0.3l0.2-2.4l0.3-4.1l0.3-1.6l0.2-0.4l0.3 2.7l0.2 3.9l0.3 2.3l0.3 0.8l0.2-5.8l0.3-7.6l0.3-5.3l0.2-5.5l0.3-11.8l0.3-8.5l0.3-10.9l0.2 2.6l0.3 3.5l0.2 3.5l0.3 2l0.3 4l0.2-0.5l0.3-2.1l0.2-1.3l0.2-3.6l0.3-3.9l0.2-3.5l0.3-0.1l0.2-1.2l0.3 0.2l0.2-0.4l0.3 0.6l0.2 0.9l0.3 0.3l0.2 2.9l0.3 3.4l0.2 2.2l0.3 1.9l0.3-4.3l0.2-1l0.2-1.3l0.3 0.1l0.2-2l0.3-0.7l0.3 6.8l0.2 6.4l0.3 6.2l0.3 6.3l0.2-1l0.3-2.6l0.2-3l0.3 0.7l0.2-0.6l0.3-4l0.2-1.3l0.3-3.2l0.2-5l0.3-1.3l0.3 2.2l0.2 2.2l0.3 1.1l0.2 4.4l0.3 2.8l0.2-1.9l0.3-2.9l0.2-1l0.3-0.4l0.2-1.9l0.3-6.1l0.2-4.2l0.3-2.9l0.2-2.8l0.2-2.1l0.3-4.2l0.2-4.8l0.3-3.8l0.3-3.9l0.2-1.6l0.3-2.3l0.2-5.1l0.3-1.3l0.2-0.8l0.3-3.3l0.2-0.6l0.3-0.2l0.2-2.2l0.3 3.6l0.2 1.3l0.3 3.5l0.3 2.7l0.2-2.8l0.3-1.7l0.2-3.2l0.3-0.7l0.2-3.3l0.3 2.2l0.2 4.6l0.3 3.1l0.3 3l0.2 1.8l0.3-0.6l0.2-2l0.3 1.3l0.2-1.9l0.3-1.5l0.2 2l0.3 2.3l0.2 0.9l0.3 1.8l0.2 3.3l0.3-0.1l0.2 2.2l0.3 2.3l0.2 0.8l0.3 3.3l0.2 3.1l0.3 1.2l0.2-2.7l0.3-3.7l0.2-0.6l0.3-1l0.2-0.8l0.3 0.5l0.2-1.7l0.3-1.2l0.2 0.9l0.3-2l0.2 0.5l0.3-3.3l0.2-0.4l0.3-0.7l0.2-1.6l0.3-2.5l0.2-1.2l0.3-1l0.2 1.4l0.3 1.5l0.2 1.5l0.3-0.4l0.2 2.3l0.3 3.9l0.3 2.7l0.2 3.3l0.3-1.6l0.2-1.8l0.3-1.6l0.2-0.4l0.3-0.8l0.2-2.2l0.3-1.9l0.2-2.8l0.2-1l0.3-4.3l0.2-0.8l0.3-1.5l0.2-1.1l0.3 4.8l0.3 1.8l0.3 4l0.2-3.1l0.3-0.8l0.2-2l0.3-2.4l0.2-4.3l0.3-1.7l0.2-0.5l0.3-1.7l0.2-2.8l0.3-1.6l0.2-0.2l0.3-0.1l0.2-0.5l0.3 0.1l0.2-0.2l0.3-2.2l0.2 0.8l0.3 2l0.2-0.8l0.3 1.6l0.2 2.7l0.3 1.2l0.2-0.9l0.3-2l0.2 0.3l0.3-2.4l0.2-1l0.3-2.7l0.2-1.3l0.3 1.1l0.2 0.7l0.3-3.6l0.2 0.5l0.3-1.1l0.2 0l0.3 0.1l0.2 0.5l0.3-0.5l0.2-2.1l0.3 1.2l0.2-0.1l0.3 2.8l0.2 1.3l0.3 0.7l0.2 2.6l0.3-0.4l0.2 1.1l0.3 0.1l0.2 2.5l0.3-0.5l0.2 2l0.3 0.7l0.2 2.2l0.3 3.1l0.2 2.5l0.3 2.3l0.2 1.8l0.3 2.2l0.2-1.6l0.3 1.3l0.2 0.6l0.3 1.9l0.2 3.8l0.3 3l0.3 3l0.2 1.8l0.3 2.4l0.2 3.3l0.3 5.2l0.2 3.9l0.3 1.9l0.3-1.4l0.2-4.2l0.3-5.1l0.2-3.2l0.3-4.2l0.2 2.8l0.3 3.9l0.2 3.9l0.3 0.1l0.2 4.7l0.3 1.6l0.2-0.3l0.3 0.7l0.2 0.5l0.3 1.3l0.2 1.3l0.3 2.6l0.2 3.4l0.3 1.4l0.2 1.6l0.3 0.7l0.2 0.1l0.3-0.6l0.2-2.8l0.2 1.7l0.3 1.1l0.2-1.7l0.3 0.1l0.2-1.5l0.3 0.6l0.2 0.5l0.2 1.5l0.3 0l0.2 0.8l0.3 0.3l0.2 1.5l0.3-3l0.2-1.6l0.3-1.9l0.2 1l0.2-2.7l0.3 1.8l0.2 0.2l0.3-0.6l0.2 0l0.3-0.5l0.2 1.2l0.3-0.3l0.2-0.4l0.3 0.6l0.2 1.1l0.3 1.4l0.2-0.3l0.2 1.5l0.3 1.1l0.2-0.5l0.3 0.8l0.2 0.1l0.2 1.3l0.3 1.9l0.2-2.6l0.3-0.3l0.2 0.2l0.3 2.7l0.2 1.1l0.3-1.7l0.2 2.3l0.3 1.4l0.2 0.3l0.3 1.2l0.2 0.2l0.3-1l0.2 1l0.2 1.1l0.3 0.7l0.2 1.3l0.3 2.2l0.2-0.3l0.3 1.1l0.2 0.2l0.2 1.1l0.3 0.5l0.2 0.3l0.3-2l0.2-2.3l0.3-1l0.2-2.3l0.2-1.3l0.3 2.6l0.2 1.3l0.3 2.8l0.2 0.3l0.3 1.3l0.2 4.4l0.3-1.6l0.2-1.4l0.3-2.4l0.2-0.6l0.3-2l0.2-3.2l0.3-0.6l0.2 1.3l0.2-0.1l0.3 0.4l0.2-0.3l0.3 1.3l0.2 1.3l0.3-1.6l0.2-1.5l0.3-1.6l0.3 0.2l0.2 2.7l0.3 4.8l0.2 1.9l0.3-0.3l0.2 2.5l0.3 1.5l0.2-1.1l0.2-0.6l0.3-0.7l0.2-1.4l0.3-0.8l0.2-0.6l0.3-1.1l0.2 0.1l0.3-1.1l0.3 1.6l0.2-0.6l0.3 0.1l0.3-0.8l0.2 0.9l0.3 1.2l0.2 0.1l0.3-1l0.2 2.4l0.3 3.2l0.2 0.8l0.2 1l0.3 2l0.2 2l0.3-0.5l0.2 2.2l0.3 2.4l0.2 0.4l0.3 2.1l0.2-0.2l0.3 1.7l0.2 1.4l0.3-0.6l0.2 2.7l0.3 1.1l0.2 0.4l0.3 1l0.2 1.1l0.3 0.6l0.2-0.4l0.3-2.2l0.3-3.1l0.2-1l0.3-3.1l0.2 0.5l0.2 0.5l0.2 0.4" fill="none" stroke="#640909" stroke-width="2.0" stroke-linejoin="miter" stroke-linecap="round"/>
<text x="768.6" y="857.9" fill="#000" text-anchor="start" font-weight="bold" textLength="168.8" lengthAdjust="spacing" xml:space="preserve" style="white-space:pre"><tspan font-family='"Liberation Sans", sans-serif' font-size="10.5">A</tspan><tspan font-family='"Liberation Sans", "Noto Serif CJK SC", serif' font-size="11">股股息收益率</tspan><tspan font-family='"Liberation Sans", sans-serif' font-size="10.5">/</tspan><tspan font-family='"Liberation Sans", "Noto Serif CJK SC", serif' font-size="11">债券到期收益率</tspan></text>
<line x1="646.6" y1="876.2" x2="664.0" y2="876.2" stroke="#640909" stroke-width="2"/>
<text x="665.1" y="879.0" fill="#000" text-anchor="start" textLength="85.0" lengthAdjust="spacing" xml:space="preserve" style="white-space:pre"><tspan font-family='"Liberation Sans", "Noto Serif CJK SC", serif' font-size="11.3">相对内在回报率</tspan></text>
<line x1="754.5" y1="876.2" x2="767.5" y2="876.2" stroke="#c8975a" stroke-width="2"/>
<text x="773.7" y="879.0" font-size="10.7" font-family='"Liberation Sans", "Noto Sans CJK SC", sans-serif' fill="#000" text-anchor="start" xml:space="preserve" style="white-space:pre">AVG (2005- )</text>
<line x1="839.5" y1="876.2" x2="858.0" y2="876.2" stroke="#a6a6a6" stroke-width="1.6" stroke-dasharray="5.5 6.5"/>
<text x="858.7" y="879.0" font-size="10.2" font-family='"Liberation Sans", "Noto Sans CJK SC", sans-serif' fill="#000" text-anchor="start" xml:space="preserve" style="white-space:pre">+1.5STD</text>
<line x1="902.3" y1="876.2" x2="920.8" y2="876.2" stroke="#a6a6a6" stroke-width="1.6" stroke-dasharray="5.5 6.5"/>
<text x="921.5" y="879.0" font-size="10.2" font-family='"Liberation Sans", "Noto Sans CJK SC", sans-serif' fill="#000" text-anchor="start" xml:space="preserve" style="white-space:pre">+1STD</text>
<line x1="957.0" y1="876.2" x2="974.3" y2="876.2" stroke="#a6a6a6" stroke-width="1.6" stroke-dasharray="5.5 6.5"/>
<text x="975.5" y="879.0" font-size="10.2" font-family='"Liberation Sans", "Noto Sans CJK SC", sans-serif' fill="#000" text-anchor="start" xml:space="preserve" style="white-space:pre">-1STD</text>
<line x1="1008.3" y1="876.2" x2="1026.0" y2="876.2" stroke="#a6a6a6" stroke-width="1.6" stroke-dasharray="5.5 6.5"/>
<text x="1026.8" y="879.0" font-size="10.2" font-family='"Liberation Sans", "Noto Sans CJK SC", sans-serif' fill="#000" text-anchor="start" xml:space="preserve" style="white-space:pre">-1.5STD</text>
</svg>
</body></html>
